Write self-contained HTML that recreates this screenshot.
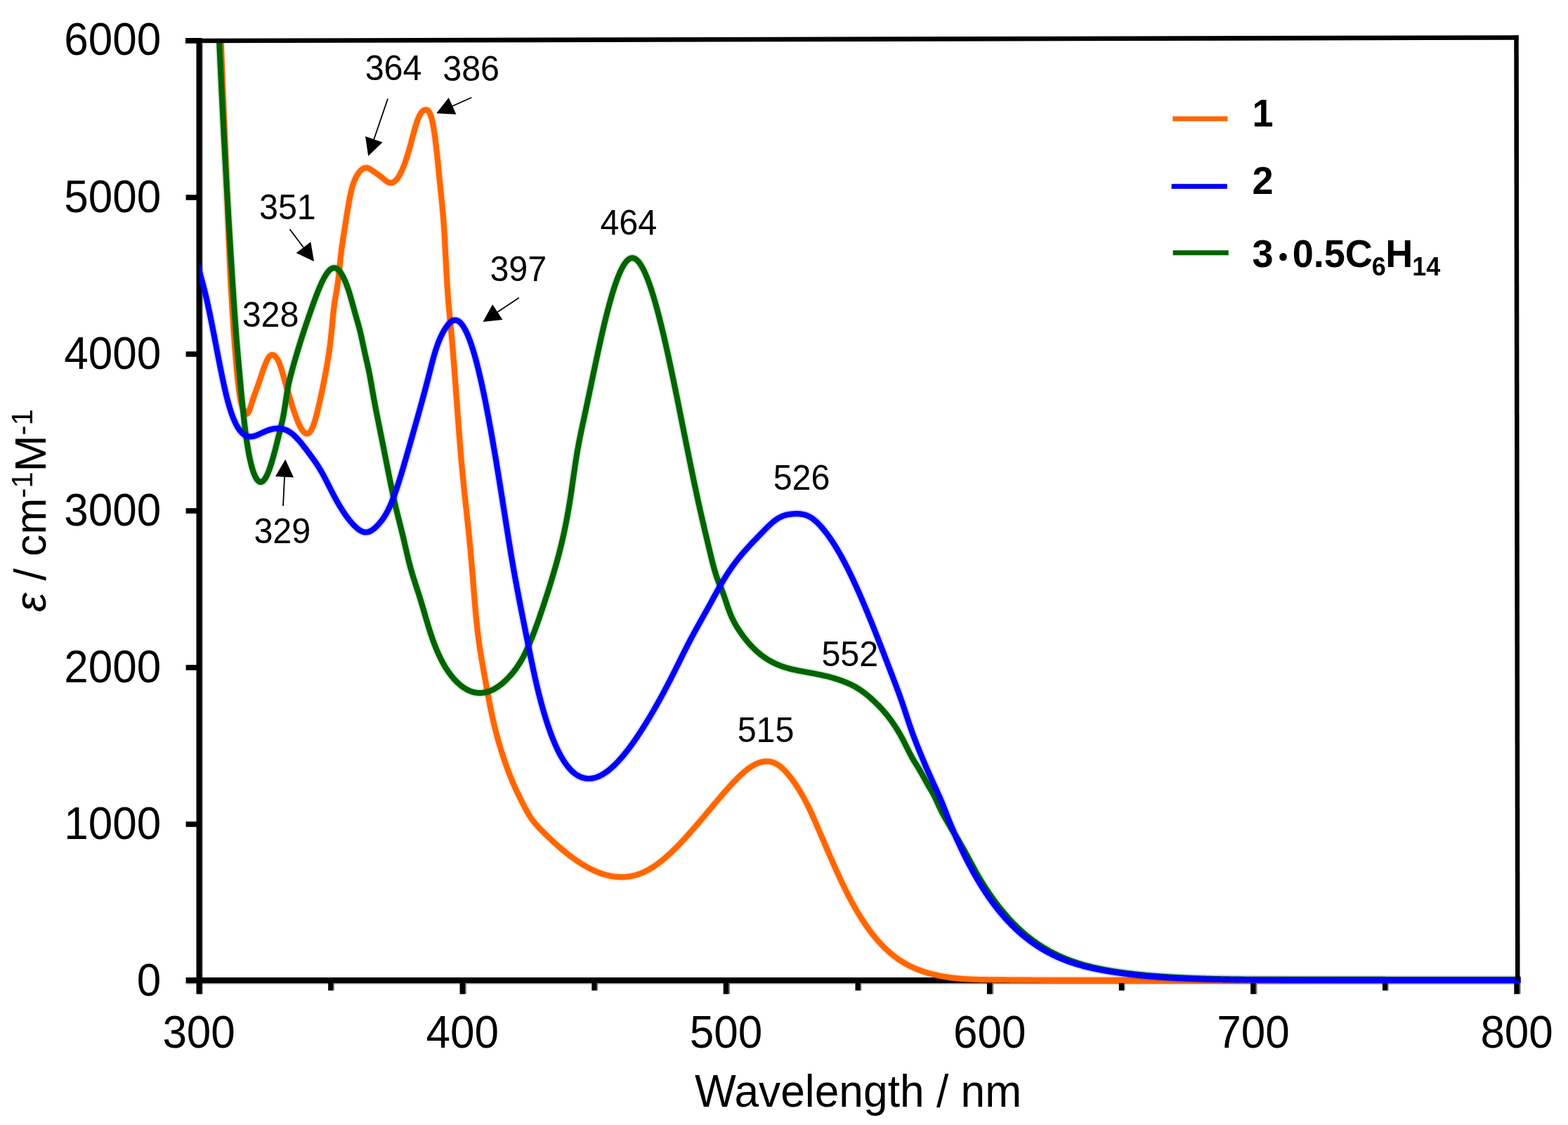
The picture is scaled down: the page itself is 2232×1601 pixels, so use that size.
<!DOCTYPE html>
<html lang="en"><head><meta charset="utf-8"><title>UV-vis absorption spectra</title>
<style>
html,body{margin:0;padding:0;background:#fff;}
body{width:2232px;height:1601px;overflow:hidden;}
svg{display:block;font-family:"Liberation Sans",Arial,Helvetica,sans-serif;fill:#000;}
.tk{font-size:62px;}
.an{font-size:48.4px;}
.lg{font-size:54px;font-weight:bold;}
.ax{font-size:62.3px;}
</style></head><body>
<svg xmlns="http://www.w3.org/2000/svg" width="2232" height="1601" viewBox="0 0 2232 1601">
<rect width="2232" height="1601" fill="#fff"/>
<defs><clipPath id="plot"><rect x="283.8" y="56" width="1880.8" height="1360"/></clipPath></defs>

<g fill="#000" stroke="none">
<rect x="279.5" y="54" width="8.1" height="1360.7"/>
<rect x="287.6" y="62" width="1.2" height="1352.7" fill-opacity="0.45"/>
<rect x="264.6" y="1391.0" width="1899.6" height="8.1"/>
<rect x="264.6" y="1399.1" width="1899.6" height="1.4" fill-opacity="0.4"/>
<rect x="264.6" y="1169.2" width="16" height="7.6"/>
<rect x="264.6" y="946.2" width="16" height="7.6"/>
<rect x="264.6" y="723.2" width="16" height="7.6"/>
<rect x="264.6" y="500.2" width="16" height="7.6"/>
<rect x="264.6" y="277.2" width="16" height="7.6"/>
<rect x="264" y="54" width="20" height="7.8"/>
<rect x="467.1" y="1395" width="7.4" height="14.6"/>
<rect x="474.5" y="1400" width="1.6" height="9.6" fill-opacity="0.4"/>
<rect x="654.5" y="1395" width="7.6" height="19.7"/>
<rect x="662.1" y="1400" width="1.8" height="14.7" fill-opacity="0.5"/>
<rect x="842.3" y="1395" width="7.4" height="14.6"/>
<rect x="849.7" y="1400" width="1.6" height="9.6" fill-opacity="0.4"/>
<rect x="1029.7" y="1395" width="7.6" height="19.7"/>
<rect x="1037.3" y="1400" width="1.8" height="14.7" fill-opacity="0.5"/>
<rect x="1217.5" y="1395" width="7.4" height="14.6"/>
<rect x="1224.9" y="1400" width="1.6" height="9.6" fill-opacity="0.4"/>
<rect x="1404.9" y="1395" width="7.6" height="19.7"/>
<rect x="1412.5" y="1400" width="1.8" height="14.7" fill-opacity="0.5"/>
<rect x="1592.7" y="1395" width="7.4" height="14.6"/>
<rect x="1600.1" y="1400" width="1.6" height="9.6" fill-opacity="0.4"/>
<rect x="1780.1" y="1395" width="7.6" height="19.7"/>
<rect x="1787.7" y="1400" width="1.8" height="14.7" fill-opacity="0.5"/>
<rect x="1967.9" y="1395" width="7.4" height="14.6"/>
<rect x="1975.3" y="1400" width="1.6" height="9.6" fill-opacity="0.4"/>
<rect x="2155.3" y="1395" width="7.6" height="19.7"/>
<rect x="2162.9" y="1400" width="1.8" height="14.7" fill-opacity="0.5"/>
</g>
<g fill="none" stroke-linejoin="round" stroke-linecap="butt" clip-path="url(#plot)">
<defs><path id="c1" d="M312.40,-0.37 L312.48,1.91 L312.56,4.18 L312.64,6.45 L312.72,8.71 L312.80,10.97 L312.88,13.22 L312.96,15.46 L313.04,17.70 L313.12,19.93 L313.20,22.15 L313.28,24.37 L313.36,26.58 L313.44,28.79 L313.52,30.99 L313.60,33.19 L313.68,35.38 L313.76,37.56 L313.84,39.74 L313.92,41.92 L314.00,44.09 L314.08,46.25 L314.16,48.41 L314.24,50.56 L314.32,52.71 L314.40,54.86 L314.48,56.99 L314.56,59.13 L314.64,61.26 L314.72,63.38 L314.80,65.50 L314.88,67.62 L314.96,69.73 L315.04,71.84 L315.12,73.94 L315.20,76.04 L315.28,78.13 L315.36,80.22 L315.44,82.31 L315.52,84.39 L315.60,86.47 L315.68,88.54 L315.76,90.61 L315.84,92.68 L315.92,94.74 L316.00,96.80 L316.08,98.86 L316.16,100.91 L316.24,102.96 L316.32,105.00 L316.40,107.04 L316.48,109.08 L316.56,111.12 L316.64,113.15 L316.72,115.18 L316.80,117.21 L316.88,119.23 L316.96,121.26 L317.04,123.28 L317.12,125.29 L317.20,127.31 L317.28,129.32 L317.36,131.33 L317.44,133.33 L317.52,135.34 L317.60,137.34 L317.68,139.34 L317.76,141.33 L317.84,143.33 L317.92,145.32 L318.00,147.32 L318.08,149.31 L318.16,151.29 L318.24,153.28 L318.32,155.26 L318.40,157.25 L318.48,159.23 L318.56,161.21 L318.64,163.19 L318.72,165.17 L318.80,167.14 L318.88,169.12 L318.96,171.09 L319.04,173.07 L319.12,175.04 L319.20,177.01 L319.28,178.98 L319.36,180.95 L319.44,182.92 L319.52,184.89 L319.60,186.86 L319.68,188.82 L319.76,190.79 L319.84,192.76 L319.92,194.72 L320.00,196.69 L320.08,198.66 L320.16,200.62 L320.24,202.59 L320.32,204.55 L320.40,206.52 L320.48,208.49 L320.56,210.45 L320.64,212.42 L320.72,214.39 L320.80,216.36 L320.88,218.32 L320.96,220.29 L321.04,222.26 L321.12,224.23 L321.20,226.20 L321.28,228.18 L321.36,230.15 L321.44,232.12 L321.52,234.10 L321.60,236.07 L321.68,238.05 L321.76,240.03 L321.84,242.01 L321.92,243.99 L322.00,245.97 L322.08,247.96 L322.16,249.94 L322.24,251.93 L322.32,253.92 L322.40,255.91 L322.48,257.91 L322.56,259.90 L322.64,261.90 L322.72,263.90 L322.80,265.90 L322.88,267.90 L322.96,269.91 L323.04,271.92 L323.12,273.93 L323.20,275.94 L323.28,277.96 L323.36,279.98 L323.44,282.00 L323.52,284.02 L323.60,286.05 L323.68,288.08 L323.76,290.11 L323.84,292.14 L323.92,294.18 L324.00,296.22 L324.08,298.27 L324.16,300.32 L324.24,302.37 L324.32,304.42 L324.40,306.48 L324.48,308.53 L324.56,310.59 L324.64,312.65 L324.72,314.71 L324.80,316.77 L324.88,318.83 L324.96,320.88 L325.04,322.93 L325.12,324.99 L325.20,327.03 L325.28,329.08 L325.36,331.12 L325.44,333.16 L325.52,335.19 L325.60,337.21 L325.68,339.23 L325.76,341.25 L325.84,343.26 L325.92,345.26 L326.00,347.25 L326.08,349.23 L326.16,351.21 L326.24,353.17 L326.32,355.13 L326.40,357.07 L326.48,359.01 L326.56,360.93 L326.64,362.84 L326.72,364.74 L326.80,366.63 L326.88,368.50 L326.96,370.36 L327.04,372.21 L327.12,374.04 L327.20,375.85 L327.28,377.65 L327.36,379.43 L327.44,381.20 L327.52,382.95 L327.60,384.68 L327.68,386.40 L327.76,388.09 L327.84,389.77 L327.92,391.43 L328.00,393.08 L328.08,394.71 L328.16,396.32 L328.24,397.92 L328.32,399.50 L328.40,401.07 L328.48,402.62 L328.56,404.16 L328.64,405.68 L328.72,407.19 L328.80,408.69 L328.88,410.17 L328.96,411.65 L329.04,413.11 L329.12,414.55 L329.20,415.99 L329.28,417.42 L329.36,418.83 L329.44,420.24 L329.52,421.63 L329.60,423.02 L329.68,424.39 L329.76,425.76 L329.84,427.12 L329.92,428.47 L330.00,429.81 L330.08,431.15 L330.16,432.47 L330.24,433.79 L330.32,435.11 L330.40,436.42 L330.48,437.72 L330.56,439.02 L330.64,440.31 L330.72,441.60 L330.80,442.88 L330.88,444.16 L330.96,445.43 L331.04,446.70 L331.12,447.96 L331.20,449.22 L331.28,450.47 L331.36,451.72 L331.44,452.96 L331.52,454.20 L331.60,455.43 L331.68,456.66 L331.76,457.89 L331.84,459.10 L331.92,460.32 L332.00,461.52 L332.08,462.73 L332.16,463.92 L332.24,465.12 L332.32,466.30 L332.40,467.49 L332.48,468.66 L332.56,469.83 L332.64,471.00 L332.72,472.16 L332.80,473.32 L332.88,474.47 L332.96,475.61 L333.04,476.75 L333.12,477.89 L333.20,479.02 L333.28,480.14 L333.36,481.26 L333.44,482.37 L333.52,483.48 L333.60,484.58 L333.68,485.68 L333.76,486.77 L333.84,487.86 L333.92,488.94 L334.00,490.01 L334.08,491.08 L334.16,492.14 L334.24,493.20 L334.32,494.25 L334.40,495.30 L334.48,496.34 L334.56,497.38 L334.64,498.41 L334.72,499.43 L334.80,500.45 L334.88,501.46 L334.96,502.47 L335.04,503.47 L335.12,504.47 L335.20,505.46 L335.28,506.46 L335.36,507.45 L335.44,508.44 L335.53,509.44 L335.61,510.43 L335.69,511.42 L335.78,512.42 L335.86,513.41 L335.95,514.40 L336.03,515.40 L336.12,516.39 L336.20,517.38 L336.29,518.38 L336.38,519.37 L336.47,520.36 L336.56,521.35 L336.65,522.34 L336.74,523.34 L336.83,524.33 L336.92,525.32 L337.01,526.31 L337.11,527.30 L337.20,528.29 L337.30,529.29 L337.39,530.28 L337.49,531.27 L337.59,532.26 L337.68,533.25 L337.78,534.24 L337.88,535.23 L337.99,536.22 L338.09,537.21 L338.19,538.20 L338.30,539.19 L338.40,540.18 L338.51,541.16 L338.62,542.15 L338.73,543.14 L338.84,544.13 L338.95,545.12 L339.06,546.10 L339.18,547.09 L339.29,548.08 L339.41,549.06 L339.53,550.05 L339.65,551.03 L339.78,552.02 L339.90,553.00 L340.03,553.98 L340.16,554.97 L340.29,555.95 L340.43,556.93 L340.56,557.91 L340.70,558.89 L340.84,559.87 L340.99,560.85 L341.14,561.83 L341.29,562.80 L341.45,563.78 L341.61,564.75 L341.77,565.72 L341.94,566.69 L342.11,567.66 L342.30,568.63 L342.48,569.59 L342.68,570.55 L342.88,571.51 L343.09,572.46 L343.31,573.41 L343.55,574.35 L343.80,575.29 L344.06,576.23 L344.34,577.15 L344.63,578.08 L344.95,578.99 L345.29,579.90 L345.65,580.80 L346.03,581.69 L346.44,582.58 L346.86,583.46 L347.31,584.34 L347.76,585.23 L348.22,586.09 L348.70,586.93 L349.22,587.72 L349.80,588.43 L350.50,588.96 L351.40,589.04 L352.36,588.41 L353.07,587.54 L353.64,586.62 L354.12,585.68 L354.56,584.73 L354.97,583.78 L355.35,582.83 L355.71,581.87 L356.06,580.92 L356.39,579.96 L356.72,579.00 L357.03,578.04 L357.35,577.08 L357.65,576.12 L357.95,575.17 L358.25,574.21 L358.55,573.25 L358.85,572.30 L359.15,571.34 L359.44,570.39 L359.74,569.44 L360.04,568.49 L360.34,567.54 L360.65,566.60 L360.96,565.66 L361.28,564.72 L361.60,563.78 L361.93,562.84 L362.26,561.90 L362.59,560.96 L362.93,560.03 L363.27,559.09 L363.62,558.16 L363.96,557.22 L364.31,556.28 L364.66,555.35 L365.01,554.41 L365.36,553.47 L365.70,552.53 L366.05,551.59 L366.39,550.65 L366.74,549.70 L367.07,548.76 L367.41,547.81 L367.74,546.86 L368.07,545.91 L368.40,544.97 L368.72,544.02 L369.05,543.07 L369.37,542.12 L369.69,541.17 L370.00,540.22 L370.32,539.27 L370.64,538.32 L370.96,537.37 L371.27,536.42 L371.59,535.47 L371.90,534.53 L372.22,533.58 L372.54,532.63 L372.86,531.69 L373.18,530.74 L373.50,529.80 L373.82,528.85 L374.14,527.91 L374.47,526.97 L374.80,526.03 L375.13,525.09 L375.47,524.15 L375.81,523.22 L376.15,522.29 L376.50,521.36 L376.85,520.43 L377.21,519.50 L377.57,518.58 L377.94,517.66 L378.32,516.75 L378.71,515.84 L379.10,514.94 L379.51,514.04 L379.93,513.15 L380.37,512.27 L380.82,511.40 L381.29,510.55 L381.78,509.71 L382.30,508.89 L382.86,508.10 L383.45,507.35 L384.10,506.65 L384.81,506.02 L385.61,505.51 L386.49,505.15 L387.45,505.00 L388.45,505.10 L389.43,505.44 L390.33,505.96 L391.16,506.59 L391.92,507.30 L392.62,508.06 L393.28,508.86 L393.90,509.69 L394.48,510.54 L395.02,511.42 L395.53,512.31 L396.01,513.22 L396.47,514.14 L396.90,515.07 L397.31,516.01 L397.70,516.96 L398.07,517.91 L398.43,518.87 L398.77,519.82 L399.10,520.78 L399.43,521.74 L399.75,522.70 L400.06,523.66 L400.36,524.62 L400.66,525.58 L400.96,526.54 L401.25,527.51 L401.54,528.47 L401.82,529.43 L402.10,530.40 L402.38,531.36 L402.66,532.32 L402.94,533.29 L403.22,534.25 L403.49,535.21 L403.77,536.17 L404.04,537.13 L404.32,538.10 L404.59,539.06 L404.87,540.02 L405.14,540.98 L405.42,541.94 L405.69,542.90 L405.97,543.86 L406.24,544.82 L406.52,545.78 L406.79,546.75 L407.07,547.71 L407.35,548.67 L407.62,549.63 L407.90,550.59 L408.18,551.55 L408.46,552.51 L408.73,553.47 L409.01,554.42 L409.29,555.38 L409.57,556.34 L409.85,557.30 L410.14,558.26 L410.42,559.22 L410.70,560.18 L410.98,561.13 L411.27,562.09 L411.55,563.05 L411.84,564.00 L412.13,564.96 L412.41,565.92 L412.70,566.87 L412.99,567.83 L413.28,568.78 L413.57,569.74 L413.87,570.69 L414.16,571.64 L414.46,572.60 L414.75,573.55 L415.05,574.50 L415.35,575.45 L415.65,576.41 L415.95,577.36 L416.26,578.31 L416.56,579.25 L416.87,580.20 L417.18,581.15 L417.49,582.10 L417.80,583.04 L418.12,583.99 L418.44,584.93 L418.75,585.88 L419.08,586.82 L419.40,587.76 L419.73,588.70 L420.06,589.64 L420.40,590.58 L420.73,591.51 L421.07,592.45 L421.42,593.38 L421.77,594.31 L422.12,595.24 L422.48,596.17 L422.84,597.09 L423.21,598.01 L423.58,598.93 L423.96,599.85 L424.35,600.76 L424.74,601.67 L425.14,602.58 L425.55,603.48 L425.96,604.38 L426.39,605.27 L426.82,606.15 L427.27,607.03 L427.73,607.91 L428.20,608.77 L428.69,609.62 L429.19,610.47 L429.72,611.29 L430.26,612.11 L430.84,612.90 L431.43,613.66 L432.07,614.40 L432.74,615.09 L433.46,615.73 L434.24,616.30 L435.08,616.76 L435.99,617.07 L436.96,617.19 L437.96,617.05 L438.93,616.67 L439.81,616.10 L440.61,615.39 L441.31,614.61 L441.95,613.78 L442.53,612.91 L443.06,612.02 L443.55,611.11 L444.02,610.19 L444.45,609.26 L444.86,608.32 L445.26,607.38 L445.63,606.43 L446.00,605.48 L446.35,604.53 L446.69,603.57 L447.01,602.61 L447.34,601.65 L447.65,600.69 L447.95,599.72 L448.25,598.76 L448.54,597.79 L448.83,596.82 L449.11,595.85 L449.39,594.88 L449.66,593.91 L449.93,592.94 L450.19,591.97 L450.45,591.00 L450.71,590.03 L450.96,589.05 L451.21,588.08 L451.46,587.10 L451.71,586.13 L451.95,585.15 L452.19,584.18 L452.43,583.20 L452.66,582.23 L452.90,581.25 L453.13,580.27 L453.36,579.30 L453.59,578.32 L453.82,577.34 L454.04,576.36 L454.26,575.38 L454.49,574.41 L454.71,573.43 L454.93,572.45 L455.15,571.47 L455.36,570.49 L455.58,569.51 L455.80,568.53 L456.01,567.56 L456.22,566.58 L456.44,565.60 L456.65,564.62 L456.86,563.64 L457.07,562.66 L457.28,561.68 L457.48,560.70 L457.69,559.72 L457.90,558.74 L458.10,557.76 L458.31,556.78 L458.51,555.79 L458.72,554.81 L458.92,553.83 L459.12,552.85 L459.32,551.87 L459.52,550.89 L459.72,549.90 L459.92,548.92 L460.11,547.94 L460.31,546.96 L460.51,545.97 L460.70,544.99 L460.89,544.01 L461.09,543.02 L461.28,542.04 L461.47,541.06 L461.66,540.07 L461.85,539.09 L462.04,538.10 L462.23,537.12 L462.41,536.13 L462.60,535.15 L462.78,534.17 L462.97,533.18 L463.15,532.19 L463.34,531.21 L463.52,530.22 L463.70,529.24 L463.88,528.25 L464.06,527.27 L464.24,526.28 L464.42,525.29 L464.59,524.31 L464.77,523.32 L464.95,522.33 L465.12,521.35 L465.30,520.36 L465.47,519.37 L465.64,518.39 L465.81,517.40 L465.98,516.41 L466.15,515.42 L466.32,514.43 L466.49,513.44 L466.66,512.45 L466.82,511.46 L466.99,510.47 L467.15,509.48 L467.31,508.48 L467.47,507.49 L467.62,506.50 L467.78,505.50 L467.93,504.51 L468.08,503.51 L468.23,502.52 L468.37,501.52 L468.52,500.52 L468.66,499.53 L468.80,498.53 L468.94,497.53 L469.08,496.53 L469.21,495.54 L469.34,494.54 L469.47,493.54 L469.60,492.54 L469.73,491.54 L469.85,490.54 L469.98,489.54 L470.10,488.54 L470.22,487.54 L470.34,486.54 L470.45,485.54 L470.57,484.54 L470.68,483.54 L470.79,482.54 L470.90,481.54 L471.01,480.54 L471.12,479.54 L471.23,478.54 L471.33,477.54 L471.44,476.54 L471.54,475.53 L471.64,474.54 L471.74,473.54 L471.84,472.54 L471.94,471.54 L472.03,470.54 L472.13,469.54 L472.23,468.54 L472.32,467.55 L472.42,466.55 L472.52,465.55 L472.61,464.56 L472.71,463.56 L472.80,462.57 L472.90,461.57 L472.99,460.57 L473.09,459.58 L473.18,458.59 L473.28,457.59 L473.37,456.60 L473.47,455.61 L473.57,454.61 L473.66,453.62 L473.76,452.63 L473.86,451.64 L473.96,450.65 L474.06,449.65 L474.16,448.67 L474.26,447.68 L474.36,446.69 L474.47,445.70 L474.58,444.71 L474.68,443.73 L474.79,442.74 L474.90,441.76 L475.02,440.77 L475.13,439.79 L475.25,438.81 L475.37,437.83 L475.49,436.85 L475.62,435.87 L475.75,434.89 L475.88,433.91 L476.02,432.93 L476.16,431.95 L476.30,430.97 L476.44,429.99 L476.59,429.01 L476.74,428.03 L476.89,427.05 L477.05,426.07 L477.21,425.09 L477.37,424.11 L477.53,423.13 L477.70,422.15 L477.87,421.17 L478.03,420.19 L478.20,419.21 L478.37,418.22 L478.54,417.23 L478.71,416.25 L478.88,415.26 L479.05,414.27 L479.22,413.28 L479.38,412.28 L479.55,411.29 L479.71,410.30 L479.87,409.30 L480.02,408.30 L480.17,407.30 L480.32,406.30 L480.47,405.30 L480.61,404.30 L480.75,403.30 L480.89,402.30 L481.02,401.30 L481.15,400.29 L481.28,399.29 L481.41,398.29 L481.53,397.29 L481.65,396.28 L481.77,395.28 L481.88,394.28 L482.00,393.28 L482.11,392.28 L482.22,391.28 L482.33,390.28 L482.44,389.28 L482.55,388.29 L482.66,387.29 L482.76,386.29 L482.87,385.29 L482.97,384.30 L483.08,383.30 L483.18,382.30 L483.29,381.31 L483.39,380.31 L483.49,379.32 L483.60,378.32 L483.70,377.33 L483.80,376.33 L483.91,375.34 L484.01,374.34 L484.11,373.35 L484.22,372.36 L484.32,371.37 L484.43,370.37 L484.53,369.38 L484.64,368.39 L484.74,367.40 L484.85,366.41 L484.96,365.42 L485.07,364.43 L485.18,363.44 L485.29,362.46 L485.40,361.47 L485.52,360.48 L485.64,359.50 L485.75,358.51 L485.87,357.53 L486.00,356.54 L486.12,355.56 L486.24,354.57 L486.37,353.59 L486.50,352.60 L486.63,351.62 L486.76,350.64 L486.90,349.65 L487.04,348.67 L487.18,347.68 L487.32,346.70 L487.46,345.72 L487.60,344.73 L487.75,343.75 L487.89,342.77 L488.04,341.78 L488.19,340.80 L488.34,339.81 L488.50,338.83 L488.65,337.84 L488.81,336.86 L488.96,335.87 L489.12,334.89 L489.27,333.90 L489.43,332.91 L489.59,331.93 L489.75,330.94 L489.90,329.95 L490.06,328.96 L490.22,327.97 L490.37,326.98 L490.53,325.99 L490.68,325.00 L490.84,324.01 L490.99,323.02 L491.14,322.04 L491.30,321.05 L491.45,320.06 L491.60,319.07 L491.76,318.08 L491.91,317.09 L492.06,316.10 L492.22,315.12 L492.37,314.13 L492.52,313.14 L492.68,312.15 L492.83,311.17 L492.98,310.18 L493.14,309.19 L493.29,308.21 L493.45,307.22 L493.60,306.23 L493.76,305.25 L493.92,304.26 L494.07,303.28 L494.23,302.29 L494.39,301.31 L494.55,300.32 L494.71,299.34 L494.87,298.35 L495.03,297.37 L495.19,296.39 L495.36,295.40 L495.52,294.42 L495.69,293.44 L495.86,292.46 L496.03,291.48 L496.20,290.49 L496.37,289.51 L496.54,288.54 L496.72,287.56 L496.90,286.58 L497.08,285.60 L497.26,284.63 L497.44,283.65 L497.63,282.68 L497.82,281.70 L498.02,280.73 L498.21,279.76 L498.41,278.79 L498.62,277.82 L498.83,276.85 L499.04,275.89 L499.26,274.92 L499.48,273.96 L499.71,272.99 L499.94,272.03 L500.18,271.07 L500.42,270.12 L500.67,269.16 L500.92,268.21 L501.18,267.25 L501.45,266.30 L501.73,265.36 L502.01,264.41 L502.30,263.47 L502.60,262.53 L502.91,261.60 L503.23,260.67 L503.56,259.74 L503.90,258.82 L504.25,257.90 L504.62,256.99 L505.00,256.08 L505.39,255.18 L505.79,254.28 L506.21,253.40 L506.65,252.52 L507.10,251.64 L507.57,250.78 L508.05,249.93 L508.55,249.08 L509.07,248.25 L509.61,247.42 L510.17,246.61 L510.74,245.81 L511.34,245.03 L511.95,244.27 L512.60,243.54 L513.27,242.83 L513.97,242.15 L514.71,241.51 L515.48,240.91 L516.29,240.37 L517.14,239.89 L518.03,239.48 L518.96,239.17 L519.93,238.96 L520.92,238.87 L521.92,238.90 L522.91,239.05 L523.89,239.32 L524.84,239.67 L525.76,240.09 L526.66,240.57 L527.53,241.08 L528.39,241.62 L529.22,242.17 L530.05,242.75 L530.87,243.33 L531.68,243.91 L532.50,244.48 L533.32,245.05 L534.14,245.62 L534.96,246.18 L535.79,246.75 L536.62,247.31 L537.44,247.88 L538.27,248.45 L539.08,249.03 L539.90,249.62 L540.70,250.22 L541.50,250.83 L542.29,251.45 L543.07,252.09 L543.84,252.74 L544.60,253.39 L545.36,254.04 L546.12,254.70 L546.88,255.34 L547.64,255.98 L548.41,256.60 L549.20,257.20 L550.00,257.79 L550.82,258.33 L551.66,258.84 L552.53,259.30 L553.43,259.69 L554.36,260.00 L555.33,260.20 L556.32,260.27 L557.32,260.19 L558.31,259.97 L559.27,259.62 L560.19,259.17 L561.06,258.62 L561.88,258.01 L562.66,257.34 L563.40,256.63 L564.10,255.88 L564.77,255.11 L565.41,254.31 L566.02,253.49 L566.61,252.66 L567.17,251.81 L567.72,250.95 L568.24,250.08 L568.75,249.21 L569.25,248.32 L569.73,247.43 L570.20,246.53 L570.66,245.63 L571.10,244.72 L571.54,243.81 L571.96,242.89 L572.38,241.97 L572.79,241.04 L573.19,240.12 L573.58,239.19 L573.97,238.25 L574.34,237.32 L574.72,236.38 L575.08,235.44 L575.44,234.50 L575.80,233.56 L576.14,232.61 L576.49,231.67 L576.83,230.72 L577.16,229.77 L577.49,228.82 L577.82,227.87 L578.14,226.91 L578.46,225.96 L578.77,225.00 L579.08,224.04 L579.39,223.09 L579.69,222.13 L579.99,221.17 L580.28,220.21 L580.58,219.25 L580.87,218.28 L581.16,217.32 L581.44,216.36 L581.72,215.39 L582.00,214.43 L582.28,213.46 L582.55,212.50 L582.82,211.53 L583.09,210.56 L583.36,209.59 L583.63,208.63 L583.89,207.66 L584.15,206.69 L584.41,205.72 L584.67,204.76 L584.93,203.79 L585.19,202.82 L585.45,201.85 L585.71,200.89 L585.96,199.92 L586.22,198.95 L586.47,197.99 L586.73,197.02 L586.99,196.05 L587.24,195.09 L587.50,194.12 L587.76,193.16 L588.02,192.19 L588.28,191.23 L588.54,190.27 L588.80,189.30 L589.06,188.34 L589.32,187.38 L589.59,186.42 L589.86,185.46 L590.13,184.50 L590.40,183.54 L590.67,182.59 L590.95,181.63 L591.23,180.68 L591.52,179.73 L591.80,178.78 L592.09,177.83 L592.39,176.88 L592.69,175.94 L593.00,174.99 L593.31,174.05 L593.63,173.12 L593.95,172.18 L594.29,171.26 L594.63,170.33 L594.98,169.41 L595.35,168.50 L595.72,167.59 L596.12,166.70 L596.52,165.80 L596.95,164.92 L597.39,164.05 L597.86,163.20 L598.35,162.35 L598.86,161.53 L599.41,160.73 L599.99,159.96 L600.61,159.22 L601.28,158.53 L602.00,157.89 L602.78,157.33 L603.62,156.86 L604.53,156.51 L605.49,156.32 L606.48,156.30 L607.48,156.47 L608.44,156.88 L609.31,157.51 L610.06,158.28 L610.70,159.14 L611.26,160.04 L611.76,160.97 L612.20,161.92 L612.61,162.89 L612.98,163.86 L613.32,164.83 L613.64,165.82 L613.94,166.80 L614.23,167.79 L614.50,168.78 L614.75,169.77 L615.00,170.76 L615.23,171.75 L615.46,172.75 L615.68,173.74 L615.88,174.74 L616.09,175.73 L616.28,176.73 L616.47,177.73 L616.66,178.73 L616.83,179.72 L617.01,180.72 L617.18,181.72 L617.35,182.71 L617.51,183.71 L617.67,184.71 L617.82,185.71 L617.98,186.70 L618.13,187.70 L618.28,188.70 L618.42,189.69 L618.57,190.69 L618.71,191.69 L618.85,192.69 L618.98,193.68 L619.12,194.68 L619.25,195.68 L619.39,196.68 L619.52,197.67 L619.65,198.67 L619.77,199.67 L619.90,200.67 L620.02,201.66 L620.15,202.66 L620.27,203.66 L620.39,204.66 L620.51,205.65 L620.63,206.65 L620.75,207.65 L620.86,208.65 L620.98,209.64 L621.09,210.64 L621.21,211.64 L621.32,212.64 L621.43,213.63 L621.54,214.63 L621.65,215.63 L621.76,216.63 L621.87,217.63 L621.98,218.62 L622.09,219.62 L622.19,220.62 L622.30,221.62 L622.40,222.61 L622.51,223.61 L622.61,224.61 L622.71,225.61 L622.82,226.60 L622.92,227.60 L623.02,228.60 L623.12,229.60 L623.22,230.59 L623.32,231.59 L623.42,232.59 L623.52,233.59 L623.62,234.58 L623.72,235.58 L623.81,236.58 L623.91,237.57 L624.01,238.57 L624.11,239.57 L624.20,240.56 L624.30,241.56 L624.40,242.55 L624.49,243.55 L624.59,244.54 L624.69,245.54 L624.78,246.53 L624.88,247.53 L624.98,248.52 L625.07,249.52 L625.17,250.51 L625.27,251.51 L625.36,252.50 L625.46,253.49 L625.56,254.49 L625.66,255.48 L625.76,256.47 L625.86,257.47 L625.96,258.46 L626.06,259.45 L626.16,260.44 L626.26,261.44 L626.36,262.43 L626.46,263.42 L626.57,264.41 L626.67,265.40 L626.77,266.40 L626.88,267.39 L626.98,268.38 L627.09,269.37 L627.19,270.37 L627.30,271.36 L627.41,272.36 L627.51,273.35 L627.62,274.35 L627.72,275.34 L627.83,276.34 L627.93,277.33 L628.04,278.33 L628.14,279.32 L628.25,280.32 L628.35,281.32 L628.45,282.32 L628.56,283.31 L628.66,284.31 L628.76,285.31 L628.86,286.31 L628.96,287.31 L629.06,288.31 L629.16,289.31 L629.26,290.31 L629.35,291.31 L629.45,292.31 L629.54,293.31 L629.64,294.31 L629.73,295.31 L629.82,296.31 L629.91,297.31 L630.00,298.31 L630.09,299.31 L630.18,300.31 L630.27,301.32 L630.35,302.32 L630.44,303.32 L630.52,304.32 L630.61,305.33 L630.69,306.33 L630.77,307.33 L630.85,308.33 L630.93,309.34 L631.01,310.37 L631.09,311.40 L631.17,312.45 L631.25,313.52 L631.33,314.59 L631.41,315.68 L631.49,316.79 L631.57,317.90 L631.65,319.04 L631.73,320.18 L631.81,321.35 L631.89,322.52 L631.97,323.72 L632.05,324.93 L632.13,326.15 L632.21,327.40 L632.29,328.66 L632.37,329.93 L632.45,331.23 L632.53,332.54 L632.61,333.87 L632.69,335.22 L632.77,336.58 L632.85,337.96 L632.93,339.35 L633.01,340.76 L633.09,342.18 L633.17,343.61 L633.25,345.06 L633.33,346.51 L633.41,347.98 L633.49,349.45 L633.57,350.93 L633.65,352.42 L633.73,353.92 L633.81,355.43 L633.89,356.94 L633.97,358.45 L634.05,359.97 L634.13,361.49 L634.21,363.02 L634.29,364.54 L634.37,366.07 L634.45,367.59 L634.53,369.12 L634.61,370.65 L634.69,372.17 L634.77,373.69 L634.85,375.21 L634.93,376.72 L635.01,378.23 L635.09,379.73 L635.17,381.22 L635.25,382.71 L635.33,384.19 L635.41,385.66 L635.49,387.12 L635.57,388.57 L635.65,390.01 L635.73,391.44 L635.81,392.85 L635.89,394.25 L635.97,395.64 L636.05,397.01 L636.13,398.37 L636.21,399.71 L636.29,401.03 L636.37,402.33 L636.45,403.62 L636.53,404.90 L636.61,406.15 L636.69,407.39 L636.77,408.62 L636.85,409.83 L636.93,411.03 L637.01,412.21 L637.09,413.37 L637.17,414.53 L637.25,415.66 L637.33,416.79 L637.41,417.90 L637.49,419.00 L637.57,420.09 L637.65,421.16 L637.73,422.23 L637.81,423.28 L637.89,424.32 L637.97,425.34 L638.05,426.36 L638.13,427.37 L638.21,428.37 L638.29,429.36 L638.37,430.35 L638.45,431.34 L638.54,432.33 L638.62,433.32 L638.71,434.32 L638.79,435.31 L638.88,436.30 L638.96,437.29 L639.05,438.28 L639.14,439.27 L639.23,440.27 L639.32,441.26 L639.41,442.25 L639.50,443.24 L639.59,444.23 L639.69,445.23 L639.78,446.22 L639.87,447.21 L639.97,448.20 L640.06,449.20 L640.16,450.19 L640.25,451.18 L640.35,452.18 L640.45,453.17 L640.54,454.16 L640.64,455.16 L640.74,456.15 L640.84,457.15 L640.93,458.14 L641.03,459.14 L641.13,460.13 L641.23,461.13 L641.32,462.12 L641.42,463.12 L641.52,464.12 L641.62,465.11 L641.71,466.11 L641.81,467.11 L641.91,468.10 L642.00,469.10 L642.10,470.10 L642.19,471.10 L642.29,472.10 L642.38,473.09 L642.48,474.09 L642.57,475.09 L642.66,476.09 L642.75,477.09 L642.84,478.09 L642.93,479.09 L643.02,480.09 L643.11,481.09 L643.20,482.08 L643.29,483.08 L643.38,484.08 L643.47,485.08 L643.55,486.08 L643.64,487.08 L643.73,488.08 L643.81,489.08 L643.90,490.07 L643.98,491.07 L644.07,492.07 L644.15,493.07 L644.24,494.07 L644.32,495.07 L644.40,496.07 L644.49,497.06 L644.57,498.06 L644.65,499.06 L644.73,500.06 L644.81,501.06 L644.90,502.06 L644.98,503.05 L645.06,504.05 L645.14,505.05 L645.22,506.05 L645.30,507.05 L645.38,508.05 L645.46,509.05 L645.54,510.06 L645.62,511.07 L645.70,512.08 L645.78,513.10 L645.86,514.12 L645.94,515.14 L646.02,516.16 L646.10,517.19 L646.18,518.21 L646.26,519.25 L646.34,520.28 L646.42,521.32 L646.50,522.35 L646.58,523.39 L646.66,524.44 L646.74,525.48 L646.82,526.53 L646.90,527.58 L646.98,528.63 L647.06,529.68 L647.14,530.74 L647.22,531.80 L647.30,532.85 L647.38,533.92 L647.46,534.98 L647.54,536.04 L647.62,537.11 L647.70,538.17 L647.78,539.24 L647.86,540.31 L647.94,541.38 L648.02,542.46 L648.10,543.53 L648.18,544.61 L648.26,545.68 L648.34,546.76 L648.42,547.84 L648.50,548.92 L648.58,550.00 L648.66,551.08 L648.74,552.16 L648.82,553.25 L648.90,554.33 L648.98,555.41 L649.06,556.50 L649.14,557.59 L649.22,558.67 L649.30,559.76 L649.38,560.85 L649.46,561.93 L649.54,563.02 L649.62,564.11 L649.70,565.20 L649.78,566.29 L649.86,567.38 L649.94,568.47 L650.02,569.56 L650.10,570.64 L650.18,571.73 L650.26,572.82 L650.34,573.91 L650.42,575.00 L650.50,576.09 L650.58,577.18 L650.66,578.26 L650.74,579.35 L650.82,580.44 L650.90,581.52 L650.98,582.61 L651.06,583.69 L651.14,584.77 L651.22,585.86 L651.30,586.94 L651.38,588.02 L651.46,589.10 L651.54,590.18 L651.62,591.26 L651.70,592.34 L651.78,593.41 L651.86,594.49 L651.94,595.56 L652.02,596.63 L652.10,597.71 L652.18,598.77 L652.26,599.84 L652.34,600.91 L652.42,601.97 L652.50,603.04 L652.58,604.10 L652.66,605.16 L652.74,606.22 L652.82,607.28 L652.90,608.33 L652.98,609.38 L653.06,610.43 L653.14,611.48 L653.22,612.53 L653.30,613.57 L653.38,614.62 L653.46,615.66 L653.54,616.69 L653.62,617.73 L653.70,618.76 L653.78,619.79 L653.86,620.82 L653.94,621.85 L654.02,622.87 L654.10,623.89 L654.18,624.91 L654.26,625.92 L654.34,626.93 L654.42,627.94 L654.50,628.95 L654.58,629.95 L654.66,630.95 L654.74,631.95 L654.82,632.94 L654.90,633.94 L654.98,634.93 L655.06,635.93 L655.14,636.92 L655.22,637.92 L655.31,638.91 L655.39,639.91 L655.47,640.90 L655.55,641.90 L655.64,642.89 L655.72,643.89 L655.80,644.88 L655.89,645.87 L655.97,646.87 L656.06,647.86 L656.14,648.86 L656.23,649.85 L656.31,650.84 L656.40,651.84 L656.49,652.83 L656.57,653.83 L656.66,654.82 L656.75,655.81 L656.84,656.81 L656.92,657.80 L657.01,658.79 L657.10,659.79 L657.19,660.78 L657.28,661.78 L657.37,662.77 L657.47,663.76 L657.56,664.76 L657.65,665.75 L657.74,666.74 L657.83,667.74 L657.93,668.73 L658.02,669.72 L658.12,670.72 L658.21,671.71 L658.30,672.70 L658.40,673.70 L658.50,674.69 L658.59,675.68 L658.69,676.68 L658.78,677.67 L658.88,678.66 L658.98,679.66 L659.08,680.65 L659.18,681.64 L659.27,682.64 L659.37,683.63 L659.47,684.62 L659.57,685.62 L659.67,686.61 L659.77,687.60 L659.87,688.60 L659.97,689.59 L660.08,690.58 L660.18,691.58 L660.28,692.57 L660.38,693.56 L660.48,694.56 L660.59,695.55 L660.69,696.54 L660.79,697.54 L660.90,698.53 L661.00,699.52 L661.11,700.52 L661.21,701.51 L661.32,702.50 L661.42,703.50 L661.53,704.49 L661.63,705.48 L661.74,706.48 L661.84,707.47 L661.95,708.46 L662.06,709.46 L662.16,710.45 L662.27,711.44 L662.38,712.44 L662.48,713.43 L662.59,714.43 L662.70,715.42 L662.80,716.41 L662.91,717.41 L663.02,718.40 L663.13,719.39 L663.23,720.39 L663.34,721.38 L663.45,722.38 L663.56,723.37 L663.66,724.37 L663.77,725.36 L663.88,726.35 L663.99,727.35 L664.10,728.34 L664.20,729.34 L664.31,730.33 L664.42,731.33 L664.52,732.32 L664.63,733.32 L664.74,734.31 L664.85,735.30 L664.95,736.30 L665.06,737.29 L665.17,738.29 L665.27,739.28 L665.38,740.28 L665.49,741.28 L665.59,742.27 L665.70,743.27 L665.80,744.26 L665.91,745.26 L666.01,746.25 L666.12,747.25 L666.22,748.24 L666.33,749.24 L666.43,750.24 L666.53,751.23 L666.64,752.23 L666.74,753.22 L666.84,754.22 L666.95,755.22 L667.05,756.21 L667.15,757.21 L667.25,758.20 L667.36,759.20 L667.46,760.20 L667.56,761.19 L667.66,762.19 L667.76,763.19 L667.86,764.18 L667.96,765.18 L668.06,766.18 L668.15,767.18 L668.25,768.17 L668.35,769.17 L668.45,770.17 L668.55,771.16 L668.64,772.16 L668.74,773.16 L668.83,774.16 L668.93,775.15 L669.03,776.15 L669.12,777.15 L669.21,778.15 L669.31,779.14 L669.40,780.14 L669.50,781.14 L669.59,782.14 L669.68,783.14 L669.77,784.13 L669.86,785.13 L669.96,786.13 L670.05,787.13 L670.14,788.13 L670.23,789.12 L670.32,790.12 L670.41,791.12 L670.49,792.12 L670.58,793.12 L670.67,794.12 L670.76,795.11 L670.84,796.11 L670.93,797.11 L671.02,798.11 L671.10,799.11 L671.19,800.11 L671.27,801.11 L671.36,802.11 L671.44,803.10 L671.53,804.10 L671.61,805.10 L671.69,806.10 L671.78,807.10 L671.86,808.10 L671.94,809.09 L672.02,810.09 L672.11,811.09 L672.19,812.09 L672.27,813.09 L672.35,814.08 L672.43,815.08 L672.51,816.08 L672.59,817.08 L672.67,818.08 L672.75,819.07 L672.83,820.07 L672.91,821.07 L672.99,822.07 L673.07,823.06 L673.15,824.06 L673.23,825.06 L673.31,826.06 L673.39,827.07 L673.47,828.07 L673.55,829.07 L673.63,830.07 L673.71,831.08 L673.79,832.08 L673.87,833.08 L673.95,834.08 L674.03,835.08 L674.11,836.09 L674.19,837.09 L674.27,838.09 L674.35,839.08 L674.43,840.08 L674.51,841.08 L674.59,842.07 L674.67,843.07 L674.75,844.07 L674.84,845.06 L674.92,846.06 L675.00,847.05 L675.08,848.05 L675.16,849.04 L675.24,850.04 L675.32,851.03 L675.40,852.03 L675.49,853.02 L675.57,854.02 L675.65,855.01 L675.73,856.01 L675.82,857.00 L675.90,858.00 L675.98,858.99 L676.07,859.99 L676.15,860.98 L676.24,861.98 L676.32,862.97 L676.41,863.96 L676.50,864.96 L676.58,865.95 L676.67,866.94 L676.76,867.94 L676.85,868.93 L676.93,869.92 L677.02,870.91 L677.11,871.91 L677.20,872.90 L677.30,873.89 L677.39,874.88 L677.48,875.87 L677.57,876.86 L677.67,877.86 L677.76,878.85 L677.86,879.84 L677.96,880.83 L678.06,881.82 L678.15,882.81 L678.25,883.80 L678.35,884.79 L678.46,885.78 L678.56,886.77 L678.66,887.76 L678.77,888.75 L678.87,889.74 L678.98,890.73 L679.09,891.72 L679.19,892.71 L679.30,893.70 L679.41,894.69 L679.53,895.68 L679.64,896.66 L679.75,897.65 L679.87,898.64 L679.98,899.63 L680.10,900.62 L680.22,901.60 L680.34,902.59 L680.46,903.58 L680.58,904.57 L680.71,905.55 L680.83,906.54 L680.96,907.53 L681.09,908.51 L681.22,909.50 L681.35,910.49 L681.48,911.47 L681.61,912.46 L681.74,913.44 L681.88,914.43 L682.02,915.42 L682.16,916.40 L682.30,917.39 L682.44,918.37 L682.58,919.36 L682.72,920.34 L682.87,921.32 L683.02,922.31 L683.17,923.29 L683.32,924.28 L683.47,925.26 L683.62,926.24 L683.77,927.23 L683.93,928.21 L684.09,929.19 L684.24,930.18 L684.40,931.16 L684.57,932.14 L684.73,933.13 L684.89,934.11 L685.05,935.09 L685.22,936.08 L685.39,937.06 L685.55,938.04 L685.72,939.03 L685.89,940.01 L686.06,940.99 L686.23,941.98 L686.40,942.96 L686.58,943.94 L686.75,944.93 L686.92,945.91 L687.09,946.89 L687.27,947.88 L687.44,948.86 L687.61,949.85 L687.79,950.83 L687.96,951.82 L688.14,952.80 L688.31,953.79 L688.48,954.77 L688.66,955.76 L688.83,956.74 L689.00,957.73 L689.18,958.71 L689.35,959.69 L689.53,960.68 L689.70,961.66 L689.87,962.65 L690.05,963.63 L690.22,964.62 L690.40,965.60 L690.57,966.58 L690.75,967.57 L690.92,968.55 L691.10,969.54 L691.27,970.52 L691.45,971.50 L691.63,972.49 L691.80,973.47 L691.98,974.45 L692.16,975.44 L692.33,976.42 L692.51,977.40 L692.69,978.39 L692.87,979.37 L693.05,980.35 L693.22,981.34 L693.40,982.32 L693.58,983.30 L693.76,984.28 L693.94,985.27 L694.13,986.25 L694.31,987.23 L694.49,988.21 L694.67,989.19 L694.85,990.17 L695.04,991.16 L695.22,992.14 L695.41,993.12 L695.59,994.10 L695.78,995.08 L695.97,996.06 L696.15,997.04 L696.34,998.02 L696.53,999.00 L696.72,999.98 L696.91,1000.96 L697.10,1001.94 L697.29,1002.92 L697.49,1003.90 L697.68,1004.88 L697.88,1005.86 L698.07,1006.83 L698.27,1007.81 L698.47,1008.79 L698.66,1009.77 L698.86,1010.74 L699.07,1011.72 L699.27,1012.70 L699.47,1013.67 L699.68,1014.65 L699.88,1015.62 L700.09,1016.60 L700.30,1017.57 L700.51,1018.55 L700.72,1019.52 L700.93,1020.49 L701.15,1021.47 L701.36,1022.44 L701.58,1023.41 L701.80,1024.39 L702.02,1025.36 L702.24,1026.33 L702.46,1027.30 L702.69,1028.27 L702.91,1029.24 L703.14,1030.21 L703.37,1031.18 L703.60,1032.15 L703.84,1033.12 L704.07,1034.09 L704.31,1035.06 L704.55,1036.02 L704.79,1036.99 L705.03,1037.96 L705.27,1038.92 L705.51,1039.89 L705.76,1040.86 L706.01,1041.82 L706.26,1042.78 L706.51,1043.75 L706.76,1044.71 L707.02,1045.68 L707.28,1046.64 L707.53,1047.60 L707.79,1048.56 L708.06,1049.53 L708.32,1050.49 L708.59,1051.45 L708.85,1052.41 L709.12,1053.37 L709.39,1054.33 L709.67,1055.28 L709.94,1056.24 L710.22,1057.20 L710.50,1058.16 L710.78,1059.12 L711.06,1060.07 L711.34,1061.03 L711.62,1061.98 L711.91,1062.94 L712.20,1063.89 L712.49,1064.85 L712.78,1065.80 L713.07,1066.75 L713.37,1067.71 L713.66,1068.66 L713.96,1069.61 L714.26,1070.56 L714.56,1071.51 L714.87,1072.46 L715.17,1073.41 L715.48,1074.36 L715.78,1075.31 L716.09,1076.26 L716.41,1077.20 L716.72,1078.15 L717.03,1079.10 L717.35,1080.04 L717.67,1080.99 L717.99,1081.93 L718.31,1082.88 L718.64,1083.82 L718.96,1084.76 L719.29,1085.70 L719.62,1086.64 L719.95,1087.58 L720.29,1088.52 L720.62,1089.46 L720.96,1090.40 L721.30,1091.34 L721.64,1092.27 L721.99,1093.21 L722.33,1094.15 L722.68,1095.08 L723.03,1096.01 L723.38,1096.95 L723.73,1097.88 L724.09,1098.81 L724.45,1099.74 L724.81,1100.67 L725.17,1101.60 L725.54,1102.53 L725.90,1103.45 L726.27,1104.38 L726.64,1105.31 L727.01,1106.23 L727.39,1107.15 L727.77,1108.08 L728.15,1109.00 L728.53,1109.92 L728.91,1110.84 L729.30,1111.76 L729.69,1112.68 L730.08,1113.60 L730.47,1114.51 L730.86,1115.43 L731.26,1116.34 L731.66,1117.26 L732.06,1118.17 L732.47,1119.08 L732.87,1119.99 L733.28,1120.90 L733.69,1121.81 L734.10,1122.72 L734.52,1123.63 L734.93,1124.54 L735.35,1125.44 L735.77,1126.34 L736.19,1127.25 L736.62,1128.15 L737.05,1129.05 L737.48,1129.95 L737.91,1130.85 L738.34,1131.75 L738.78,1132.65 L739.21,1133.55 L739.65,1134.44 L740.09,1135.34 L740.53,1136.23 L740.98,1137.13 L741.42,1138.02 L741.87,1138.91 L742.32,1139.80 L742.77,1140.69 L743.23,1141.58 L743.68,1142.47 L744.14,1143.36 L744.60,1144.25 L745.05,1145.13 L745.51,1146.02 L745.98,1146.90 L746.44,1147.79 L746.91,1148.67 L747.37,1149.55 L747.84,1150.43 L748.32,1151.31 L748.79,1152.18 L749.27,1153.06 L749.75,1153.93 L750.24,1154.80 L750.73,1155.67 L751.22,1156.53 L751.72,1157.39 L752.22,1158.25 L752.73,1159.10 L753.25,1159.95 L753.77,1160.80 L754.30,1161.64 L754.84,1162.47 L755.38,1163.30 L755.93,1164.13 L756.49,1164.95 L757.06,1165.76 L757.64,1166.56 L758.23,1167.36 L758.83,1168.16 L759.43,1168.95 L760.05,1169.73 L760.67,1170.50 L761.30,1171.27 L761.94,1172.03 L762.58,1172.79 L763.23,1173.54 L763.89,1174.29 L764.56,1175.02 L765.23,1175.76 L765.91,1176.49 L766.59,1177.22 L767.28,1177.94 L767.97,1178.66 L768.67,1179.37 L769.36,1180.09 L770.06,1180.80 L770.76,1181.51 L771.47,1182.22 L772.17,1182.93 L772.88,1183.64 L773.58,1184.35 L774.29,1185.05 L775.00,1185.76 L775.71,1186.46 L776.42,1187.16 L777.13,1187.86 L777.85,1188.56 L778.56,1189.26 L779.28,1189.95 L780.00,1190.65 L780.72,1191.34 L781.44,1192.03 L782.16,1192.72 L782.88,1193.41 L783.61,1194.09 L784.34,1194.78 L785.06,1195.46 L785.79,1196.15 L786.53,1196.83 L787.26,1197.50 L787.99,1198.18 L788.73,1198.85 L789.47,1199.53 L790.21,1200.20 L790.95,1200.87 L791.69,1201.54 L792.44,1202.20 L793.19,1202.86 L793.93,1203.53 L794.68,1204.19 L795.44,1204.84 L796.19,1205.50 L796.95,1206.15 L797.70,1206.80 L798.46,1207.45 L799.22,1208.10 L799.99,1208.74 L800.75,1209.38 L801.52,1210.02 L802.29,1210.66 L803.06,1211.29 L803.83,1211.93 L804.61,1212.55 L805.39,1213.18 L806.17,1213.81 L806.95,1214.43 L807.73,1215.05 L808.52,1215.66 L809.31,1216.27 L810.10,1216.88 L810.89,1217.49 L811.68,1218.10 L812.48,1218.70 L813.28,1219.29 L814.08,1219.89 L814.89,1220.48 L815.69,1221.07 L816.50,1221.65 L817.32,1222.24 L818.13,1222.81 L818.95,1223.39 L819.77,1223.96 L820.59,1224.52 L821.41,1225.09 L822.24,1225.65 L823.07,1226.20 L823.90,1226.75 L824.74,1227.30 L825.58,1227.84 L826.42,1228.38 L827.26,1228.91 L828.11,1229.44 L828.96,1229.97 L829.81,1230.49 L830.66,1231.00 L831.52,1231.51 L832.38,1232.02 L833.25,1232.52 L834.11,1233.01 L834.98,1233.50 L835.86,1233.99 L836.73,1234.47 L837.61,1234.94 L838.49,1235.41 L839.38,1235.87 L840.27,1236.32 L841.16,1236.77 L842.05,1237.22 L842.95,1237.65 L843.85,1238.08 L844.75,1238.51 L845.66,1238.92 L846.57,1239.33 L847.49,1239.74 L848.40,1240.13 L849.32,1240.52 L850.25,1240.90 L851.17,1241.27 L852.10,1241.64 L853.03,1241.99 L853.97,1242.34 L854.91,1242.68 L855.85,1243.01 L856.79,1243.34 L857.74,1243.65 L858.69,1243.95 L859.65,1244.25 L860.60,1244.54 L861.56,1244.81 L862.52,1245.08 L863.49,1245.34 L864.46,1245.58 L865.43,1245.82 L866.40,1246.05 L867.38,1246.26 L868.35,1246.47 L869.33,1246.66 L870.31,1246.85 L871.30,1247.02 L872.28,1247.18 L873.27,1247.33 L874.26,1247.47 L875.25,1247.59 L876.25,1247.70 L877.24,1247.81 L878.24,1247.89 L879.23,1247.97 L880.23,1248.03 L881.23,1248.09 L882.23,1248.12 L883.23,1248.15 L884.23,1248.16 L885.23,1248.16 L886.23,1248.15 L887.23,1248.12 L888.23,1248.08 L889.22,1248.03 L890.22,1247.96 L891.22,1247.88 L892.22,1247.79 L893.21,1247.68 L894.20,1247.56 L895.20,1247.42 L896.19,1247.28 L897.17,1247.11 L898.16,1246.94 L899.14,1246.75 L900.13,1246.55 L901.10,1246.34 L902.08,1246.11 L903.05,1245.87 L904.02,1245.62 L904.99,1245.35 L905.95,1245.07 L906.91,1244.78 L907.86,1244.48 L908.81,1244.17 L909.76,1243.84 L910.70,1243.50 L911.64,1243.15 L912.58,1242.79 L913.51,1242.41 L914.43,1242.03 L915.35,1241.63 L916.27,1241.22 L917.18,1240.80 L918.09,1240.37 L918.99,1239.93 L919.89,1239.48 L920.78,1239.03 L921.66,1238.56 L922.55,1238.08 L923.42,1237.59 L924.29,1237.10 L925.16,1236.59 L926.02,1236.08 L926.88,1235.56 L927.74,1235.04 L928.58,1234.50 L929.43,1233.96 L930.27,1233.42 L931.10,1232.86 L931.93,1232.30 L932.76,1231.73 L933.58,1231.16 L934.40,1230.58 L935.22,1230.00 L936.03,1229.41 L936.83,1228.81 L937.64,1228.21 L938.44,1227.61 L939.23,1227.00 L940.02,1226.38 L940.81,1225.76 L941.59,1225.14 L942.38,1224.51 L943.15,1223.88 L943.93,1223.24 L944.70,1222.60 L945.47,1221.96 L946.23,1221.31 L946.99,1220.66 L947.75,1220.00 L948.50,1219.34 L949.26,1218.68 L950.01,1218.02 L950.75,1217.35 L951.50,1216.68 L952.24,1216.00 L952.98,1215.33 L953.71,1214.65 L954.44,1213.96 L955.18,1213.28 L955.90,1212.59 L956.63,1211.90 L957.35,1211.21 L958.07,1210.51 L958.79,1209.82 L959.51,1209.12 L960.22,1208.41 L960.94,1207.71 L961.65,1207.00 L962.35,1206.29 L963.06,1205.58 L963.76,1204.87 L964.47,1204.16 L965.17,1203.44 L965.86,1202.72 L966.56,1202.01 L967.25,1201.28 L967.95,1200.56 L968.64,1199.84 L969.33,1199.11 L970.02,1198.38 L970.70,1197.66 L971.39,1196.93 L972.07,1196.19 L972.75,1195.46 L973.43,1194.73 L974.11,1193.99 L974.79,1193.25 L975.47,1192.52 L976.14,1191.78 L976.81,1191.04 L977.49,1190.29 L978.16,1189.55 L978.83,1188.81 L979.50,1188.06 L980.16,1187.32 L980.83,1186.57 L981.50,1185.82 L982.16,1185.08 L982.82,1184.33 L983.49,1183.58 L984.15,1182.83 L984.81,1182.07 L985.47,1181.32 L986.13,1180.57 L986.78,1179.81 L987.44,1179.06 L988.10,1178.30 L988.75,1177.55 L989.41,1176.79 L990.06,1176.03 L990.71,1175.28 L991.37,1174.52 L992.02,1173.76 L992.67,1173.00 L993.32,1172.24 L993.97,1171.48 L994.62,1170.72 L995.27,1169.96 L995.92,1169.19 L996.57,1168.43 L997.21,1167.67 L997.86,1166.91 L998.51,1166.14 L999.15,1165.38 L999.80,1164.62 L1000.45,1163.85 L1001.09,1163.09 L1001.74,1162.33 L1002.38,1161.56 L1003.03,1160.80 L1003.67,1160.03 L1004.31,1159.27 L1004.96,1158.50 L1005.60,1157.74 L1006.25,1156.97 L1006.89,1156.20 L1007.53,1155.44 L1008.18,1154.67 L1008.82,1153.91 L1009.46,1153.14 L1010.11,1152.38 L1010.75,1151.61 L1011.39,1150.85 L1012.04,1150.08 L1012.68,1149.32 L1013.33,1148.55 L1013.97,1147.79 L1014.61,1147.02 L1015.26,1146.26 L1015.90,1145.49 L1016.55,1144.73 L1017.19,1143.96 L1017.84,1143.20 L1018.48,1142.44 L1019.13,1141.67 L1019.78,1140.91 L1020.42,1140.15 L1021.07,1139.39 L1021.72,1138.63 L1022.36,1137.86 L1023.01,1137.10 L1023.66,1136.34 L1024.31,1135.58 L1024.96,1134.82 L1025.61,1134.06 L1026.26,1133.31 L1026.91,1132.55 L1027.57,1131.79 L1028.22,1131.03 L1028.87,1130.28 L1029.53,1129.52 L1030.18,1128.77 L1030.84,1128.01 L1031.50,1127.26 L1032.15,1126.51 L1032.81,1125.76 L1033.47,1125.01 L1034.13,1124.26 L1034.79,1123.51 L1035.45,1122.76 L1036.12,1122.01 L1036.78,1121.26 L1037.45,1120.52 L1038.11,1119.78 L1038.78,1119.03 L1039.45,1118.29 L1040.13,1117.56 L1040.80,1116.82 L1041.47,1116.08 L1042.15,1115.35 L1042.83,1114.62 L1043.51,1113.89 L1044.20,1113.16 L1044.88,1112.44 L1045.57,1111.71 L1046.26,1110.99 L1046.96,1110.27 L1047.65,1109.56 L1048.35,1108.85 L1049.05,1108.14 L1049.76,1107.43 L1050.47,1106.73 L1051.18,1106.03 L1051.89,1105.34 L1052.61,1104.64 L1053.33,1103.96 L1054.06,1103.27 L1054.79,1102.59 L1055.53,1101.92 L1056.26,1101.25 L1057.01,1100.58 L1057.75,1099.93 L1058.51,1099.27 L1059.26,1098.62 L1060.03,1097.98 L1060.79,1097.35 L1061.57,1096.72 L1062.35,1096.09 L1063.13,1095.48 L1063.92,1094.87 L1064.72,1094.28 L1065.52,1093.69 L1066.33,1093.11 L1067.14,1092.53 L1067.97,1091.97 L1068.80,1091.42 L1069.63,1090.88 L1070.48,1090.36 L1071.33,1089.84 L1072.19,1089.34 L1073.06,1088.85 L1073.93,1088.38 L1074.82,1087.92 L1075.71,1087.48 L1076.61,1087.06 L1077.52,1086.66 L1078.44,1086.27 L1079.36,1085.91 L1080.30,1085.56 L1081.24,1085.24 L1082.19,1084.95 L1083.15,1084.67 L1084.12,1084.43 L1085.09,1084.21 L1086.07,1084.02 L1087.05,1083.86 L1088.04,1083.74 L1089.04,1083.64 L1090.03,1083.58 L1091.03,1083.55 L1092.03,1083.56 L1093.03,1083.60 L1094.03,1083.68 L1095.03,1083.79 L1096.02,1083.94 L1097.00,1084.13 L1097.98,1084.35 L1098.95,1084.61 L1099.91,1084.90 L1100.87,1085.22 L1101.81,1085.58 L1102.74,1085.97 L1103.65,1086.39 L1104.55,1086.84 L1105.44,1087.31 L1106.32,1087.82 L1107.18,1088.34 L1108.02,1088.89 L1108.85,1089.47 L1109.67,1090.06 L1110.47,1090.67 L1111.26,1091.30 L1112.04,1091.94 L1112.80,1092.60 L1113.55,1093.27 L1114.29,1093.95 L1115.02,1094.64 L1115.74,1095.35 L1116.46,1096.06 L1117.16,1096.78 L1117.85,1097.51 L1118.53,1098.25 L1119.21,1098.99 L1119.88,1099.74 L1120.54,1100.50 L1121.20,1101.26 L1121.84,1102.03 L1122.49,1102.80 L1123.12,1103.58 L1123.75,1104.36 L1124.38,1105.15 L1125.00,1105.94 L1125.61,1106.73 L1126.22,1107.53 L1126.82,1108.33 L1127.42,1109.14 L1128.02,1109.94 L1128.61,1110.75 L1129.20,1111.57 L1129.78,1112.38 L1130.37,1113.20 L1130.94,1114.02 L1131.51,1114.85 L1132.08,1115.67 L1132.65,1116.50 L1133.21,1117.34 L1133.76,1118.17 L1134.32,1119.01 L1134.87,1119.85 L1135.41,1120.69 L1135.95,1121.54 L1136.49,1122.38 L1137.02,1123.23 L1137.55,1124.09 L1138.08,1124.94 L1138.60,1125.80 L1139.12,1126.66 L1139.64,1127.52 L1140.15,1128.38 L1140.66,1129.25 L1141.16,1130.11 L1141.66,1130.98 L1142.16,1131.85 L1142.65,1132.73 L1143.14,1133.60 L1143.63,1134.48 L1144.11,1135.36 L1144.59,1136.24 L1145.07,1137.12 L1145.54,1138.01 L1146.01,1138.89 L1146.48,1139.78 L1146.95,1140.67 L1147.41,1141.56 L1147.86,1142.46 L1148.32,1143.35 L1148.77,1144.25 L1149.22,1145.14 L1149.67,1146.04 L1150.11,1146.94 L1150.55,1147.84 L1150.99,1148.75 L1151.42,1149.65 L1151.86,1150.55 L1152.29,1151.46 L1152.72,1152.36 L1153.14,1153.27 L1153.57,1154.18 L1153.99,1155.09 L1154.41,1155.99 L1154.83,1156.90 L1155.25,1157.81 L1155.67,1158.73 L1156.08,1159.64 L1156.50,1160.55 L1156.91,1161.46 L1157.32,1162.38 L1157.73,1163.29 L1158.14,1164.20 L1158.55,1165.12 L1158.95,1166.03 L1159.36,1166.95 L1159.76,1167.87 L1160.16,1168.78 L1160.57,1169.70 L1160.97,1170.62 L1161.37,1171.53 L1161.77,1172.45 L1162.17,1173.37 L1162.57,1174.29 L1162.96,1175.21 L1163.36,1176.12 L1163.76,1177.04 L1164.15,1177.96 L1164.55,1178.88 L1164.94,1179.80 L1165.34,1180.72 L1165.73,1181.64 L1166.13,1182.56 L1166.52,1183.48 L1166.92,1184.40 L1167.31,1185.31 L1167.70,1186.23 L1168.10,1187.15 L1168.49,1188.07 L1168.89,1188.99 L1169.28,1189.91 L1169.67,1190.83 L1170.07,1191.75 L1170.46,1192.67 L1170.85,1193.59 L1171.25,1194.51 L1171.64,1195.43 L1172.04,1196.35 L1172.43,1197.26 L1172.82,1198.18 L1173.22,1199.10 L1173.61,1200.02 L1174.01,1200.94 L1174.40,1201.86 L1174.80,1202.78 L1175.19,1203.70 L1175.59,1204.61 L1175.98,1205.53 L1176.38,1206.45 L1176.77,1207.37 L1177.17,1208.29 L1177.57,1209.20 L1177.96,1210.12 L1178.36,1211.04 L1178.76,1211.96 L1179.15,1212.87 L1179.55,1213.79 L1179.95,1214.71 L1180.35,1215.62 L1180.75,1216.54 L1181.15,1217.46 L1181.54,1218.37 L1181.94,1219.29 L1182.34,1220.21 L1182.75,1221.12 L1183.15,1222.04 L1183.55,1222.95 L1183.95,1223.87 L1184.35,1224.78 L1184.75,1225.70 L1185.16,1226.61 L1185.56,1227.52 L1185.97,1228.44 L1186.37,1229.35 L1186.78,1230.27 L1187.18,1231.18 L1187.59,1232.09 L1188.00,1233.00 L1188.40,1233.92 L1188.81,1234.83 L1189.22,1235.74 L1189.63,1236.65 L1190.04,1237.56 L1190.45,1238.47 L1190.87,1239.38 L1191.28,1240.29 L1191.69,1241.20 L1192.11,1242.11 L1192.52,1243.02 L1192.94,1243.93 L1193.35,1244.84 L1193.77,1245.74 L1194.19,1246.65 L1194.61,1247.56 L1195.03,1248.46 L1195.45,1249.37 L1195.87,1250.28 L1196.29,1251.18 L1196.72,1252.09 L1197.14,1252.99 L1197.57,1253.89 L1197.99,1254.80 L1198.42,1255.70 L1198.85,1256.60 L1199.28,1257.50 L1199.71,1258.40 L1200.14,1259.30 L1200.58,1260.20 L1201.01,1261.10 L1201.45,1262.00 L1201.89,1262.90 L1202.32,1263.79 L1202.76,1264.69 L1203.20,1265.59 L1203.65,1266.48 L1204.09,1267.38 L1204.54,1268.27 L1204.98,1269.16 L1205.43,1270.05 L1205.88,1270.94 L1206.33,1271.83 L1206.79,1272.72 L1207.24,1273.61 L1207.70,1274.50 L1208.16,1275.39 L1208.62,1276.27 L1209.08,1277.16 L1209.54,1278.04 L1210.01,1278.92 L1210.47,1279.81 L1210.94,1280.69 L1211.41,1281.57 L1211.89,1282.45 L1212.36,1283.32 L1212.84,1284.20 L1213.32,1285.08 L1213.80,1285.95 L1214.28,1286.83 L1214.76,1287.70 L1215.25,1288.57 L1215.74,1289.44 L1216.23,1290.31 L1216.72,1291.18 L1217.21,1292.04 L1217.71,1292.91 L1218.21,1293.77 L1218.71,1294.64 L1219.21,1295.50 L1219.72,1296.36 L1220.23,1297.22 L1220.74,1298.08 L1221.25,1298.93 L1221.76,1299.79 L1222.28,1300.64 L1222.80,1301.49 L1223.32,1302.35 L1223.84,1303.20 L1224.37,1304.04 L1224.89,1304.89 L1225.42,1305.73 L1225.96,1306.58 L1226.49,1307.42 L1227.03,1308.26 L1227.57,1309.10 L1228.11,1309.94 L1228.66,1310.77 L1229.21,1311.60 L1229.76,1312.44 L1230.31,1313.27 L1230.87,1314.09 L1231.43,1314.92 L1231.99,1315.75 L1232.55,1316.57 L1233.12,1317.39 L1233.69,1318.21 L1234.26,1319.02 L1234.84,1319.84 L1235.42,1320.65 L1236.00,1321.46 L1236.58,1322.27 L1237.17,1323.07 L1237.76,1323.88 L1238.36,1324.68 L1238.95,1325.48 L1239.55,1326.28 L1240.16,1327.07 L1240.76,1327.86 L1241.37,1328.65 L1241.98,1329.44 L1242.60,1330.22 L1243.22,1331.00 L1243.84,1331.78 L1244.47,1332.56 L1245.10,1333.33 L1245.73,1334.10 L1246.37,1334.87 L1247.01,1335.63 L1247.65,1336.39 L1248.30,1337.15 L1248.95,1337.91 L1249.61,1338.66 L1250.27,1339.41 L1250.93,1340.15 L1251.60,1340.89 L1252.27,1341.63 L1252.94,1342.37 L1253.62,1343.10 L1254.30,1343.83 L1254.99,1344.55 L1255.68,1345.27 L1256.37,1345.98 L1257.07,1346.70 L1257.77,1347.40 L1258.48,1348.11 L1259.19,1348.81 L1259.91,1349.50 L1260.62,1350.19 L1261.35,1350.88 L1262.08,1351.56 L1262.81,1352.24 L1263.54,1352.91 L1264.28,1353.58 L1265.03,1354.24 L1265.78,1354.90 L1266.53,1355.55 L1267.29,1356.20 L1268.05,1356.85 L1268.81,1357.49 L1269.58,1358.12 L1270.36,1358.75 L1271.14,1359.37 L1271.92,1359.99 L1272.71,1360.60 L1273.50,1361.21 L1274.29,1361.81 L1275.09,1362.41 L1275.90,1363.00 L1276.70,1363.58 L1277.52,1364.16 L1278.33,1364.73 L1279.15,1365.30 L1279.98,1365.86 L1280.81,1366.42 L1281.64,1366.97 L1282.48,1367.51 L1283.32,1368.04 L1284.16,1368.58 L1285.01,1369.10 L1285.86,1369.62 L1286.72,1370.13 L1287.58,1370.63 L1288.45,1371.13 L1289.31,1371.63 L1290.19,1372.11 L1291.06,1372.59 L1291.94,1373.06 L1292.82,1373.53 L1293.71,1373.99 L1294.60,1374.44 L1295.49,1374.89 L1296.39,1375.33 L1297.29,1375.76 L1298.19,1376.19 L1299.09,1376.61 L1300.00,1377.03 L1300.91,1377.43 L1301.83,1377.83 L1302.74,1378.23 L1303.66,1378.62 L1304.59,1379.00 L1305.51,1379.37 L1306.44,1379.74 L1307.37,1380.11 L1308.30,1380.46 L1309.24,1380.81 L1310.18,1381.16 L1311.12,1381.50 L1312.06,1381.83 L1313.00,1382.15 L1313.95,1382.48 L1314.90,1382.79 L1315.85,1383.10 L1316.80,1383.40 L1317.75,1383.70 L1318.71,1384.00 L1319.66,1384.28 L1320.62,1384.57 L1321.58,1384.84 L1322.54,1385.11 L1323.51,1385.38 L1324.47,1385.64 L1325.44,1385.90 L1326.40,1386.15 L1327.37,1386.40 L1328.34,1386.64 L1329.31,1386.88 L1330.28,1387.11 L1331.26,1387.34 L1332.23,1387.56 L1333.21,1387.78 L1334.18,1387.99 L1335.16,1388.20 L1336.14,1388.41 L1337.12,1388.61 L1338.10,1388.80 L1339.08,1388.99 L1340.06,1389.18 L1341.04,1389.36 L1342.03,1389.54 L1343.01,1389.71 L1344.00,1389.88 L1344.98,1390.04 L1345.97,1390.20 L1346.96,1390.36 L1347.95,1390.51 L1348.94,1390.66 L1349.93,1390.80 L1350.91,1390.94 L1351.91,1391.08 L1352.90,1391.21 L1353.89,1391.33 L1354.88,1391.46 L1355.87,1391.58 L1356.87,1391.70 L1357.86,1391.81 L1358.85,1391.92 L1359.85,1392.03 L1360.84,1392.13 L1361.84,1392.23 L1362.83,1392.32 L1363.83,1392.42 L1364.82,1392.51 L1365.82,1392.59 L1366.82,1392.68 L1367.81,1392.76 L1368.81,1392.84 L1369.81,1392.91 L1370.80,1392.98 L1371.80,1393.05 L1372.80,1393.12 L1373.80,1393.18 L1374.79,1393.24 L1375.79,1393.30 L1376.79,1393.36 L1377.79,1393.41 L1378.79,1393.46 L1379.79,1393.51 L1380.79,1393.56 L1381.78,1393.61 L1382.78,1393.65 L1383.78,1393.69 L1384.78,1393.73 L1385.78,1393.77 L1386.78,1393.80 L1387.78,1393.84 L1388.78,1393.87 L1389.78,1393.90 L1390.78,1393.93 L1391.78,1393.95 L1392.78,1393.98 L1393.78,1394.00 L1394.78,1394.03 L1395.78,1394.05 L1396.78,1394.07 L1397.78,1394.09 L1398.78,1394.11 L1399.78,1394.13 L1400.78,1394.14 L1401.78,1394.16 L1402.78,1394.17 L1403.78,1394.19 L1404.78,1394.20 L1405.77,1394.21 L1406.77,1394.23 L1407.77,1394.24 L1408.77,1394.25 L1409.77,1394.26 L1410.77,1394.27 L1411.77,1394.28 L1412.77,1394.30 L1413.77,1394.31 L1414.77,1394.32 L1415.77,1394.33 L1416.77,1394.34 L1417.77,1394.35 L1418.77,1394.36 L1419.77,1394.37 L1420.77,1394.38 L1421.77,1394.39 L1422.77,1394.40 L1423.77,1394.41 L1424.77,1394.42 L1425.77,1394.42 L1426.77,1394.43 L1427.77,1394.44 L1428.77,1394.45 L1429.77,1394.46 L1430.77,1394.47 L1431.77,1394.48 L1432.77,1394.49 L1433.77,1394.49 L1434.77,1394.50 L1435.77,1394.51 L1436.77,1394.52 L1437.77,1394.53 L1438.77,1394.53 L1439.77,1394.54 L1440.77,1394.55 L1441.77,1394.56 L1442.77,1394.56 L1443.77,1394.57 L1444.77,1394.58 L1445.77,1394.59 L1446.77,1394.59 L1447.77,1394.60 L1448.77,1394.61 L1449.77,1394.61 L1450.77,1394.62 L1451.77,1394.63 L1452.77,1394.63 L1453.77,1394.64 L1454.77,1394.64 L1455.77,1394.65 L1456.77,1394.66 L1457.77,1394.66 L1458.77,1394.67 L1459.77,1394.67 L1460.77,1394.68 L1461.77,1394.68 L1462.77,1394.69 L1463.77,1394.69 L1464.77,1394.70 L1465.77,1394.71 L1466.77,1394.71 L1467.77,1394.72 L1468.77,1394.72 L1469.77,1394.72 L1470.77,1394.73 L1471.77,1394.73 L1472.77,1394.74 L1473.77,1394.74 L1474.77,1394.75 L1475.77,1394.75 L1476.77,1394.76 L1477.77,1394.76 L1478.77,1394.76 L1479.77,1394.77 L1480.77,1394.77 L1481.77,1394.78 L1482.77,1394.78 L1483.77,1394.78 L1484.77,1394.79 L1485.77,1394.79 L1486.77,1394.79 L1487.77,1394.80 L1488.77,1394.80 L1489.77,1394.80 L1490.77,1394.81 L1491.77,1394.81 L1492.77,1394.81 L1493.77,1394.82 L1494.77,1394.82 L1495.77,1394.82 L1496.77,1394.83 L1497.77,1394.83 L1498.77,1394.83 L1499.77,1394.83 L1500.77,1394.84 L1501.77,1394.84 L1502.77,1394.84 L1503.77,1394.84 L1504.77,1394.85 L1505.77,1394.85 L1506.77,1394.85 L1507.77,1394.85 L1508.77,1394.85 L1509.77,1394.86 L1510.77,1394.86 L1511.77,1394.86 L1512.77,1394.86 L1513.77,1394.86 L1514.77,1394.87 L1515.77,1394.87 L1516.77,1394.87 L1517.77,1394.87 L1518.77,1394.87 L1519.77,1394.87 L1520.77,1394.88 L1521.77,1394.88 L1522.77,1394.88 L1523.77,1394.88 L1524.77,1394.88 L1525.77,1394.88 L1526.77,1394.88 L1527.77,1394.88 L1528.77,1394.89 L1529.77,1394.89 L1530.77,1394.89 L1531.77,1394.89 L1532.77,1394.89 L1533.77,1394.89 L1534.77,1394.89 L1535.77,1394.89 L1536.77,1394.89 L1537.77,1394.89 L1538.77,1394.90 L1539.77,1394.90 L1540.77,1394.90 L1541.77,1394.90 L1542.77,1394.90 L1543.77,1394.90 L1544.77,1394.90 L1545.77,1394.90 L1546.77,1394.90 L1547.77,1394.90 L1548.77,1394.90 L1549.77,1394.90 L1550.77,1394.90 L1551.77,1394.90 L1552.77,1394.90 L1553.77,1394.90 L1554.77,1394.90 L1555.77,1394.90 L1556.77,1394.90 L1557.77,1394.90 L1558.77,1394.91 L1559.77,1394.91 L1560.77,1394.91 L1561.77,1394.91 L1562.77,1394.91 L1563.77,1394.91 L1564.77,1394.91 L1565.77,1394.91 L1566.77,1394.91 L1567.77,1394.91 L1568.77,1394.91 L1569.77,1394.91 L1570.77,1394.91 L1571.77,1394.91 L1572.77,1394.91 L1573.77,1394.91 L1574.77,1394.91 L1575.77,1394.91 L1576.77,1394.91 L1577.77,1394.91 L1578.77,1394.91 L1579.77,1394.91 L1580.77,1394.91 L1581.77,1394.91 L1582.77,1394.91 L1583.77,1394.91 L1584.77,1394.91 L1585.77,1394.91 L1586.77,1394.91 L1587.77,1394.91 L1588.77,1394.91 L1589.77,1394.91 L1590.77,1394.91 L1591.77,1394.91 L1592.77,1394.91 L1593.77,1394.91 L1594.77,1394.91 L1595.77,1394.91 L1596.77,1394.91 L1597.77,1394.91 L1598.77,1394.91 L1599.77,1394.91 L1600.77,1394.91 L1601.77,1394.91 L1602.77,1394.91 L1603.77,1394.91 L1604.77,1394.91 L1605.77,1394.91 L1606.77,1394.91 L1607.77,1394.91 L1608.77,1394.91 L1609.77,1394.91 L1610.77,1394.91 L1611.77,1394.91 L1612.77,1394.91 L1613.77,1394.91 L1614.77,1394.91 L1615.77,1394.91 L1616.77,1394.91 L1617.77,1394.91 L1618.77,1394.91 L1619.77,1394.91 L1620.77,1394.91 L1621.77,1394.91 L1622.77,1394.91 L1623.77,1394.91 L1624.77,1394.91 L1625.77,1394.91 L1626.77,1394.91 L1627.77,1394.91 L1628.77,1394.91 L1629.77,1394.91 L1630.77,1394.91 L1631.77,1394.91 L1632.77,1394.91 L1633.77,1394.91 L1634.77,1394.91 L1635.77,1394.91 L1636.77,1394.91 L1637.77,1394.91 L1638.77,1394.91 L1639.77,1394.91 L1640.77,1394.91 L1641.77,1394.91 L1642.77,1394.91 L1643.77,1394.91 L1644.77,1394.91 L1645.77,1394.91 L1646.77,1394.91 L1647.77,1394.91 L1648.77,1394.91 L1649.77,1394.91 L1650.77,1394.91 L1651.77,1394.91 L1652.77,1394.91 L1653.77,1394.91 L1654.77,1394.91 L1655.77,1394.91 L1656.77,1394.91 L1657.77,1394.91 L1658.77,1394.91 L1659.77,1394.91 L1660.77,1394.91 L1661.77,1394.91 L1662.77,1394.91 L1663.77,1394.91 L1664.77,1394.91 L1665.77,1394.91 L1666.77,1394.91 L1667.77,1394.91 L1668.77,1394.91 L1669.77,1394.91 L1670.77,1394.91 L1671.77,1394.91 L1672.77,1394.91 L1673.77,1394.91 L1674.77,1394.91 L1675.77,1394.91 L1676.77,1394.91 L1677.77,1394.91 L1678.77,1394.91 L1679.77,1394.91 L1680.77,1394.91 L1681.77,1394.91 L1682.77,1394.91 L1683.77,1394.91 L1684.77,1394.91 L1685.77,1394.91 L1686.77,1394.91 L1687.77,1394.91 L1688.77,1394.91 L1689.77,1394.91 L1690.77,1394.91 L1691.77,1394.91 L1692.77,1394.91 L1693.77,1394.91 L1694.77,1394.91 L1695.77,1394.91 L1696.77,1394.91 L1697.77,1394.91 L1698.77,1394.91 L1699.77,1394.91 L1700.77,1394.91 L1701.77,1394.91 L1702.77,1394.91 L1703.77,1394.91 L1704.77,1394.91 L1705.77,1394.91 L1706.77,1394.91 L1707.77,1394.91 L1708.77,1394.91 L1709.77,1394.91 L1710.77,1394.91 L1711.77,1394.91 L1712.77,1394.91 L1713.77,1394.91 L1714.77,1394.91 L1715.77,1394.91 L1716.77,1394.91 L1717.77,1394.91 L1718.77,1394.91 L1719.77,1394.91 L1720.77,1394.91 L1721.77,1394.91 L1722.77,1394.91 L1723.77,1394.91 L1724.77,1394.91 L1725.77,1394.91 L1726.77,1394.91 L1727.77,1394.91 L1728.77,1394.91 L1729.77,1394.91 L1730.77,1394.91 L1731.77,1394.91 L1732.77,1394.91 L1733.77,1394.91 L1734.77,1394.91 L1735.77,1394.91 L1736.77,1394.91 L1737.77,1394.91 L1738.77,1394.91 L1739.77,1394.91 L1740.77,1394.91 L1741.77,1394.91 L1742.77,1394.91 L1743.77,1394.91 L1744.77,1394.91 L1745.77,1394.91 L1746.77,1394.91 L1747.77,1394.91 L1748.77,1394.91 L1749.77,1394.91 L1750.77,1394.91 L1751.77,1394.91 L1752.77,1394.91 L1753.77,1394.91 L1754.77,1394.91 L1755.77,1394.91 L1756.77,1394.91 L1757.77,1394.91 L1758.77,1394.91 L1759.77,1394.91 L1760.77,1394.91 L1761.77,1394.91 L1762.77,1394.91 L1763.77,1394.91 L1764.77,1394.91 L1765.77,1394.91 L1766.77,1394.91 L1767.77,1394.91 L1768.77,1394.91 L1769.77,1394.91 L1770.77,1394.91 L1771.77,1394.91 L1772.77,1394.91 L1773.77,1394.91 L1774.77,1394.91 L1775.77,1394.91 L1776.77,1394.91 L1777.77,1394.91 L1778.77,1394.91 L1779.77,1394.91 L1780.77,1394.91 L1781.77,1394.91 L1782.77,1394.91 L1783.77,1394.91 L1784.77,1394.91 L1785.77,1394.91 L1786.77,1394.91 L1787.77,1394.91 L1788.77,1394.91 L1789.77,1394.91 L1790.77,1394.91 L1791.77,1394.91 L1792.77,1394.91 L1793.77,1394.91 L1794.77,1394.91 L1795.77,1394.91 L1796.77,1394.91 L1797.77,1394.91 L1798.77,1394.91 L1799.77,1394.91 L1800.77,1394.91 L1801.77,1394.91 L1802.77,1394.91 L1803.77,1394.91 L1804.77,1394.91 L1805.77,1394.91 L1806.77,1394.91 L1807.77,1394.91 L1808.77,1394.91 L1809.77,1394.90 L1810.77,1394.90 L1811.77,1394.90 L1812.77,1394.90 L1813.77,1394.90 L1814.77,1394.90 L1815.77,1394.90 L1816.77,1394.90 L1817.77,1394.90 L1818.77,1394.90 L1819.77,1394.90 L1820.77,1394.90 L1821.77,1394.90 L1822.77,1394.90 L1823.77,1394.90 L1824.77,1394.90 L1825.77,1394.90 L1826.77,1394.90 L1827.77,1394.90 L1828.77,1394.90 L1829.77,1394.90 L1830.77,1394.90 L1831.77,1394.90 L1832.77,1394.90 L1833.77,1394.90 L1834.77,1394.90 L1835.77,1394.90 L1836.77,1394.90 L1837.77,1394.90 L1838.77,1394.90 L1839.77,1394.90 L1840.77,1394.90 L1841.77,1394.90 L1842.77,1394.90 L1843.77,1394.90 L1844.77,1394.90 L1845.77,1394.90 L1846.77,1394.90 L1847.77,1394.90 L1848.77,1394.90 L1849.77,1394.90 L1850.77,1394.90 L1851.77,1394.90 L1852.77,1394.90 L1853.77,1394.90 L1854.77,1394.90 L1855.77,1394.90 L1856.77,1394.90 L1857.77,1394.90 L1858.77,1394.90 L1859.77,1394.90 L1860.77,1394.90 L1861.77,1394.90 L1862.77,1394.90 L1863.77,1394.90 L1864.77,1394.90 L1865.77,1394.90 L1866.77,1394.90 L1867.77,1394.90 L1868.77,1394.90 L1869.77,1394.90 L1870.77,1394.90 L1871.77,1394.90 L1872.77,1394.90 L1873.77,1394.90 L1874.77,1394.90 L1875.77,1394.90 L1876.77,1394.90 L1877.77,1394.90 L1878.77,1394.90 L1879.77,1394.90 L1880.77,1394.90 L1881.77,1394.90 L1882.77,1394.90 L1883.77,1394.90 L1884.77,1394.90 L1885.77,1394.90 L1886.77,1394.90 L1887.77,1394.90 L1888.77,1394.90 L1889.77,1394.90 L1890.77,1394.90 L1891.77,1394.90 L1892.77,1394.90 L1893.77,1394.90 L1894.77,1394.90 L1895.77,1394.90 L1896.77,1394.90 L1897.77,1394.90 L1898.77,1394.90 L1899.77,1394.90 L1900.77,1394.90 L1901.77,1394.90 L1902.77,1394.90 L1903.77,1394.90 L1904.77,1394.90 L1905.77,1394.90 L1906.77,1394.90 L1907.77,1394.90 L1908.77,1394.90 L1909.77,1394.90 L1910.77,1394.90 L1911.77,1394.90 L1912.77,1394.90 L1913.77,1394.90 L1914.77,1394.90 L1915.77,1394.90 L1916.77,1394.90 L1917.77,1394.90 L1918.77,1394.90 L1919.77,1394.90 L1920.77,1394.90 L1921.77,1394.90 L1922.77,1394.90 L1923.77,1394.90 L1924.77,1394.90 L1925.77,1394.90 L1926.77,1394.90 L1927.77,1394.90 L1928.77,1394.90 L1929.77,1394.90 L1930.77,1394.90 L1931.77,1394.90 L1932.77,1394.90 L1933.77,1394.90 L1934.77,1394.90 L1935.77,1394.90 L1936.77,1394.90 L1937.77,1394.90 L1938.77,1394.90 L1939.77,1394.90 L1940.77,1394.90 L1941.77,1394.90 L1942.77,1394.90 L1943.77,1394.90 L1944.77,1394.90 L1945.77,1394.90 L1946.77,1394.90 L1947.77,1394.90 L1948.77,1394.90 L1949.77,1394.90 L1950.77,1394.90 L1951.77,1394.90 L1952.77,1394.90 L1953.77,1394.90 L1954.77,1394.90 L1955.77,1394.90 L1956.77,1394.90 L1957.77,1394.89 L1958.77,1394.89 L1959.77,1394.89 L1960.77,1394.89 L1961.77,1394.89 L1962.77,1394.89 L1963.77,1394.89 L1964.77,1394.89 L1965.77,1394.89 L1966.77,1394.89 L1967.77,1394.89 L1968.77,1394.89 L1969.77,1394.89 L1970.77,1394.89 L1971.77,1394.89 L1972.77,1394.89 L1973.77,1394.89 L1974.77,1394.89 L1975.77,1394.89 L1976.77,1394.89 L1977.77,1394.89 L1978.77,1394.89 L1979.77,1394.89 L1980.77,1394.89 L1981.77,1394.89 L1982.77,1394.89 L1983.77,1394.89 L1984.77,1394.89 L1985.77,1394.89 L1986.77,1394.89 L1987.77,1394.89 L1988.77,1394.89 L1989.77,1394.89 L1990.77,1394.89 L1991.77,1394.89 L1992.77,1394.89 L1993.77,1394.89 L1994.77,1394.89 L1995.77,1394.89 L1996.77,1394.89 L1997.77,1394.89 L1998.77,1394.89 L1999.77,1394.89 L2000.77,1394.89 L2001.77,1394.89 L2002.77,1394.89 L2003.77,1394.89 L2004.77,1394.89 L2005.77,1394.89 L2006.77,1394.89 L2007.77,1394.89 L2008.77,1394.89 L2009.77,1394.89 L2010.77,1394.89 L2011.77,1394.89 L2012.77,1394.89 L2013.77,1394.89 L2014.77,1394.89 L2015.77,1394.89 L2016.77,1394.89 L2017.77,1394.89 L2018.77,1394.89 L2019.77,1394.89 L2020.77,1394.89 L2021.77,1394.89 L2022.77,1394.89 L2023.77,1394.89 L2024.77,1394.89 L2025.77,1394.89 L2026.77,1394.89 L2027.77,1394.89 L2028.77,1394.89 L2029.77,1394.89 L2030.77,1394.89 L2031.77,1394.89 L2032.77,1394.89 L2033.77,1394.89 L2034.77,1394.89 L2035.77,1394.89 L2036.77,1394.89 L2037.77,1394.89 L2038.77,1394.89 L2039.77,1394.89 L2040.77,1394.89 L2041.77,1394.89 L2042.77,1394.89 L2043.77,1394.89 L2044.77,1394.89 L2045.77,1394.89 L2046.77,1394.89 L2047.77,1394.89 L2048.77,1394.89 L2049.77,1394.89 L2050.77,1394.89 L2051.77,1394.89 L2052.77,1394.89 L2053.77,1394.89 L2054.77,1394.89 L2055.77,1394.89 L2056.77,1394.89 L2057.77,1394.89 L2058.77,1394.89 L2059.77,1394.89 L2060.77,1394.89 L2061.77,1394.89 L2062.77,1394.89 L2063.77,1394.89 L2064.77,1394.89 L2065.77,1394.89 L2066.77,1394.89 L2067.77,1394.89 L2068.77,1394.89 L2069.77,1394.89 L2070.77,1394.89 L2071.77,1394.89 L2072.77,1394.89 L2073.77,1394.90 L2074.77,1394.90 L2075.77,1394.90 L2076.77,1394.90 L2077.77,1394.90 L2078.77,1394.90 L2079.77,1394.90 L2080.77,1394.90 L2081.77,1394.90 L2082.77,1394.90 L2083.77,1394.90 L2084.77,1394.90 L2085.77,1394.90 L2086.77,1394.90 L2087.77,1394.90 L2088.77,1394.90 L2089.77,1394.90 L2090.77,1394.90 L2091.77,1394.90 L2092.77,1394.90 L2093.77,1394.90 L2094.77,1394.90 L2095.77,1394.90 L2096.77,1394.90 L2097.77,1394.90 L2098.77,1394.90 L2099.77,1394.90 L2100.77,1394.90 L2101.77,1394.90 L2102.77,1394.90 L2103.77,1394.90 L2104.77,1394.90 L2105.77,1394.90 L2106.77,1394.90 L2107.77,1394.90 L2108.77,1394.90 L2109.77,1394.90 L2110.77,1394.90 L2111.77,1394.90 L2112.77,1394.90 L2113.77,1394.90 L2114.77,1394.90 L2115.77,1394.90 L2116.77,1394.90 L2117.77,1394.90 L2118.77,1394.90 L2119.77,1394.90 L2120.77,1394.90 L2121.77,1394.90 L2122.77,1394.90 L2123.77,1394.90 L2124.77,1394.90 L2125.77,1394.90 L2126.77,1394.90 L2127.77,1394.90 L2128.77,1394.90 L2129.77,1394.90 L2130.77,1394.90 L2131.77,1394.90 L2132.77,1394.90 L2133.77,1394.90 L2134.77,1394.90 L2135.77,1394.90 L2136.77,1394.90 L2137.77,1394.90 L2138.77,1394.90 L2139.77,1394.90 L2140.77,1394.90 L2141.77,1394.90 L2142.77,1394.90 L2143.77,1394.90 L2144.77,1394.90 L2145.77,1394.90 L2146.77,1394.90 L2147.77,1394.90 L2148.77,1394.90 L2149.77,1394.90 L2150.77,1394.90 L2151.77,1394.90 L2152.77,1394.90 L2153.77,1394.90 L2154.77,1394.90 L2155.77,1394.90 L2156.77,1394.90 L2157.77,1394.90 L2158.77,1394.90 L2159.77,1394.90 L2160.77,1394.90 L2161.77,1394.90 L2162.77,1394.90 L2163.77,1394.91 L2164.77,1394.91 L2165.77,1394.91 L2166.77,1394.91 L2167.77,1394.91 L2168.77,1394.91 L2169.77,1394.91 L2170.77,1394.91 L2171.77,1394.91 L2172.77,1394.91 L2173.77,1394.91 L2174.77,1394.91 L2175.77,1394.91 L2176.77,1394.91 L2177.77,1394.91 L2178.77,1394.91 L2179.77,1394.91 L2180.00,1394.91"/></defs>
<use href="#c1" stroke="#ff6600" stroke-opacity="0.12" stroke-width="12.399999999999999"/>
<use href="#c1" stroke="#ff6600" stroke-width="8.2"/>
<defs><path id="c3" d="M309.50,0.76 L309.58,2.61 L309.66,4.46 L309.74,6.31 L309.82,8.16 L309.90,10.00 L309.98,11.83 L310.06,13.67 L310.14,15.50 L310.22,17.33 L310.30,19.15 L310.38,20.97 L310.46,22.78 L310.54,24.60 L310.62,26.40 L310.70,28.21 L310.78,30.01 L310.86,31.81 L310.94,33.60 L311.02,35.40 L311.10,37.18 L311.18,38.97 L311.26,40.75 L311.34,42.53 L311.42,44.30 L311.50,46.07 L311.58,47.84 L311.66,49.60 L311.74,51.36 L311.82,53.12 L311.90,54.87 L311.98,56.62 L312.06,58.37 L312.14,60.11 L312.22,61.85 L312.30,63.59 L312.38,65.32 L312.46,67.05 L312.54,68.78 L312.62,70.50 L312.70,72.23 L312.78,73.94 L312.86,75.66 L312.94,77.37 L313.02,79.07 L313.10,80.78 L313.18,82.48 L313.26,84.18 L313.34,85.87 L313.42,87.56 L313.50,89.25 L313.58,90.94 L313.66,92.62 L313.74,94.30 L313.82,95.97 L313.90,97.65 L313.98,99.32 L314.06,100.98 L314.14,102.65 L314.22,104.31 L314.30,105.96 L314.38,107.62 L314.46,109.27 L314.54,110.92 L314.62,112.56 L314.70,114.20 L314.78,115.84 L314.86,117.48 L314.94,119.11 L315.02,120.74 L315.10,122.37 L315.18,123.99 L315.26,125.62 L315.34,127.23 L315.42,128.85 L315.50,130.46 L315.58,132.07 L315.66,133.68 L315.74,135.28 L315.82,136.88 L315.90,138.48 L315.98,140.08 L316.06,141.67 L316.14,143.26 L316.22,144.85 L316.30,146.43 L316.38,148.01 L316.46,149.59 L316.54,151.17 L316.62,152.74 L316.70,154.31 L316.78,155.88 L316.86,157.44 L316.94,159.00 L317.02,160.56 L317.10,162.12 L317.18,163.67 L317.26,165.23 L317.34,166.77 L317.42,168.32 L317.50,169.86 L317.58,171.40 L317.66,172.94 L317.74,174.48 L317.82,176.01 L317.90,177.54 L317.98,179.07 L318.06,180.59 L318.14,182.12 L318.22,183.64 L318.30,185.15 L318.38,186.67 L318.46,188.18 L318.54,189.69 L318.62,191.20 L318.70,192.70 L318.78,194.21 L318.86,195.71 L318.94,197.20 L319.02,198.70 L319.10,200.19 L319.18,201.68 L319.26,203.17 L319.34,204.66 L319.42,206.14 L319.50,207.62 L319.58,209.10 L319.66,210.57 L319.74,212.05 L319.82,213.52 L319.90,214.99 L319.98,216.45 L320.06,217.92 L320.14,219.38 L320.22,220.84 L320.30,222.30 L320.38,223.75 L320.46,225.21 L320.54,226.66 L320.62,228.11 L320.70,229.55 L320.78,231.00 L320.86,232.44 L320.94,233.88 L321.02,235.31 L321.10,236.75 L321.18,238.18 L321.26,239.61 L321.34,241.04 L321.42,242.47 L321.50,243.89 L321.58,245.32 L321.66,246.74 L321.74,248.15 L321.82,249.57 L321.90,250.98 L321.98,252.40 L322.06,253.81 L322.14,255.21 L322.22,256.62 L322.30,258.02 L322.38,259.43 L322.46,260.83 L322.54,262.22 L322.62,263.62 L322.70,265.01 L322.78,266.40 L322.86,267.80 L322.94,269.18 L323.02,270.57 L323.10,271.95 L323.18,273.34 L323.26,274.72 L323.34,276.09 L323.42,277.47 L323.50,278.85 L323.58,280.22 L323.66,281.59 L323.74,282.96 L323.82,284.33 L323.90,285.69 L323.98,287.06 L324.06,288.42 L324.14,289.78 L324.22,291.14 L324.30,292.49 L324.38,293.85 L324.46,295.20 L324.54,296.55 L324.62,297.90 L324.70,299.25 L324.78,300.60 L324.86,301.94 L324.94,303.29 L325.02,304.63 L325.10,305.97 L325.18,307.31 L325.26,308.64 L325.34,309.98 L325.42,311.31 L325.50,312.64 L325.58,313.97 L325.66,315.30 L325.74,316.63 L325.82,317.95 L325.90,319.28 L325.98,320.60 L326.06,321.92 L326.14,323.24 L326.22,324.56 L326.30,325.87 L326.38,327.19 L326.46,328.50 L326.54,329.81 L326.62,331.12 L326.70,332.43 L326.78,333.74 L326.86,335.05 L326.94,336.35 L327.02,337.65 L327.10,338.96 L327.18,340.26 L327.26,341.56 L327.34,342.85 L327.42,344.15 L327.50,345.45 L327.58,346.74 L327.66,348.03 L327.74,349.32 L327.82,350.61 L327.90,351.90 L327.98,353.19 L328.06,354.47 L328.14,355.76 L328.22,357.04 L328.30,358.32 L328.38,359.61 L328.46,360.88 L328.54,362.16 L328.62,363.44 L328.70,364.72 L328.78,365.99 L328.86,367.27 L328.94,368.54 L329.02,369.81 L329.10,371.08 L329.18,372.35 L329.26,373.62 L329.34,374.88 L329.42,376.15 L329.50,377.42 L329.58,378.68 L329.66,379.94 L329.74,381.20 L329.82,382.46 L329.90,383.72 L329.98,384.98 L330.06,386.24 L330.14,387.50 L330.22,388.75 L330.30,390.01 L330.38,391.26 L330.46,392.51 L330.54,393.77 L330.62,395.02 L330.70,396.27 L330.78,397.51 L330.86,398.76 L330.94,400.00 L331.02,401.25 L331.10,402.49 L331.18,403.73 L331.26,404.97 L331.34,406.21 L331.42,407.44 L331.50,408.68 L331.58,409.91 L331.66,411.14 L331.74,412.37 L331.82,413.59 L331.90,414.82 L331.98,416.04 L332.06,417.26 L332.14,418.48 L332.22,419.69 L332.30,420.90 L332.38,422.11 L332.46,423.32 L332.54,424.53 L332.62,425.73 L332.70,426.93 L332.78,428.13 L332.86,429.32 L332.94,430.51 L333.02,431.70 L333.10,432.89 L333.18,434.07 L333.26,435.25 L333.34,436.43 L333.42,437.61 L333.50,438.78 L333.58,439.94 L333.66,441.11 L333.74,442.27 L333.82,443.43 L333.90,444.58 L333.98,445.73 L334.06,446.88 L334.14,448.02 L334.22,449.16 L334.30,450.30 L334.38,451.43 L334.46,452.56 L334.54,453.69 L334.62,454.81 L334.70,455.92 L334.78,457.04 L334.86,458.14 L334.94,459.25 L335.02,460.35 L335.10,461.44 L335.18,462.54 L335.26,463.62 L335.34,464.70 L335.42,465.78 L335.50,466.86 L335.58,467.92 L335.66,468.99 L335.74,470.05 L335.82,471.10 L335.90,472.15 L335.98,473.20 L336.06,474.24 L336.14,475.27 L336.22,476.30 L336.30,477.33 L336.38,478.35 L336.46,479.36 L336.54,480.37 L336.62,481.37 L336.70,482.37 L336.78,483.37 L336.86,484.36 L336.94,485.35 L337.02,486.35 L337.10,487.34 L337.19,488.34 L337.27,489.33 L337.35,490.33 L337.44,491.32 L337.52,492.31 L337.60,493.31 L337.69,494.30 L337.77,495.30 L337.86,496.29 L337.94,497.29 L338.03,498.28 L338.12,499.27 L338.20,500.27 L338.29,501.26 L338.38,502.26 L338.46,503.25 L338.55,504.25 L338.64,505.24 L338.73,506.24 L338.82,507.23 L338.90,508.23 L338.99,509.22 L339.08,510.22 L339.17,511.21 L339.26,512.21 L339.35,513.20 L339.44,514.20 L339.53,515.20 L339.62,516.19 L339.71,517.19 L339.80,518.18 L339.89,519.18 L339.97,520.17 L340.06,521.17 L340.15,522.17 L340.24,523.16 L340.33,524.16 L340.42,525.16 L340.51,526.15 L340.60,527.15 L340.69,528.14 L340.78,529.14 L340.87,530.14 L340.96,531.13 L341.05,532.13 L341.14,533.12 L341.23,534.12 L341.31,535.11 L341.40,536.11 L341.49,537.11 L341.58,538.10 L341.67,539.10 L341.76,540.09 L341.85,541.09 L341.94,542.08 L342.03,543.08 L342.12,544.07 L342.21,545.07 L342.30,546.06 L342.39,547.06 L342.48,548.06 L342.57,549.05 L342.67,550.05 L342.76,551.04 L342.85,552.04 L342.94,553.03 L343.03,554.03 L343.12,555.02 L343.21,556.01 L343.31,557.01 L343.40,558.00 L343.49,559.00 L343.58,559.99 L343.68,560.99 L343.77,561.98 L343.86,562.98 L343.96,563.97 L344.05,564.96 L344.14,565.96 L344.24,566.95 L344.33,567.95 L344.43,568.94 L344.53,569.93 L344.62,570.93 L344.72,571.92 L344.81,572.91 L344.91,573.91 L345.01,574.90 L345.11,575.89 L345.20,576.89 L345.30,577.88 L345.40,578.87 L345.50,579.86 L345.60,580.86 L345.70,581.85 L345.80,582.84 L345.90,583.83 L346.01,584.83 L346.11,585.82 L346.21,586.81 L346.32,587.80 L346.42,588.79 L346.53,589.78 L346.63,590.77 L346.74,591.76 L346.85,592.76 L346.95,593.75 L347.06,594.74 L347.17,595.73 L347.28,596.72 L347.39,597.71 L347.51,598.70 L347.62,599.69 L347.73,600.68 L347.85,601.67 L347.96,602.66 L348.08,603.65 L348.20,604.63 L348.31,605.62 L348.43,606.61 L348.55,607.60 L348.67,608.59 L348.80,609.58 L348.92,610.57 L349.04,611.55 L349.17,612.54 L349.30,613.53 L349.42,614.52 L349.55,615.50 L349.68,616.49 L349.81,617.48 L349.94,618.46 L350.08,619.45 L350.21,620.44 L350.35,621.42 L350.48,622.41 L350.62,623.39 L350.76,624.38 L350.90,625.36 L351.05,626.35 L351.19,627.33 L351.34,628.32 L351.49,629.30 L351.63,630.28 L351.79,631.26 L351.94,632.25 L352.09,633.23 L352.25,634.21 L352.41,635.19 L352.57,636.17 L352.73,637.15 L352.89,638.13 L353.06,639.11 L353.23,640.09 L353.40,641.07 L353.57,642.05 L353.74,643.03 L353.92,644.00 L354.10,644.98 L354.29,645.96 L354.47,646.93 L354.66,647.90 L354.85,648.88 L355.04,649.85 L355.24,650.82 L355.44,651.79 L355.65,652.76 L355.86,653.73 L356.07,654.70 L356.28,655.67 L356.50,656.63 L356.73,657.60 L356.95,658.56 L357.19,659.52 L357.43,660.48 L357.67,661.44 L357.92,662.40 L358.17,663.36 L358.43,664.31 L358.70,665.26 L358.97,666.21 L359.25,667.15 L359.54,668.10 L359.83,669.04 L360.14,669.98 L360.45,670.91 L360.78,671.84 L361.11,672.76 L361.46,673.68 L361.81,674.60 L362.18,675.51 L362.57,676.41 L362.97,677.30 L363.38,678.19 L363.82,679.06 L364.28,679.92 L364.76,680.76 L365.28,681.58 L365.82,682.38 L366.41,683.14 L367.05,683.86 L367.74,684.52 L368.49,685.10 L369.33,685.56 L370.24,685.86 L371.22,685.95 L372.22,685.78 L373.18,685.39 L374.06,684.84 L374.87,684.16 L375.60,683.42 L376.27,682.63 L376.89,681.80 L377.48,680.95 L378.02,680.07 L378.54,679.19 L379.03,678.29 L379.50,677.38 L379.95,676.47 L380.38,675.55 L380.80,674.62 L381.20,673.69 L381.59,672.75 L381.97,671.81 L382.34,670.87 L382.71,669.93 L383.06,668.98 L383.41,668.03 L383.75,667.08 L384.08,666.13 L384.41,665.17 L384.73,664.22 L385.04,663.26 L385.36,662.30 L385.66,661.34 L385.97,660.38 L386.27,659.42 L386.56,658.46 L386.85,657.50 L387.14,656.54 L387.43,655.57 L387.71,654.61 L387.99,653.64 L388.27,652.68 L388.54,651.71 L388.82,650.75 L389.09,649.78 L389.36,648.81 L389.62,647.85 L389.89,646.88 L390.15,645.91 L390.41,644.94 L390.67,643.97 L390.93,643.00 L391.19,642.03 L391.45,641.07 L391.70,640.10 L391.95,639.13 L392.20,638.16 L392.46,637.19 L392.71,636.22 L392.96,635.25 L393.20,634.27 L393.45,633.30 L393.70,632.33 L393.94,631.36 L394.19,630.39 L394.43,629.42 L394.68,628.45 L394.92,627.48 L395.16,626.51 L395.41,625.54 L395.65,624.57 L395.89,623.59 L396.13,622.62 L396.37,621.65 L396.61,620.68 L396.85,619.71 L397.09,618.74 L397.33,617.77 L397.57,616.80 L397.81,615.83 L398.05,614.86 L398.29,613.89 L398.53,612.92 L398.78,611.95 L399.02,610.97 L399.26,610.00 L399.50,609.03 L399.73,608.05 L399.97,607.08 L400.21,606.10 L400.44,605.13 L400.67,604.15 L400.90,603.17 L401.12,602.19 L401.35,601.21 L401.57,600.22 L401.78,599.24 L402.00,598.25 L402.21,597.27 L402.41,596.28 L402.62,595.29 L402.82,594.30 L403.01,593.31 L403.21,592.32 L403.40,591.33 L403.58,590.34 L403.76,589.35 L403.94,588.36 L404.12,587.36 L404.29,586.37 L404.46,585.37 L404.63,584.38 L404.79,583.38 L404.95,582.39 L405.11,581.39 L405.27,580.40 L405.42,579.41 L405.58,578.41 L405.73,577.42 L405.88,576.43 L406.03,575.44 L406.18,574.45 L406.33,573.46 L406.48,572.47 L406.62,571.48 L406.77,570.49 L406.92,569.50 L407.07,568.51 L407.22,567.53 L407.37,566.54 L407.52,565.56 L407.67,564.57 L407.82,563.59 L407.97,562.60 L408.13,561.62 L408.28,560.64 L408.44,559.66 L408.60,558.68 L408.77,557.70 L408.93,556.72 L409.10,555.75 L409.27,554.77 L409.45,553.80 L409.63,552.82 L409.81,551.85 L410.00,550.88 L410.19,549.90 L410.38,548.93 L410.58,547.96 L410.78,546.99 L410.98,546.02 L411.19,545.05 L411.40,544.09 L411.62,543.12 L411.84,542.15 L412.06,541.19 L412.29,540.22 L412.53,539.26 L412.76,538.30 L413.00,537.33 L413.25,536.37 L413.49,535.41 L413.74,534.45 L414.00,533.48 L414.25,532.52 L414.51,531.56 L414.77,530.60 L415.03,529.63 L415.29,528.67 L415.55,527.71 L415.82,526.74 L416.08,525.78 L416.35,524.82 L416.61,523.86 L416.88,522.89 L417.15,521.93 L417.42,520.97 L417.69,520.01 L417.96,519.05 L418.23,518.09 L418.50,517.13 L418.77,516.16 L419.04,515.20 L419.32,514.24 L419.59,513.28 L419.87,512.32 L420.15,511.36 L420.42,510.41 L420.70,509.45 L420.98,508.49 L421.26,507.53 L421.54,506.57 L421.82,505.61 L422.11,504.66 L422.39,503.70 L422.67,502.74 L422.96,501.78 L423.24,500.83 L423.53,499.87 L423.82,498.91 L424.11,497.96 L424.39,497.00 L424.68,496.05 L424.98,495.09 L425.27,494.14 L425.56,493.18 L425.85,492.23 L426.15,491.27 L426.44,490.32 L426.74,489.36 L427.03,488.41 L427.33,487.46 L427.63,486.50 L427.93,485.55 L428.23,484.60 L428.53,483.65 L428.83,482.69 L429.13,481.74 L429.44,480.79 L429.74,479.84 L430.04,478.89 L430.35,477.94 L430.66,476.99 L430.96,476.04 L431.27,475.09 L431.58,474.14 L431.89,473.19 L432.20,472.24 L432.51,471.29 L432.82,470.34 L433.13,469.39 L433.45,468.44 L433.76,467.50 L434.08,466.55 L434.39,465.60 L434.71,464.65 L435.02,463.70 L435.34,462.76 L435.66,461.81 L435.98,460.86 L436.30,459.92 L436.62,458.97 L436.94,458.03 L437.26,457.08 L437.59,456.14 L437.91,455.19 L438.23,454.25 L438.56,453.30 L438.88,452.36 L439.21,451.41 L439.54,450.47 L439.86,449.52 L440.19,448.58 L440.52,447.64 L440.85,446.69 L441.18,445.75 L441.51,444.81 L441.84,443.86 L442.17,442.92 L442.50,441.98 L442.84,441.04 L443.17,440.10 L443.50,439.15 L443.84,438.21 L444.17,437.27 L444.51,436.33 L444.84,435.39 L445.18,434.45 L445.52,433.51 L445.86,432.57 L446.20,431.63 L446.54,430.69 L446.88,429.75 L447.22,428.81 L447.56,427.88 L447.91,426.94 L448.25,426.00 L448.60,425.07 L448.95,424.13 L449.30,423.20 L449.65,422.27 L450.01,421.33 L450.36,420.40 L450.72,419.47 L451.08,418.54 L451.44,417.61 L451.80,416.68 L452.17,415.76 L452.54,414.83 L452.91,413.91 L453.28,412.98 L453.66,412.06 L454.04,411.14 L454.42,410.22 L454.81,409.30 L455.20,408.39 L455.59,407.47 L455.99,406.56 L456.39,405.65 L456.80,404.74 L457.21,403.84 L457.62,402.93 L458.04,402.03 L458.47,401.14 L458.90,400.24 L459.34,399.35 L459.78,398.46 L460.23,397.58 L460.69,396.70 L461.15,395.83 L461.63,394.96 L462.11,394.09 L462.61,393.24 L463.11,392.39 L463.63,391.54 L464.16,390.71 L464.70,389.88 L465.26,389.07 L465.83,388.27 L466.42,387.49 L467.04,386.72 L467.67,385.97 L468.33,385.25 L469.02,384.55 L469.74,383.89 L470.49,383.27 L471.28,382.70 L472.12,382.20 L473.00,381.78 L473.92,381.46 L474.89,381.27 L475.88,381.23 L476.88,381.34 L477.86,381.61 L478.80,382.01 L479.70,382.52 L480.54,383.11 L481.34,383.77 L482.08,384.47 L482.79,385.22 L483.46,386.00 L484.09,386.80 L484.70,387.62 L485.28,388.46 L485.84,389.31 L486.38,390.18 L486.89,391.05 L487.40,391.94 L487.88,392.83 L488.35,393.73 L488.81,394.63 L489.26,395.54 L489.69,396.46 L490.12,397.37 L490.53,398.30 L490.94,399.22 L491.33,400.15 L491.72,401.08 L492.10,402.02 L492.48,402.95 L492.85,403.89 L493.21,404.84 L493.56,405.78 L493.91,406.72 L494.26,407.67 L494.59,408.62 L494.93,409.57 L495.26,410.52 L495.58,411.48 L495.90,412.43 L496.22,413.39 L496.53,414.34 L496.84,415.30 L497.14,416.26 L497.44,417.22 L497.74,418.18 L498.03,419.14 L498.32,420.10 L498.61,421.07 L498.90,422.03 L499.18,423.00 L499.46,423.96 L499.73,424.93 L500.01,425.89 L500.28,426.86 L500.55,427.82 L500.82,428.79 L501.09,429.75 L501.35,430.72 L501.62,431.69 L501.89,432.65 L502.15,433.62 L502.41,434.58 L502.68,435.55 L502.94,436.51 L503.20,437.48 L503.46,438.44 L503.73,439.41 L503.99,440.37 L504.25,441.34 L504.51,442.30 L504.78,443.26 L505.04,444.22 L505.31,445.19 L505.58,446.15 L505.85,447.11 L506.12,448.07 L506.39,449.03 L506.66,449.98 L506.94,450.94 L507.22,451.90 L507.49,452.86 L507.77,453.82 L508.05,454.78 L508.33,455.74 L508.61,456.70 L508.88,457.67 L509.16,458.63 L509.43,459.60 L509.71,460.56 L509.98,461.53 L510.25,462.50 L510.52,463.46 L510.78,464.44 L511.04,465.41 L511.30,466.38 L511.55,467.35 L511.80,468.33 L512.05,469.30 L512.30,470.28 L512.54,471.26 L512.77,472.24 L513.01,473.22 L513.24,474.20 L513.47,475.18 L513.69,476.16 L513.91,477.14 L514.14,478.12 L514.35,479.10 L514.57,480.08 L514.79,481.06 L515.00,482.04 L515.21,483.02 L515.43,484.00 L515.64,484.97 L515.85,485.95 L516.06,486.93 L516.27,487.91 L516.47,488.89 L516.68,489.87 L516.89,490.85 L517.10,491.83 L517.30,492.81 L517.51,493.78 L517.72,494.76 L517.93,495.74 L518.14,496.72 L518.34,497.69 L518.55,498.67 L518.76,499.64 L518.97,500.62 L519.19,501.59 L519.40,502.57 L519.61,503.54 L519.83,504.51 L520.05,505.49 L520.27,506.46 L520.49,507.43 L520.71,508.41 L520.93,509.38 L521.15,510.35 L521.37,511.33 L521.60,512.30 L521.82,513.28 L522.05,514.25 L522.27,515.23 L522.49,516.20 L522.71,517.18 L522.94,518.16 L523.16,519.13 L523.38,520.11 L523.59,521.09 L523.81,522.07 L524.03,523.05 L524.24,524.04 L524.45,525.02 L524.66,526.00 L524.87,526.98 L525.07,527.97 L525.27,528.95 L525.47,529.94 L525.67,530.93 L525.87,531.91 L526.06,532.90 L526.25,533.89 L526.44,534.88 L526.62,535.87 L526.81,536.85 L526.99,537.84 L527.17,538.83 L527.35,539.82 L527.53,540.80 L527.70,541.79 L527.88,542.78 L528.05,543.77 L528.23,544.75 L528.40,545.74 L528.57,546.73 L528.74,547.71 L528.92,548.70 L529.09,549.69 L529.26,550.67 L529.43,551.66 L529.60,552.64 L529.77,553.63 L529.94,554.61 L530.11,555.60 L530.28,556.58 L530.45,557.57 L530.62,558.55 L530.80,559.53 L530.97,560.52 L531.14,561.50 L531.32,562.48 L531.49,563.46 L531.67,564.45 L531.84,565.43 L532.02,566.41 L532.20,567.39 L532.38,568.37 L532.56,569.35 L532.74,570.34 L532.92,571.32 L533.10,572.30 L533.28,573.28 L533.47,574.26 L533.65,575.24 L533.84,576.22 L534.02,577.20 L534.21,578.19 L534.39,579.17 L534.58,580.15 L534.77,581.13 L534.96,582.11 L535.15,583.09 L535.34,584.07 L535.53,585.05 L535.72,586.03 L535.91,587.01 L536.10,587.99 L536.29,588.97 L536.49,589.95 L536.68,590.93 L536.87,591.91 L537.07,592.89 L537.26,593.87 L537.46,594.85 L537.65,595.83 L537.85,596.81 L538.04,597.79 L538.24,598.77 L538.44,599.75 L538.63,600.73 L538.83,601.71 L539.03,602.69 L539.23,603.67 L539.42,604.65 L539.62,605.63 L539.82,606.61 L540.02,607.58 L540.22,608.56 L540.42,609.54 L540.62,610.52 L540.81,611.50 L541.01,612.48 L541.21,613.46 L541.41,614.44 L541.61,615.43 L541.81,616.41 L542.01,617.39 L542.20,618.37 L542.40,619.35 L542.60,620.33 L542.80,621.31 L543.00,622.29 L543.19,623.27 L543.39,624.25 L543.59,625.23 L543.78,626.21 L543.98,627.20 L544.18,628.18 L544.37,629.16 L544.57,630.14 L544.76,631.12 L544.96,632.10 L545.15,633.08 L545.35,634.06 L545.54,635.05 L545.74,636.03 L545.93,637.01 L546.12,637.99 L546.32,638.97 L546.51,639.95 L546.70,640.93 L546.90,641.92 L547.09,642.90 L547.28,643.88 L547.48,644.86 L547.67,645.84 L547.86,646.82 L548.05,647.80 L548.25,648.79 L548.44,649.77 L548.63,650.75 L548.83,651.73 L549.02,652.71 L549.21,653.69 L549.40,654.67 L549.60,655.65 L549.79,656.64 L549.98,657.62 L550.18,658.60 L550.37,659.58 L550.56,660.56 L550.76,661.54 L550.95,662.52 L551.14,663.50 L551.34,664.48 L551.53,665.46 L551.72,666.44 L551.92,667.42 L552.11,668.41 L552.31,669.39 L552.50,670.37 L552.69,671.35 L552.89,672.33 L553.09,673.31 L553.28,674.29 L553.48,675.27 L553.67,676.25 L553.87,677.23 L554.07,678.21 L554.26,679.19 L554.46,680.16 L554.66,681.14 L554.85,682.12 L555.05,683.10 L555.25,684.08 L555.45,685.06 L555.65,686.04 L555.85,687.02 L556.05,688.00 L556.25,688.98 L556.45,689.95 L556.65,690.93 L556.86,691.91 L557.06,692.89 L557.26,693.87 L557.46,694.84 L557.67,695.82 L557.87,696.80 L558.08,697.78 L558.29,698.75 L558.49,699.73 L558.70,700.71 L558.91,701.68 L559.12,702.66 L559.33,703.63 L559.54,704.61 L559.75,705.59 L559.96,706.56 L560.17,707.54 L560.38,708.51 L560.60,709.49 L560.81,710.46 L561.03,711.44 L561.25,712.41 L561.46,713.38 L561.68,714.36 L561.90,715.33 L562.12,716.30 L562.35,717.27 L562.57,718.25 L562.79,719.22 L563.02,720.19 L563.24,721.16 L563.47,722.13 L563.70,723.10 L563.93,724.07 L564.17,725.04 L564.40,726.01 L564.63,726.98 L564.87,727.95 L565.11,728.92 L565.34,729.89 L565.58,730.86 L565.82,731.83 L566.06,732.80 L566.30,733.76 L566.55,734.73 L566.79,735.70 L567.03,736.67 L567.28,737.64 L567.52,738.61 L567.77,739.58 L568.01,740.55 L568.26,741.51 L568.50,742.48 L568.75,743.45 L569.00,744.42 L569.24,745.39 L569.49,746.36 L569.73,747.33 L569.98,748.30 L570.22,749.27 L570.47,750.24 L570.71,751.21 L570.95,752.19 L571.20,753.16 L571.44,754.13 L571.68,755.10 L571.92,756.07 L572.16,757.05 L572.40,758.02 L572.63,758.99 L572.87,759.97 L573.10,760.94 L573.34,761.92 L573.57,762.89 L573.80,763.87 L574.03,764.85 L574.26,765.82 L574.49,766.80 L574.72,767.77 L574.94,768.75 L575.17,769.72 L575.39,770.70 L575.62,771.68 L575.84,772.65 L576.06,773.63 L576.28,774.60 L576.51,775.58 L576.73,776.55 L576.95,777.53 L577.17,778.50 L577.40,779.48 L577.62,780.45 L577.84,781.43 L578.06,782.40 L578.29,783.38 L578.51,784.35 L578.74,785.32 L578.96,786.29 L579.19,787.27 L579.41,788.24 L579.64,789.21 L579.87,790.18 L580.10,791.15 L580.33,792.12 L580.56,793.09 L580.79,794.06 L581.02,795.03 L581.26,796.00 L581.50,796.97 L581.74,797.94 L581.98,798.90 L582.22,799.87 L582.46,800.83 L582.71,801.80 L582.96,802.76 L583.21,803.72 L583.47,804.68 L583.73,805.65 L583.99,806.61 L584.25,807.57 L584.51,808.53 L584.78,809.49 L585.05,810.44 L585.32,811.40 L585.60,812.36 L585.87,813.32 L586.15,814.27 L586.43,815.23 L586.71,816.18 L587.00,817.14 L587.29,818.09 L587.58,819.04 L587.87,820.00 L588.16,820.95 L588.46,821.90 L588.75,822.85 L589.05,823.81 L589.35,824.76 L589.66,825.71 L589.96,826.66 L590.26,827.61 L590.57,828.56 L590.88,829.51 L591.19,830.46 L591.49,831.41 L591.80,832.36 L592.11,833.31 L592.43,834.26 L592.74,835.21 L593.05,836.16 L593.36,837.11 L593.67,838.06 L593.98,839.01 L594.29,839.96 L594.60,840.91 L594.91,841.86 L595.22,842.82 L595.53,843.77 L595.84,844.72 L596.14,845.68 L596.45,846.63 L596.75,847.59 L597.05,848.54 L597.35,849.50 L597.65,850.46 L597.95,851.41 L598.24,852.37 L598.54,853.33 L598.83,854.29 L599.12,855.25 L599.41,856.21 L599.70,857.17 L599.99,858.13 L600.28,859.09 L600.56,860.05 L600.85,861.01 L601.13,861.97 L601.41,862.93 L601.70,863.89 L601.98,864.85 L602.26,865.81 L602.54,866.77 L602.82,867.73 L603.10,868.69 L603.38,869.65 L603.66,870.61 L603.94,871.57 L604.22,872.53 L604.50,873.49 L604.78,874.45 L605.06,875.41 L605.34,876.37 L605.62,877.33 L605.90,878.29 L606.18,879.25 L606.46,880.21 L606.75,881.17 L607.03,882.12 L607.31,883.08 L607.59,884.04 L607.88,885.00 L608.16,885.95 L608.45,886.91 L608.73,887.87 L609.02,888.82 L609.31,889.78 L609.60,890.73 L609.89,891.69 L610.18,892.64 L610.48,893.59 L610.77,894.55 L611.07,895.50 L611.37,896.45 L611.67,897.40 L611.97,898.35 L612.28,899.30 L612.58,900.25 L612.89,901.19 L613.20,902.14 L613.52,903.09 L613.83,904.03 L614.15,904.97 L614.47,905.92 L614.80,906.86 L615.12,907.80 L615.45,908.74 L615.78,909.68 L616.12,910.62 L616.45,911.55 L616.79,912.49 L617.14,913.43 L617.48,914.36 L617.83,915.29 L618.18,916.22 L618.54,917.15 L618.90,918.08 L619.26,919.01 L619.62,919.94 L619.99,920.86 L620.36,921.78 L620.74,922.71 L621.11,923.63 L621.50,924.55 L621.88,925.46 L622.27,926.38 L622.66,927.29 L623.06,928.21 L623.46,929.12 L623.87,930.03 L624.28,930.93 L624.69,931.84 L625.11,932.74 L625.53,933.64 L625.95,934.54 L626.38,935.44 L626.82,936.33 L627.26,937.22 L627.70,938.11 L628.15,939.00 L628.61,939.89 L629.07,940.77 L629.53,941.65 L630.00,942.52 L630.48,943.40 L630.96,944.27 L631.44,945.13 L631.94,946.00 L632.43,946.86 L632.94,947.72 L633.44,948.57 L633.96,949.42 L634.48,950.27 L635.01,951.11 L635.54,951.95 L636.08,952.78 L636.63,953.61 L637.18,954.44 L637.74,955.26 L638.31,956.08 L638.88,956.89 L639.46,957.70 L640.05,958.50 L640.64,959.30 L641.24,960.09 L641.85,960.88 L642.46,961.66 L643.08,962.44 L643.71,963.21 L644.35,963.97 L644.99,964.73 L645.64,965.48 L646.30,966.23 L646.97,966.97 L647.64,967.70 L648.32,968.42 L649.01,969.14 L649.70,969.85 L650.41,970.55 L651.12,971.25 L651.84,971.93 L652.57,972.61 L653.31,973.27 L654.05,973.93 L654.81,974.57 L655.58,975.21 L656.35,975.83 L657.13,976.44 L657.93,977.04 L658.73,977.63 L659.54,978.20 L660.37,978.75 L661.20,979.30 L662.04,979.82 L662.90,980.33 L663.76,980.83 L664.63,981.30 L665.51,981.76 L666.41,982.20 L667.31,982.62 L668.22,983.02 L669.14,983.40 L670.07,983.75 L671.01,984.08 L671.96,984.39 L672.91,984.68 L673.87,984.94 L674.84,985.18 L675.82,985.38 L676.80,985.57 L677.78,985.73 L678.77,985.86 L679.76,985.96 L680.76,986.04 L681.76,986.08 L682.76,986.10 L683.76,986.10 L684.76,986.07 L685.76,986.00 L686.75,985.92 L687.75,985.80 L688.74,985.66 L689.73,985.50 L690.71,985.31 L691.69,985.09 L692.67,984.85 L693.63,984.59 L694.60,984.30 L695.55,983.99 L696.50,983.66 L697.44,983.31 L698.37,982.94 L699.30,982.55 L700.21,982.14 L701.12,981.71 L702.03,981.27 L702.92,980.81 L703.80,980.33 L704.68,979.84 L705.55,979.33 L706.41,978.81 L707.26,978.28 L708.10,977.73 L708.93,977.17 L709.76,976.60 L710.58,976.02 L711.39,975.43 L712.19,974.82 L712.99,974.21 L713.78,973.58 L714.56,972.95 L715.33,972.31 L716.09,971.66 L716.85,971.00 L717.60,970.33 L718.35,969.65 L719.08,968.97 L719.82,968.28 L720.54,967.59 L721.26,966.89 L721.97,966.18 L722.68,965.46 L723.38,964.74 L724.07,964.02 L724.76,963.29 L725.44,962.55 L726.12,961.81 L726.79,961.06 L727.45,960.31 L728.11,959.55 L728.77,958.79 L729.41,958.02 L730.05,957.24 L730.69,956.46 L731.31,955.68 L731.94,954.89 L732.55,954.09 L733.16,953.29 L733.76,952.48 L734.35,951.67 L734.94,950.86 L735.52,950.04 L736.10,949.21 L736.67,948.38 L737.23,947.55 L737.79,946.71 L738.34,945.87 L738.88,945.02 L739.42,944.17 L739.95,943.32 L740.47,942.46 L740.99,941.60 L741.50,940.73 L742.01,939.86 L742.51,938.99 L743.01,938.12 L743.50,937.24 L743.98,936.36 L744.46,935.47 L744.94,934.59 L745.40,933.70 L745.87,932.80 L746.33,931.91 L746.78,931.01 L747.23,930.11 L747.67,929.21 L748.11,928.31 L748.55,927.40 L748.98,926.50 L749.41,925.59 L749.83,924.68 L750.26,923.77 L750.67,922.86 L751.09,921.94 L751.50,921.02 L751.91,920.11 L752.31,919.19 L752.71,918.27 L753.11,917.35 L753.51,916.43 L753.90,915.50 L754.29,914.58 L754.68,913.65 L755.07,912.73 L755.45,911.80 L755.83,910.87 L756.21,909.95 L756.59,909.02 L756.96,908.09 L757.33,907.15 L757.70,906.22 L758.07,905.29 L758.44,904.36 L758.80,903.42 L759.16,902.49 L759.52,901.55 L759.88,900.62 L760.24,899.68 L760.60,898.74 L760.95,897.80 L761.30,896.87 L761.65,895.93 L762.00,894.99 L762.35,894.05 L762.70,893.11 L763.04,892.17 L763.38,891.23 L763.73,890.28 L764.07,889.34 L764.41,888.40 L764.74,887.46 L765.08,886.51 L765.42,885.57 L765.75,884.63 L766.09,883.68 L766.42,882.74 L766.75,881.79 L767.08,880.85 L767.41,879.90 L767.74,878.95 L768.07,878.01 L768.39,877.06 L768.72,876.11 L769.04,875.17 L769.37,874.22 L769.69,873.27 L770.01,872.33 L770.34,871.38 L770.66,870.43 L770.98,869.48 L771.30,868.53 L771.62,867.58 L771.94,866.63 L772.25,865.68 L772.57,864.73 L772.89,863.79 L773.20,862.84 L773.52,861.89 L773.83,860.94 L774.15,859.99 L774.46,859.03 L774.77,858.08 L775.09,857.13 L775.40,856.18 L775.71,855.23 L776.02,854.28 L776.33,853.33 L776.64,852.38 L776.95,851.43 L777.26,850.47 L777.57,849.52 L777.88,848.57 L778.18,847.62 L778.49,846.66 L778.80,845.71 L779.10,844.76 L779.41,843.80 L779.71,842.85 L780.01,841.90 L780.32,840.94 L780.62,839.99 L780.92,839.03 L781.22,838.08 L781.52,837.12 L781.82,836.17 L782.12,835.21 L782.42,834.26 L782.72,833.30 L783.01,832.34 L783.31,831.39 L783.60,830.43 L783.90,829.47 L784.19,828.52 L784.48,827.56 L784.78,826.60 L785.07,825.64 L785.36,824.68 L785.65,823.72 L785.93,822.77 L786.22,821.81 L786.51,820.85 L786.79,819.89 L787.08,818.93 L787.36,817.97 L787.65,817.01 L787.93,816.05 L788.21,815.08 L788.49,814.12 L788.77,813.16 L789.05,812.20 L789.33,811.24 L789.61,810.28 L789.89,809.31 L790.16,808.35 L790.44,807.39 L790.71,806.42 L790.98,805.46 L791.26,804.50 L791.53,803.53 L791.80,802.57 L792.07,801.60 L792.34,800.64 L792.60,799.67 L792.87,798.71 L793.14,797.74 L793.40,796.77 L793.66,795.81 L793.93,794.84 L794.19,793.87 L794.45,792.91 L794.71,791.94 L794.97,790.97 L795.23,790.00 L795.48,789.03 L795.74,788.06 L795.99,787.09 L796.24,786.12 L796.49,785.15 L796.74,784.18 L796.99,783.21 L797.24,782.24 L797.48,781.26 L797.73,780.29 L797.97,779.32 L798.21,778.35 L798.45,777.37 L798.69,776.40 L798.93,775.42 L799.16,774.45 L799.40,773.47 L799.63,772.50 L799.86,771.52 L800.09,770.54 L800.32,769.57 L800.55,768.59 L800.77,767.61 L801.00,766.63 L801.22,765.66 L801.44,764.68 L801.66,763.70 L801.88,762.72 L802.09,761.74 L802.31,760.76 L802.52,759.78 L802.74,758.80 L802.95,757.82 L803.16,756.84 L803.37,755.86 L803.57,754.87 L803.78,753.89 L803.98,752.91 L804.19,751.93 L804.39,750.94 L804.59,749.96 L804.79,748.98 L804.98,747.99 L805.18,747.01 L805.38,746.03 L805.57,745.04 L805.76,744.06 L805.95,743.07 L806.14,742.09 L806.33,741.10 L806.52,740.12 L806.71,739.13 L806.89,738.14 L807.08,737.16 L807.26,736.17 L807.44,735.18 L807.62,734.20 L807.80,733.21 L807.98,732.22 L808.15,731.24 L808.33,730.25 L808.51,729.26 L808.68,728.27 L808.85,727.28 L809.02,726.30 L809.19,725.31 L809.36,724.32 L809.53,723.33 L809.70,722.34 L809.87,721.35 L810.03,720.36 L810.20,719.37 L810.36,718.38 L810.52,717.39 L810.68,716.40 L810.84,715.41 L811.00,714.42 L811.16,713.43 L811.32,712.44 L811.48,711.45 L811.63,710.46 L811.79,709.47 L811.94,708.48 L812.09,707.49 L812.25,706.50 L812.40,705.51 L812.55,704.52 L812.70,703.52 L812.85,702.53 L813.00,701.54 L813.14,700.55 L813.29,699.56 L813.44,698.57 L813.58,697.58 L813.73,696.59 L813.87,695.59 L814.02,694.60 L814.16,693.61 L814.30,692.62 L814.45,691.63 L814.59,690.64 L814.73,689.65 L814.87,688.66 L815.02,687.67 L815.16,686.68 L815.30,685.69 L815.44,684.70 L815.58,683.71 L815.72,682.72 L815.87,681.73 L816.01,680.74 L816.15,679.75 L816.29,678.76 L816.43,677.77 L816.57,676.78 L816.71,675.79 L816.86,674.80 L817.00,673.81 L817.14,672.82 L817.28,671.83 L817.42,670.84 L817.57,669.85 L817.71,668.87 L817.85,667.88 L818.00,666.89 L818.14,665.90 L818.29,664.91 L818.43,663.93 L818.58,662.94 L818.73,661.95 L818.87,660.97 L819.02,659.98 L819.17,658.99 L819.32,658.01 L819.47,657.02 L819.62,656.04 L819.77,655.05 L819.93,654.07 L820.08,653.08 L820.24,652.10 L820.39,651.11 L820.55,650.13 L820.71,649.15 L820.87,648.16 L821.03,647.18 L821.19,646.20 L821.36,645.22 L821.52,644.23 L821.69,643.25 L821.86,642.27 L822.03,641.29 L822.20,640.31 L822.37,639.33 L822.55,638.35 L822.72,637.37 L822.90,636.39 L823.08,635.41 L823.25,634.43 L823.44,633.45 L823.62,632.47 L823.80,631.49 L823.99,630.51 L824.17,629.53 L824.36,628.55 L824.55,627.57 L824.74,626.59 L824.93,625.62 L825.12,624.64 L825.32,623.66 L825.51,622.68 L825.71,621.71 L825.91,620.73 L826.11,619.75 L826.31,618.77 L826.51,617.80 L826.71,616.82 L826.91,615.84 L827.12,614.87 L827.32,613.89 L827.53,612.91 L827.73,611.94 L827.94,610.96 L828.15,609.98 L828.36,609.01 L828.57,608.03 L828.77,607.05 L828.98,606.08 L829.19,605.10 L829.40,604.12 L829.61,603.14 L829.83,602.17 L830.04,601.19 L830.25,600.21 L830.46,599.23 L830.67,598.26 L830.88,597.28 L831.09,596.30 L831.30,595.32 L831.51,594.34 L831.72,593.36 L831.93,592.39 L832.13,591.41 L832.34,590.43 L832.55,589.45 L832.76,588.47 L832.97,587.49 L833.18,586.52 L833.39,585.54 L833.59,584.56 L833.80,583.58 L834.01,582.60 L834.22,581.62 L834.42,580.64 L834.63,579.67 L834.84,578.69 L835.05,577.71 L835.25,576.73 L835.46,575.75 L835.67,574.77 L835.87,573.79 L836.08,572.82 L836.29,571.84 L836.49,570.86 L836.70,569.88 L836.90,568.90 L837.11,567.92 L837.32,566.94 L837.52,565.96 L837.73,564.99 L837.93,564.01 L838.14,563.03 L838.34,562.05 L838.55,561.07 L838.75,560.09 L838.96,559.11 L839.17,558.13 L839.37,557.15 L839.58,556.18 L839.78,555.20 L839.99,554.22 L840.19,553.24 L840.40,552.26 L840.60,551.28 L840.81,550.30 L841.01,549.32 L841.22,548.35 L841.42,547.37 L841.63,546.39 L841.83,545.41 L842.04,544.43 L842.24,543.45 L842.45,542.47 L842.65,541.49 L842.86,540.52 L843.06,539.54 L843.27,538.56 L843.47,537.58 L843.68,536.60 L843.88,535.62 L844.09,534.64 L844.29,533.66 L844.50,532.69 L844.70,531.71 L844.91,530.73 L845.11,529.75 L845.32,528.77 L845.53,527.79 L845.73,526.82 L845.94,525.84 L846.14,524.86 L846.35,523.88 L846.56,522.90 L846.76,521.93 L846.97,520.95 L847.18,519.97 L847.38,518.99 L847.59,518.01 L847.80,517.04 L848.01,516.06 L848.21,515.08 L848.42,514.10 L848.63,513.13 L848.84,512.15 L849.05,511.17 L849.26,510.19 L849.46,509.22 L849.67,508.24 L849.88,507.26 L850.09,506.28 L850.30,505.31 L850.51,504.33 L850.72,503.35 L850.93,502.38 L851.15,501.40 L851.36,500.42 L851.57,499.45 L851.78,498.47 L851.99,497.49 L852.21,496.52 L852.42,495.54 L852.63,494.56 L852.85,493.59 L853.06,492.61 L853.27,491.64 L853.49,490.66 L853.70,489.68 L853.92,488.71 L854.13,487.73 L854.35,486.76 L854.57,485.78 L854.78,484.81 L855.00,483.83 L855.22,482.86 L855.44,481.88 L855.66,480.91 L855.88,479.93 L856.10,478.96 L856.32,477.99 L856.54,477.01 L856.76,476.04 L856.98,475.06 L857.20,474.09 L857.43,473.12 L857.65,472.14 L857.88,471.17 L858.10,470.20 L858.33,469.22 L858.55,468.25 L858.78,467.28 L859.01,466.31 L859.23,465.33 L859.46,464.36 L859.69,463.39 L859.92,462.42 L860.15,461.45 L860.38,460.48 L860.62,459.51 L860.85,458.54 L861.08,457.56 L861.32,456.59 L861.55,455.62 L861.79,454.65 L862.03,453.69 L862.27,452.72 L862.51,451.75 L862.75,450.78 L862.99,449.81 L863.23,448.84 L863.47,447.87 L863.71,446.91 L863.96,445.94 L864.21,444.97 L864.45,444.00 L864.70,443.04 L864.95,442.07 L865.20,441.11 L865.45,440.14 L865.70,439.18 L865.96,438.21 L866.21,437.25 L866.47,436.28 L866.73,435.32 L866.99,434.36 L867.25,433.39 L867.51,432.43 L867.77,431.47 L868.04,430.51 L868.30,429.55 L868.57,428.59 L868.84,427.63 L869.11,426.67 L869.38,425.71 L869.66,424.75 L869.93,423.79 L870.21,422.83 L870.49,421.88 L870.77,420.92 L871.05,419.96 L871.33,419.01 L871.62,418.05 L871.91,417.10 L872.20,416.15 L872.49,415.19 L872.79,414.24 L873.08,413.29 L873.38,412.34 L873.69,411.39 L873.99,410.44 L874.30,409.50 L874.61,408.55 L874.92,407.61 L875.23,406.66 L875.55,405.72 L875.87,404.77 L876.19,403.83 L876.52,402.89 L876.85,401.96 L877.18,401.02 L877.52,400.08 L877.86,399.15 L878.21,398.22 L878.55,397.28 L878.91,396.35 L879.26,395.43 L879.62,394.50 L879.99,393.58 L880.36,392.66 L880.74,391.74 L881.12,390.82 L881.50,389.90 L881.90,388.99 L882.29,388.08 L882.70,387.18 L883.11,386.28 L883.53,385.38 L883.95,384.48 L884.39,383.59 L884.83,382.71 L885.28,381.83 L885.75,380.95 L886.22,380.09 L886.70,379.22 L887.20,378.37 L887.70,377.52 L888.23,376.69 L888.76,375.86 L889.31,375.05 L889.89,374.25 L890.48,373.46 L891.09,372.69 L891.72,371.95 L892.38,371.22 L893.07,370.53 L893.80,369.87 L894.55,369.26 L895.35,368.69 L896.18,368.19 L897.06,367.77 L897.99,367.45 L898.95,367.23 L899.94,367.15 L900.94,367.21 L901.93,367.41 L902.89,367.73 L903.82,368.16 L904.71,368.67 L905.55,369.26 L906.35,369.90 L907.11,370.59 L907.83,371.31 L908.52,372.06 L909.19,372.84 L909.82,373.63 L910.44,374.45 L911.03,375.27 L911.60,376.11 L912.16,376.96 L912.69,377.82 L913.22,378.69 L913.73,379.57 L914.23,380.45 L914.71,381.33 L915.19,382.23 L915.65,383.12 L916.11,384.03 L916.55,384.93 L916.99,385.84 L917.42,386.75 L917.84,387.67 L918.26,388.59 L918.67,389.51 L919.07,390.43 L919.46,391.36 L919.86,392.29 L920.24,393.22 L920.62,394.15 L921.00,395.08 L921.37,396.02 L921.73,396.95 L922.09,397.89 L922.45,398.83 L922.81,399.77 L923.16,400.72 L923.50,401.66 L923.84,402.61 L924.18,403.55 L924.52,404.50 L924.85,405.45 L925.18,406.40 L925.51,407.35 L925.83,408.30 L926.15,409.25 L926.47,410.20 L926.79,411.15 L927.10,412.11 L927.41,413.06 L927.72,414.02 L928.02,414.97 L928.33,415.93 L928.63,416.89 L928.93,417.85 L929.22,418.80 L929.52,419.76 L929.81,420.72 L930.10,421.68 L930.39,422.64 L930.68,423.60 L930.97,424.57 L931.25,425.53 L931.53,426.49 L931.81,427.45 L932.09,428.42 L932.37,429.38 L932.65,430.34 L932.92,431.31 L933.19,432.27 L933.46,433.24 L933.73,434.20 L934.00,435.17 L934.27,436.14 L934.54,437.10 L934.80,438.07 L935.06,439.04 L935.33,440.00 L935.59,440.97 L935.85,441.94 L936.11,442.91 L936.36,443.88 L936.62,444.84 L936.88,445.81 L937.13,446.78 L937.38,447.75 L937.64,448.72 L937.89,449.69 L938.14,450.66 L938.39,451.63 L938.63,452.60 L938.88,453.57 L939.13,454.55 L939.37,455.52 L939.62,456.49 L939.86,457.46 L940.10,458.43 L940.35,459.40 L940.59,460.38 L940.83,461.35 L941.07,462.32 L941.31,463.29 L941.54,464.27 L941.78,465.24 L942.02,466.21 L942.25,467.19 L942.49,468.16 L942.72,469.13 L942.96,470.11 L943.19,471.08 L943.42,472.06 L943.65,473.03 L943.88,474.00 L944.11,474.98 L944.34,475.95 L944.57,476.93 L944.80,477.90 L945.03,478.88 L945.26,479.85 L945.48,480.83 L945.71,481.80 L945.93,482.78 L946.16,483.76 L946.38,484.73 L946.61,485.71 L946.83,486.68 L947.05,487.66 L947.27,488.64 L947.50,489.61 L947.72,490.59 L947.94,491.56 L948.16,492.54 L948.38,493.52 L948.60,494.49 L948.82,495.47 L949.03,496.45 L949.25,497.43 L949.47,498.40 L949.69,499.38 L949.90,500.36 L950.12,501.33 L950.34,502.31 L950.55,503.29 L950.77,504.27 L950.98,505.24 L951.19,506.22 L951.41,507.20 L951.62,508.18 L951.83,509.16 L952.05,510.13 L952.26,511.11 L952.47,512.09 L952.68,513.07 L952.89,514.05 L953.11,515.03 L953.32,516.00 L953.53,516.98 L953.74,517.96 L953.95,518.94 L954.15,519.92 L954.36,520.90 L954.57,521.87 L954.78,522.85 L954.99,523.83 L955.20,524.81 L955.40,525.79 L955.61,526.77 L955.82,527.75 L956.02,528.73 L956.23,529.71 L956.44,530.69 L956.64,531.67 L956.85,532.64 L957.05,533.62 L957.26,534.60 L957.46,535.58 L957.67,536.56 L957.87,537.54 L958.08,538.52 L958.28,539.50 L958.48,540.48 L958.69,541.46 L958.89,542.44 L959.09,543.42 L959.30,544.40 L959.50,545.38 L959.70,546.36 L959.90,547.34 L960.11,548.32 L960.31,549.30 L960.51,550.28 L960.71,551.26 L960.91,552.24 L961.11,553.22 L961.31,554.20 L961.52,555.18 L961.72,556.16 L961.92,557.14 L962.12,558.12 L962.32,559.10 L962.52,560.08 L962.72,561.06 L962.92,562.04 L963.12,563.02 L963.32,564.00 L963.51,564.98 L963.71,565.96 L963.91,566.94 L964.11,567.92 L964.31,568.90 L964.51,569.88 L964.71,570.86 L964.91,571.84 L965.10,572.82 L965.30,573.80 L965.50,574.78 L965.70,575.76 L965.90,576.74 L966.09,577.73 L966.29,578.71 L966.49,579.69 L966.69,580.67 L966.88,581.65 L967.08,582.63 L967.28,583.61 L967.48,584.59 L967.67,585.57 L967.87,586.55 L968.07,587.53 L968.26,588.51 L968.46,589.49 L968.66,590.47 L968.85,591.45 L969.05,592.43 L969.25,593.41 L969.44,594.39 L969.64,595.38 L969.84,596.36 L970.03,597.34 L970.23,598.32 L970.43,599.30 L970.62,600.28 L970.82,601.26 L971.02,602.24 L971.21,603.22 L971.41,604.20 L971.60,605.18 L971.80,606.16 L972.00,607.14 L972.19,608.12 L972.39,609.10 L972.58,610.08 L972.78,611.07 L972.98,612.05 L973.17,613.03 L973.37,614.01 L973.57,614.99 L973.76,615.97 L973.96,616.95 L974.15,617.93 L974.35,618.91 L974.55,619.89 L974.74,620.87 L974.94,621.85 L975.14,622.83 L975.33,623.81 L975.53,624.79 L975.72,625.77 L975.92,626.75 L976.12,627.73 L976.31,628.71 L976.51,629.69 L976.71,630.67 L976.90,631.65 L977.10,632.63 L977.30,633.61 L977.50,634.60 L977.69,635.58 L977.89,636.56 L978.09,637.54 L978.28,638.52 L978.48,639.50 L978.68,640.48 L978.88,641.46 L979.07,642.44 L979.27,643.42 L979.47,644.40 L979.67,645.38 L979.86,646.36 L980.06,647.34 L980.26,648.32 L980.46,649.30 L980.66,650.28 L980.86,651.26 L981.05,652.24 L981.25,653.21 L981.45,654.19 L981.65,655.17 L981.85,656.15 L982.05,657.13 L982.25,658.11 L982.45,659.09 L982.65,660.07 L982.85,661.05 L983.05,662.03 L983.25,663.01 L983.45,663.99 L983.65,664.97 L983.85,665.95 L984.05,666.93 L984.25,667.91 L984.45,668.89 L984.65,669.86 L984.86,670.84 L985.06,671.82 L985.26,672.80 L985.46,673.78 L985.66,674.76 L985.87,675.74 L986.07,676.72 L986.27,677.70 L986.48,678.67 L986.68,679.65 L986.88,680.63 L987.09,681.61 L987.29,682.59 L987.50,683.57 L987.70,684.54 L987.90,685.52 L988.11,686.50 L988.31,687.48 L988.52,688.46 L988.73,689.43 L988.93,690.41 L989.14,691.39 L989.34,692.37 L989.55,693.35 L989.76,694.32 L989.97,695.30 L990.17,696.28 L990.38,697.26 L990.59,698.23 L990.80,699.21 L991.01,700.19 L991.22,701.16 L991.43,702.14 L991.64,703.12 L991.85,704.10 L992.06,705.07 L992.27,706.05 L992.48,707.03 L992.69,708.00 L992.90,708.98 L993.11,709.95 L993.33,710.93 L993.54,711.91 L993.75,712.88 L993.97,713.86 L994.18,714.83 L994.40,715.81 L994.61,716.79 L994.83,717.76 L995.04,718.74 L995.26,719.71 L995.48,720.69 L995.69,721.66 L995.91,722.64 L996.13,723.61 L996.35,724.59 L996.56,725.56 L996.78,726.54 L997.00,727.51 L997.22,728.49 L997.44,729.46 L997.66,730.44 L997.89,731.41 L998.11,732.38 L998.33,733.36 L998.55,734.33 L998.77,735.31 L999.00,736.28 L999.22,737.25 L999.44,738.23 L999.67,739.20 L999.89,740.18 L1000.12,741.15 L1000.34,742.12 L1000.57,743.10 L1000.79,744.07 L1001.02,745.04 L1001.25,746.02 L1001.47,746.99 L1001.70,747.96 L1001.93,748.94 L1002.15,749.91 L1002.38,750.88 L1002.61,751.86 L1002.84,752.83 L1003.06,753.80 L1003.29,754.78 L1003.52,755.75 L1003.75,756.72 L1003.98,757.70 L1004.21,758.67 L1004.44,759.64 L1004.67,760.62 L1004.89,761.59 L1005.12,762.56 L1005.35,763.53 L1005.58,764.51 L1005.81,765.48 L1006.04,766.45 L1006.27,767.43 L1006.50,768.40 L1006.73,769.37 L1006.96,770.35 L1007.19,771.32 L1007.43,772.29 L1007.66,773.26 L1007.89,774.24 L1008.12,775.21 L1008.35,776.18 L1008.58,777.16 L1008.81,778.13 L1009.04,779.10 L1009.27,780.07 L1009.50,781.05 L1009.73,782.02 L1009.96,782.99 L1010.20,783.96 L1010.43,784.93 L1010.66,785.91 L1010.90,786.88 L1011.13,787.85 L1011.36,788.82 L1011.60,789.79 L1011.84,790.76 L1012.07,791.73 L1012.31,792.70 L1012.55,793.67 L1012.79,794.63 L1013.03,795.60 L1013.27,796.57 L1013.52,797.54 L1013.76,798.50 L1014.01,799.47 L1014.25,800.44 L1014.50,801.40 L1014.75,802.37 L1015.01,803.33 L1015.26,804.29 L1015.52,805.26 L1015.77,806.22 L1016.03,807.18 L1016.30,808.14 L1016.56,809.10 L1016.83,810.06 L1017.10,811.01 L1017.37,811.97 L1017.65,812.92 L1017.93,813.88 L1018.21,814.83 L1018.50,815.78 L1018.79,816.73 L1019.09,817.68 L1019.39,818.62 L1019.69,819.57 L1020.00,820.51 L1020.32,821.44 L1020.64,822.38 L1020.97,823.31 L1021.31,824.24 L1021.65,825.17 L1022.00,826.10 L1022.36,827.03 L1022.72,827.95 L1023.09,828.87 L1023.46,829.80 L1023.84,830.72 L1024.22,831.64 L1024.60,832.56 L1024.99,833.48 L1025.37,834.40 L1025.76,835.32 L1026.14,836.25 L1026.53,837.17 L1026.91,838.10 L1027.29,839.03 L1027.66,839.97 L1028.03,840.90 L1028.40,841.84 L1028.76,842.79 L1029.11,843.73 L1029.46,844.68 L1029.80,845.63 L1030.13,846.57 L1030.47,847.52 L1030.80,848.47 L1031.12,849.42 L1031.45,850.37 L1031.77,851.32 L1032.09,852.27 L1032.41,853.22 L1032.72,854.17 L1033.04,855.12 L1033.35,856.07 L1033.67,857.02 L1033.99,857.97 L1034.30,858.91 L1034.62,859.86 L1034.94,860.81 L1035.26,861.75 L1035.58,862.70 L1035.90,863.64 L1036.23,864.58 L1036.55,865.52 L1036.89,866.45 L1037.22,867.39 L1037.56,868.32 L1037.91,869.25 L1038.26,870.18 L1038.62,871.11 L1038.98,872.03 L1039.34,872.95 L1039.72,873.87 L1040.10,874.79 L1040.48,875.70 L1040.88,876.61 L1041.27,877.52 L1041.68,878.43 L1042.09,879.33 L1042.51,880.23 L1042.93,881.12 L1043.37,882.02 L1043.81,882.91 L1044.25,883.79 L1044.71,884.67 L1045.17,885.55 L1045.64,886.43 L1046.11,887.30 L1046.59,888.17 L1047.09,889.03 L1047.58,889.89 L1048.09,890.74 L1048.60,891.60 L1049.12,892.44 L1049.64,893.29 L1050.17,894.13 L1050.71,894.97 L1051.25,895.80 L1051.80,896.63 L1052.35,897.46 L1052.91,898.29 L1053.47,899.11 L1054.03,899.93 L1054.60,900.75 L1055.18,901.56 L1055.75,902.38 L1056.33,903.19 L1056.92,903.99 L1057.51,904.80 L1058.10,905.60 L1058.70,906.39 L1059.30,907.19 L1059.91,907.98 L1060.52,908.76 L1061.14,909.54 L1061.76,910.32 L1062.39,911.10 L1063.02,911.87 L1063.65,912.64 L1064.29,913.40 L1064.94,914.16 L1065.59,914.92 L1066.24,915.67 L1066.90,916.41 L1067.56,917.15 L1068.23,917.89 L1068.91,918.62 L1069.59,919.35 L1070.28,920.08 L1070.97,920.79 L1071.66,921.51 L1072.36,922.21 L1073.07,922.92 L1073.78,923.61 L1074.50,924.30 L1075.22,924.99 L1075.95,925.67 L1076.69,926.34 L1077.43,927.01 L1078.17,927.67 L1078.92,928.32 L1079.68,928.97 L1080.44,929.62 L1081.21,930.25 L1081.98,930.88 L1082.76,931.50 L1083.54,932.12 L1084.33,932.72 L1085.13,933.32 L1085.93,933.92 L1086.74,934.50 L1087.55,935.08 L1088.37,935.65 L1089.19,936.21 L1090.02,936.77 L1090.85,937.31 L1091.69,937.85 L1092.53,938.38 L1093.38,938.91 L1094.24,939.42 L1095.10,939.93 L1095.96,940.42 L1096.83,940.91 L1097.70,941.39 L1098.58,941.87 L1099.46,942.33 L1100.35,942.78 L1101.24,943.23 L1102.14,943.67 L1103.04,944.10 L1103.95,944.52 L1104.85,944.93 L1105.77,945.33 L1106.68,945.73 L1107.60,946.12 L1108.53,946.49 L1109.45,946.86 L1110.38,947.23 L1111.32,947.58 L1112.25,947.93 L1113.19,948.26 L1114.14,948.59 L1115.08,948.92 L1116.03,949.23 L1116.98,949.54 L1117.93,949.84 L1118.89,950.13 L1119.85,950.41 L1120.80,950.69 L1121.77,950.97 L1122.73,951.23 L1123.69,951.49 L1124.66,951.74 L1125.63,951.99 L1126.60,952.23 L1127.57,952.47 L1128.54,952.70 L1129.51,952.93 L1130.49,953.15 L1131.46,953.37 L1132.44,953.58 L1133.42,953.79 L1134.40,953.99 L1135.38,954.19 L1136.36,954.39 L1137.34,954.59 L1138.32,954.78 L1139.30,954.97 L1140.28,955.15 L1141.26,955.34 L1142.25,955.52 L1143.23,955.70 L1144.21,955.88 L1145.20,956.06 L1146.18,956.24 L1147.17,956.42 L1148.15,956.60 L1149.13,956.77 L1150.12,956.95 L1151.10,957.13 L1152.09,957.31 L1153.07,957.49 L1154.05,957.67 L1155.04,957.85 L1156.02,958.03 L1157.00,958.22 L1157.99,958.40 L1158.97,958.59 L1159.95,958.78 L1160.93,958.97 L1161.91,959.16 L1162.90,959.36 L1163.88,959.55 L1164.86,959.75 L1165.84,959.95 L1166.82,960.16 L1167.79,960.36 L1168.77,960.57 L1169.75,960.78 L1170.73,961.00 L1171.70,961.21 L1172.68,961.44 L1173.65,961.66 L1174.63,961.89 L1175.60,962.12 L1176.58,962.35 L1177.55,962.59 L1178.52,962.83 L1179.49,963.08 L1180.46,963.33 L1181.42,963.58 L1182.39,963.84 L1183.36,964.10 L1184.32,964.37 L1185.28,964.64 L1186.25,964.91 L1187.21,965.19 L1188.17,965.48 L1189.12,965.77 L1190.08,966.06 L1191.04,966.36 L1191.99,966.67 L1192.94,966.98 L1193.89,967.29 L1194.84,967.61 L1195.79,967.94 L1196.73,968.27 L1197.67,968.60 L1198.62,968.94 L1199.55,969.29 L1200.49,969.64 L1201.43,970.00 L1202.36,970.37 L1203.29,970.74 L1204.22,971.11 L1205.14,971.50 L1206.06,971.89 L1206.98,972.28 L1207.90,972.69 L1208.81,973.10 L1209.72,973.52 L1210.63,973.94 L1211.53,974.38 L1212.43,974.82 L1213.33,975.27 L1214.22,975.72 L1215.11,976.19 L1215.99,976.66 L1216.87,977.14 L1217.75,977.63 L1218.62,978.13 L1219.49,978.63 L1220.35,979.15 L1221.20,979.67 L1222.06,980.20 L1222.90,980.73 L1223.74,981.28 L1224.58,981.83 L1225.41,982.40 L1226.24,982.96 L1227.06,983.54 L1227.87,984.13 L1228.68,984.72 L1229.49,985.31 L1230.29,985.92 L1231.09,986.53 L1231.88,987.15 L1232.66,987.77 L1233.45,988.39 L1234.22,989.03 L1235.00,989.67 L1235.77,990.31 L1236.53,990.96 L1237.29,991.61 L1238.05,992.26 L1238.81,992.92 L1239.56,993.59 L1240.30,994.26 L1241.05,994.93 L1241.79,995.61 L1242.52,996.29 L1243.26,996.97 L1243.99,997.66 L1244.71,998.35 L1245.44,999.04 L1246.16,999.74 L1246.87,1000.44 L1247.59,1001.14 L1248.30,1001.84 L1249.01,1002.55 L1249.72,1003.26 L1250.42,1003.98 L1251.12,1004.70 L1251.81,1005.42 L1252.51,1006.14 L1253.19,1006.87 L1253.88,1007.60 L1254.56,1008.34 L1255.24,1009.08 L1255.91,1009.82 L1256.58,1010.57 L1257.25,1011.32 L1257.91,1012.07 L1258.57,1012.83 L1259.22,1013.59 L1259.87,1014.35 L1260.52,1015.12 L1261.16,1015.89 L1261.80,1016.67 L1262.43,1017.44 L1263.06,1018.23 L1263.69,1019.01 L1264.31,1019.80 L1264.92,1020.59 L1265.54,1021.38 L1266.15,1022.18 L1266.75,1022.98 L1267.35,1023.79 L1267.94,1024.60 L1268.54,1025.41 L1269.12,1026.22 L1269.71,1027.04 L1270.28,1027.86 L1270.86,1028.68 L1271.43,1029.51 L1271.99,1030.34 L1272.56,1031.17 L1273.11,1032.00 L1273.67,1032.84 L1274.22,1033.68 L1274.76,1034.52 L1275.31,1035.37 L1275.84,1036.21 L1276.38,1037.06 L1276.91,1037.92 L1277.43,1038.77 L1277.96,1039.63 L1278.47,1040.49 L1278.99,1041.35 L1279.50,1042.21 L1280.01,1043.08 L1280.51,1043.95 L1281.01,1044.82 L1281.51,1045.69 L1282.00,1046.56 L1282.49,1047.44 L1282.97,1048.32 L1283.45,1049.20 L1283.93,1050.08 L1284.41,1050.97 L1284.88,1051.85 L1285.35,1052.74 L1285.81,1053.63 L1286.28,1054.52 L1286.73,1055.41 L1287.19,1056.31 L1287.64,1057.20 L1288.09,1058.09 L1288.54,1058.99 L1288.99,1059.89 L1289.44,1060.78 L1289.88,1061.68 L1290.33,1062.58 L1290.77,1063.47 L1291.21,1064.37 L1291.66,1065.26 L1292.10,1066.16 L1292.55,1067.05 L1292.99,1067.94 L1293.44,1068.84 L1293.89,1069.73 L1294.34,1070.62 L1294.80,1071.50 L1295.25,1072.39 L1295.71,1073.27 L1296.18,1074.15 L1296.65,1075.03 L1297.12,1075.91 L1297.59,1076.78 L1298.08,1077.65 L1298.56,1078.52 L1299.06,1079.38 L1299.56,1080.24 L1300.06,1081.10 L1300.56,1081.96 L1301.08,1082.82 L1301.59,1083.67 L1302.11,1084.52 L1302.63,1085.37 L1303.15,1086.22 L1303.68,1087.07 L1304.20,1087.92 L1304.73,1088.77 L1305.26,1089.62 L1305.79,1090.47 L1306.31,1091.32 L1306.84,1092.17 L1307.37,1093.03 L1307.89,1093.88 L1308.41,1094.74 L1308.93,1095.60 L1309.44,1096.46 L1309.95,1097.33 L1310.45,1098.19 L1310.96,1099.06 L1311.45,1099.93 L1311.95,1100.81 L1312.44,1101.68 L1312.93,1102.56 L1313.42,1103.43 L1313.90,1104.31 L1314.38,1105.18 L1314.87,1106.06 L1315.35,1106.94 L1315.83,1107.82 L1316.31,1108.69 L1316.79,1109.57 L1317.27,1110.44 L1317.75,1111.32 L1318.24,1112.19 L1318.72,1113.07 L1319.21,1113.94 L1319.70,1114.81 L1320.19,1115.68 L1320.68,1116.54 L1321.18,1117.41 L1321.68,1118.27 L1322.18,1119.13 L1322.69,1119.99 L1323.20,1120.85 L1323.71,1121.71 L1324.22,1122.57 L1324.73,1123.43 L1325.23,1124.29 L1325.74,1125.16 L1326.25,1126.02 L1326.75,1126.90 L1327.24,1127.77 L1327.73,1128.65 L1328.22,1129.53 L1328.70,1130.41 L1329.17,1131.30 L1329.64,1132.20 L1330.10,1133.09 L1330.55,1134.00 L1330.99,1134.90 L1331.43,1135.81 L1331.86,1136.72 L1332.28,1137.63 L1332.71,1138.54 L1333.12,1139.45 L1333.54,1140.36 L1333.95,1141.28 L1334.36,1142.19 L1334.78,1143.10 L1335.19,1144.01 L1335.60,1144.92 L1336.01,1145.83 L1336.42,1146.74 L1336.84,1147.65 L1337.26,1148.55 L1337.68,1149.45 L1338.11,1150.35 L1338.54,1151.25 L1338.97,1152.14 L1339.41,1153.03 L1339.86,1153.92 L1340.31,1154.81 L1340.76,1155.69 L1341.22,1156.57 L1341.69,1157.45 L1342.16,1158.33 L1342.63,1159.21 L1343.11,1160.08 L1343.59,1160.96 L1344.07,1161.83 L1344.56,1162.69 L1345.05,1163.56 L1345.55,1164.43 L1346.05,1165.29 L1346.55,1166.16 L1347.05,1167.02 L1347.55,1167.88 L1348.06,1168.74 L1348.56,1169.60 L1349.07,1170.46 L1349.58,1171.32 L1350.09,1172.18 L1350.60,1173.04 L1351.11,1173.90 L1351.62,1174.76 L1352.13,1175.62 L1352.65,1176.47 L1353.16,1177.33 L1353.68,1178.19 L1354.19,1179.04 L1354.71,1179.90 L1355.23,1180.75 L1355.74,1181.61 L1356.26,1182.47 L1356.78,1183.32 L1357.30,1184.18 L1357.81,1185.03 L1358.33,1185.89 L1358.85,1186.75 L1359.36,1187.60 L1359.88,1188.46 L1360.40,1189.31 L1360.91,1190.17 L1361.43,1191.03 L1361.94,1191.89 L1362.46,1192.75 L1362.97,1193.60 L1363.48,1194.46 L1364.00,1195.32 L1364.51,1196.19 L1365.02,1197.05 L1365.53,1197.91 L1366.03,1198.77 L1366.54,1199.63 L1367.05,1200.50 L1367.55,1201.36 L1368.05,1202.23 L1368.55,1203.10 L1369.05,1203.97 L1369.55,1204.83 L1370.05,1205.70 L1370.54,1206.57 L1371.04,1207.45 L1371.53,1208.32 L1372.02,1209.19 L1372.51,1210.07 L1372.99,1210.94 L1373.48,1211.82 L1373.96,1212.70 L1374.44,1213.58 L1374.92,1214.45 L1375.40,1215.33 L1375.88,1216.21 L1376.36,1217.09 L1376.83,1217.97 L1377.31,1218.86 L1377.78,1219.74 L1378.26,1220.62 L1378.73,1221.50 L1379.20,1222.38 L1379.67,1223.26 L1380.14,1224.15 L1380.62,1225.03 L1381.09,1225.91 L1381.56,1226.79 L1382.03,1227.67 L1382.50,1228.55 L1382.98,1229.43 L1383.45,1230.31 L1383.92,1231.19 L1384.40,1232.07 L1384.87,1232.95 L1385.35,1233.83 L1385.82,1234.71 L1386.30,1235.59 L1386.78,1236.46 L1387.26,1237.34 L1387.74,1238.21 L1388.22,1239.09 L1388.71,1239.96 L1389.19,1240.83 L1389.68,1241.70 L1390.17,1242.57 L1390.66,1243.44 L1391.16,1244.31 L1391.65,1245.17 L1392.15,1246.04 L1392.65,1246.90 L1393.16,1247.76 L1393.66,1248.62 L1394.17,1249.48 L1394.67,1250.34 L1395.18,1251.20 L1395.70,1252.06 L1396.21,1252.91 L1396.73,1253.77 L1397.25,1254.62 L1397.77,1255.47 L1398.29,1256.32 L1398.82,1257.17 L1399.34,1258.02 L1399.87,1258.86 L1400.40,1259.71 L1400.94,1260.55 L1401.47,1261.39 L1402.01,1262.24 L1402.55,1263.07 L1403.09,1263.91 L1403.63,1264.75 L1404.18,1265.59 L1404.73,1266.42 L1405.28,1267.25 L1405.83,1268.08 L1406.39,1268.91 L1406.94,1269.74 L1407.50,1270.57 L1408.06,1271.39 L1408.62,1272.22 L1409.19,1273.04 L1409.76,1273.86 L1410.33,1274.68 L1410.90,1275.50 L1411.47,1276.32 L1412.05,1277.13 L1412.63,1277.95 L1413.21,1278.76 L1413.79,1279.57 L1414.37,1280.38 L1414.96,1281.19 L1415.55,1281.99 L1416.14,1282.79 L1416.73,1283.60 L1417.33,1284.40 L1417.93,1285.20 L1418.53,1285.99 L1419.13,1286.79 L1419.74,1287.58 L1420.35,1288.37 L1420.96,1289.16 L1421.57,1289.95 L1422.19,1290.74 L1422.80,1291.52 L1423.42,1292.30 L1424.05,1293.08 L1424.67,1293.86 L1425.30,1294.64 L1425.93,1295.41 L1426.56,1296.18 L1427.20,1296.95 L1427.83,1297.72 L1428.47,1298.49 L1429.12,1299.25 L1429.76,1300.01 L1430.41,1300.77 L1431.06,1301.53 L1431.71,1302.28 L1432.37,1303.03 L1433.03,1303.78 L1433.69,1304.53 L1434.35,1305.28 L1435.02,1306.02 L1435.69,1306.76 L1436.36,1307.50 L1437.03,1308.23 L1437.71,1308.97 L1438.39,1309.70 L1439.07,1310.43 L1439.76,1311.15 L1440.44,1311.88 L1441.13,1312.60 L1441.83,1313.31 L1442.52,1314.03 L1443.22,1314.74 L1443.93,1315.45 L1444.63,1316.16 L1445.34,1316.86 L1446.05,1317.56 L1446.76,1318.26 L1447.48,1318.96 L1448.20,1319.65 L1448.92,1320.34 L1449.64,1321.02 L1450.37,1321.71 L1451.10,1322.39 L1451.83,1323.07 L1452.57,1323.74 L1453.31,1324.41 L1454.05,1325.08 L1454.79,1325.74 L1455.54,1326.40 L1456.29,1327.06 L1457.04,1327.72 L1457.80,1328.37 L1458.56,1329.02 L1459.32,1329.66 L1460.09,1330.30 L1460.85,1330.94 L1461.62,1331.58 L1462.40,1332.21 L1463.17,1332.84 L1463.95,1333.46 L1464.73,1334.08 L1465.52,1334.70 L1466.31,1335.31 L1467.10,1335.92 L1467.89,1336.53 L1468.69,1337.13 L1469.48,1337.73 L1470.29,1338.32 L1471.09,1338.91 L1471.90,1339.50 L1472.71,1340.08 L1473.52,1340.66 L1474.34,1341.24 L1475.16,1341.81 L1475.98,1342.38 L1476.80,1342.94 L1477.63,1343.50 L1478.46,1344.06 L1479.29,1344.61 L1480.12,1345.16 L1480.96,1345.70 L1481.80,1346.24 L1482.64,1346.78 L1483.49,1347.31 L1484.34,1347.83 L1485.19,1348.36 L1486.04,1348.88 L1486.89,1349.39 L1487.75,1349.90 L1488.61,1350.41 L1489.47,1350.91 L1490.34,1351.41 L1491.21,1351.91 L1492.08,1352.40 L1492.95,1352.88 L1493.82,1353.37 L1494.70,1353.84 L1495.58,1354.32 L1496.46,1354.79 L1497.35,1355.25 L1498.23,1355.72 L1499.12,1356.17 L1500.01,1356.63 L1500.90,1357.08 L1501.80,1357.52 L1502.69,1357.96 L1503.59,1358.40 L1504.49,1358.83 L1505.39,1359.26 L1506.30,1359.68 L1507.20,1360.10 L1508.11,1360.52 L1509.02,1360.93 L1509.93,1361.34 L1510.85,1361.75 L1511.76,1362.15 L1512.68,1362.54 L1513.60,1362.94 L1514.52,1363.32 L1515.44,1363.71 L1516.36,1364.09 L1517.29,1364.47 L1518.22,1364.84 L1519.14,1365.21 L1520.07,1365.57 L1521.01,1365.93 L1521.94,1366.29 L1522.87,1366.64 L1523.81,1366.99 L1524.75,1367.34 L1525.69,1367.68 L1526.63,1368.01 L1527.57,1368.35 L1528.51,1368.68 L1529.46,1369.00 L1530.41,1369.32 L1531.35,1369.64 L1532.30,1369.96 L1533.25,1370.27 L1534.20,1370.57 L1535.15,1370.88 L1536.11,1371.18 L1537.06,1371.47 L1538.02,1371.76 L1538.97,1372.05 L1539.93,1372.34 L1540.89,1372.62 L1541.85,1372.90 L1542.81,1373.17 L1543.77,1373.44 L1544.74,1373.71 L1545.70,1373.98 L1546.67,1374.24 L1547.63,1374.50 L1548.60,1374.75 L1549.57,1375.00 L1550.53,1375.25 L1551.50,1375.49 L1552.47,1375.74 L1553.44,1375.97 L1554.42,1376.21 L1555.39,1376.44 L1556.36,1376.67 L1557.33,1376.90 L1558.31,1377.12 L1559.28,1377.34 L1560.26,1377.56 L1561.24,1377.78 L1562.21,1377.99 L1563.19,1378.20 L1564.17,1378.41 L1565.15,1378.61 L1566.13,1378.81 L1567.11,1379.01 L1568.09,1379.21 L1569.07,1379.40 L1570.05,1379.59 L1571.03,1379.78 L1572.01,1379.97 L1572.99,1380.16 L1573.98,1380.34 L1574.96,1380.52 L1575.94,1380.70 L1576.93,1380.87 L1577.91,1381.05 L1578.90,1381.22 L1579.88,1381.39 L1580.87,1381.56 L1581.85,1381.73 L1582.84,1381.89 L1583.83,1382.05 L1584.81,1382.21 L1585.80,1382.37 L1586.79,1382.53 L1587.78,1382.69 L1588.76,1382.84 L1589.75,1382.99 L1590.74,1383.14 L1591.73,1383.29 L1592.72,1383.44 L1593.71,1383.58 L1594.70,1383.73 L1595.69,1383.87 L1596.68,1384.01 L1597.67,1384.14 L1598.66,1384.28 L1599.65,1384.42 L1600.64,1384.55 L1601.63,1384.68 L1602.62,1384.81 L1603.61,1384.94 L1604.61,1385.07 L1605.60,1385.19 L1606.59,1385.32 L1607.58,1385.44 L1608.57,1385.56 L1609.57,1385.68 L1610.56,1385.80 L1611.55,1385.91 L1612.55,1386.03 L1613.54,1386.14 L1614.53,1386.25 L1615.53,1386.36 L1616.52,1386.47 L1617.52,1386.58 L1618.51,1386.69 L1619.50,1386.79 L1620.50,1386.90 L1621.49,1387.00 L1622.49,1387.10 L1623.48,1387.20 L1624.48,1387.30 L1625.47,1387.40 L1626.47,1387.49 L1627.46,1387.59 L1628.46,1387.68 L1629.46,1387.78 L1630.45,1387.87 L1631.45,1387.96 L1632.44,1388.05 L1633.44,1388.13 L1634.44,1388.22 L1635.43,1388.31 L1636.43,1388.39 L1637.42,1388.48 L1638.42,1388.56 L1639.42,1388.64 L1640.41,1388.72 L1641.41,1388.80 L1642.41,1388.88 L1643.40,1388.96 L1644.40,1389.03 L1645.40,1389.11 L1646.40,1389.18 L1647.39,1389.26 L1648.39,1389.33 L1649.39,1389.40 L1650.39,1389.47 L1651.38,1389.54 L1652.38,1389.61 L1653.38,1389.68 L1654.38,1389.75 L1655.37,1389.82 L1656.37,1389.88 L1657.37,1389.95 L1658.37,1390.01 L1659.36,1390.08 L1660.36,1390.14 L1661.36,1390.20 L1662.36,1390.27 L1663.36,1390.33 L1664.35,1390.39 L1665.35,1390.45 L1666.35,1390.51 L1667.35,1390.57 L1668.35,1390.62 L1669.35,1390.68 L1670.34,1390.74 L1671.34,1390.79 L1672.34,1390.85 L1673.34,1390.90 L1674.34,1390.96 L1675.34,1391.01 L1676.34,1391.07 L1677.33,1391.12 L1678.33,1391.17 L1679.33,1391.22 L1680.33,1391.27 L1681.33,1391.32 L1682.33,1391.37 L1683.33,1391.42 L1684.33,1391.47 L1685.32,1391.51 L1686.32,1391.56 L1687.32,1391.61 L1688.32,1391.65 L1689.32,1391.70 L1690.32,1391.74 L1691.32,1391.78 L1692.32,1391.83 L1693.32,1391.87 L1694.32,1391.91 L1695.31,1391.95 L1696.31,1392.00 L1697.31,1392.04 L1698.31,1392.08 L1699.31,1392.11 L1700.31,1392.15 L1701.31,1392.19 L1702.31,1392.23 L1703.31,1392.27 L1704.31,1392.30 L1705.31,1392.34 L1706.31,1392.37 L1707.31,1392.41 L1708.30,1392.44 L1709.30,1392.48 L1710.30,1392.51 L1711.30,1392.54 L1712.30,1392.58 L1713.30,1392.61 L1714.30,1392.64 L1715.30,1392.67 L1716.30,1392.70 L1717.30,1392.73 L1718.30,1392.76 L1719.30,1392.79 L1720.30,1392.82 L1721.30,1392.85 L1722.30,1392.87 L1723.30,1392.90 L1724.30,1392.93 L1725.30,1392.95 L1726.30,1392.98 L1727.30,1393.01 L1728.30,1393.03 L1729.30,1393.06 L1730.30,1393.08 L1731.30,1393.10 L1732.29,1393.13 L1733.29,1393.15 L1734.29,1393.17 L1735.29,1393.19 L1736.29,1393.21 L1737.29,1393.24 L1738.29,1393.26 L1739.29,1393.28 L1740.29,1393.30 L1741.29,1393.32 L1742.29,1393.34 L1743.29,1393.35 L1744.29,1393.37 L1745.29,1393.39 L1746.29,1393.41 L1747.29,1393.43 L1748.29,1393.44 L1749.29,1393.46 L1750.29,1393.48 L1751.29,1393.49 L1752.29,1393.51 L1753.29,1393.52 L1754.29,1393.54 L1755.29,1393.55 L1756.29,1393.57 L1757.29,1393.58 L1758.29,1393.59 L1759.29,1393.61 L1760.29,1393.62 L1761.29,1393.63 L1762.29,1393.64 L1763.29,1393.65 L1764.29,1393.67 L1765.29,1393.68 L1766.29,1393.69 L1767.29,1393.70 L1768.29,1393.71 L1769.29,1393.72 L1770.29,1393.73 L1771.29,1393.74 L1772.29,1393.75 L1773.29,1393.76 L1774.29,1393.77 L1775.29,1393.77 L1776.29,1393.78 L1777.29,1393.79 L1778.29,1393.80 L1779.29,1393.81 L1780.29,1393.81 L1781.29,1393.82 L1782.29,1393.83 L1783.29,1393.83 L1784.29,1393.84 L1785.29,1393.84 L1786.29,1393.85 L1787.29,1393.86 L1788.29,1393.86 L1789.29,1393.87 L1790.29,1393.87 L1791.29,1393.88 L1792.29,1393.88 L1793.29,1393.89 L1794.29,1393.89 L1795.29,1393.89 L1796.29,1393.90 L1797.29,1393.90 L1798.29,1393.90 L1799.29,1393.91 L1800.29,1393.91 L1801.29,1393.91 L1802.29,1393.92 L1803.29,1393.92 L1804.29,1393.92 L1805.29,1393.92 L1806.29,1393.93 L1807.29,1393.93 L1808.29,1393.93 L1809.29,1393.93 L1810.29,1393.93 L1811.29,1393.93 L1812.29,1393.94 L1813.29,1393.94 L1814.29,1393.94 L1815.29,1393.94 L1816.29,1393.94 L1817.29,1393.94 L1818.29,1393.94 L1819.29,1393.94 L1820.29,1393.94 L1821.29,1393.94 L1822.29,1393.94 L1823.29,1393.94 L1824.29,1393.94 L1825.29,1393.94 L1826.29,1393.94 L1827.29,1393.94 L1828.29,1393.94 L1829.29,1393.94 L1830.29,1393.94 L1831.29,1393.94 L1832.29,1393.94 L1833.29,1393.94 L1834.29,1393.94 L1835.29,1393.94 L1836.29,1393.94 L1837.29,1393.94 L1838.29,1393.94 L1839.29,1393.94 L1840.29,1393.94 L1841.29,1393.94 L1842.29,1393.94 L1843.29,1393.94 L1844.29,1393.93 L1845.29,1393.93 L1846.29,1393.93 L1847.29,1393.93 L1848.29,1393.93 L1849.29,1393.93 L1850.29,1393.93 L1851.29,1393.93 L1852.29,1393.93 L1853.29,1393.93 L1854.29,1393.93 L1855.29,1393.93 L1856.29,1393.93 L1857.29,1393.93 L1858.29,1393.93 L1859.29,1393.93 L1860.29,1393.93 L1861.29,1393.93 L1862.29,1393.93 L1863.29,1393.93 L1864.29,1393.92 L1865.29,1393.92 L1866.29,1393.92 L1867.29,1393.92 L1868.29,1393.92 L1869.29,1393.92 L1870.29,1393.92 L1871.29,1393.92 L1872.29,1393.92 L1873.29,1393.92 L1874.29,1393.92 L1875.29,1393.92 L1876.29,1393.92 L1877.29,1393.92 L1878.29,1393.92 L1879.29,1393.92 L1880.29,1393.92 L1881.29,1393.92 L1882.29,1393.92 L1883.29,1393.92 L1884.29,1393.92 L1885.29,1393.92 L1886.29,1393.92 L1887.29,1393.92 L1888.29,1393.92 L1889.29,1393.92 L1890.29,1393.92 L1891.29,1393.92 L1892.29,1393.92 L1893.29,1393.92 L1894.29,1393.92 L1895.29,1393.92 L1896.29,1393.93 L1897.29,1393.93 L1898.29,1393.93 L1899.29,1393.93 L1900.29,1393.93 L1901.29,1393.93 L1902.29,1393.93 L1903.29,1393.93 L1904.29,1393.93 L1905.29,1393.93 L1906.29,1393.93 L1907.29,1393.93 L1908.29,1393.93 L1909.29,1393.93 L1910.29,1393.93 L1911.29,1393.93 L1912.29,1393.93 L1913.29,1393.93 L1914.29,1393.93 L1915.29,1393.93 L1916.29,1393.93 L1917.29,1393.93 L1918.29,1393.93 L1919.29,1393.93 L1920.29,1393.94 L1921.29,1393.94 L1922.29,1393.94 L1923.29,1393.94 L1924.29,1393.94 L1925.29,1393.94 L1926.29,1393.94 L1927.29,1393.94 L1928.29,1393.94 L1929.29,1393.94 L1930.29,1393.94 L1931.29,1393.94 L1932.29,1393.94 L1933.29,1393.94 L1934.29,1393.94 L1935.29,1393.94 L1936.29,1393.95 L1937.29,1393.95 L1938.29,1393.95 L1939.29,1393.95 L1940.29,1393.95 L1941.29,1393.95 L1942.29,1393.95 L1943.29,1393.95 L1944.29,1393.95 L1945.29,1393.95 L1946.29,1393.95 L1947.29,1393.95 L1948.29,1393.95 L1949.29,1393.96 L1950.29,1393.96 L1951.29,1393.96 L1952.29,1393.96 L1953.29,1393.96 L1954.29,1393.96 L1955.29,1393.96 L1956.29,1393.96 L1957.29,1393.96 L1958.29,1393.96 L1959.29,1393.96 L1960.29,1393.96 L1961.29,1393.97 L1962.29,1393.97 L1963.29,1393.97 L1964.29,1393.97 L1965.29,1393.97 L1966.29,1393.97 L1967.29,1393.97 L1968.29,1393.97 L1969.29,1393.97 L1970.29,1393.97 L1971.29,1393.97 L1972.29,1393.98 L1973.29,1393.98 L1974.29,1393.98 L1975.29,1393.98 L1976.29,1393.98 L1977.29,1393.98 L1978.29,1393.98 L1979.29,1393.98 L1980.29,1393.98 L1981.29,1393.98 L1982.29,1393.98 L1983.29,1393.98 L1984.29,1393.99 L1985.29,1393.99 L1986.29,1393.99 L1987.29,1393.99 L1988.29,1393.99 L1989.29,1393.99 L1990.29,1393.99 L1991.29,1393.99 L1992.29,1393.99 L1993.29,1393.99 L1994.29,1393.99 L1995.29,1394.00 L1996.29,1394.00 L1997.29,1394.00 L1998.29,1394.00 L1999.29,1394.00 L2000.29,1394.00 L2001.29,1394.00 L2002.29,1394.00 L2003.29,1394.00 L2004.29,1394.00 L2005.29,1394.00 L2006.29,1394.00 L2007.29,1394.01 L2008.29,1394.01 L2009.29,1394.01 L2010.29,1394.01 L2011.29,1394.01 L2012.29,1394.01 L2013.29,1394.01 L2014.29,1394.01 L2015.29,1394.01 L2016.29,1394.01 L2017.29,1394.01 L2018.29,1394.01 L2019.29,1394.02 L2020.29,1394.02 L2021.29,1394.02 L2022.29,1394.02 L2023.29,1394.02 L2024.29,1394.02 L2025.29,1394.02 L2026.29,1394.02 L2027.29,1394.02 L2028.29,1394.02 L2029.29,1394.02 L2030.29,1394.02 L2031.29,1394.02 L2032.29,1394.02 L2033.29,1394.03 L2034.29,1394.03 L2035.29,1394.03 L2036.29,1394.03 L2037.29,1394.03 L2038.29,1394.03 L2039.29,1394.03 L2040.29,1394.03 L2041.29,1394.03 L2042.29,1394.03 L2043.29,1394.03 L2044.29,1394.03 L2045.29,1394.03 L2046.29,1394.03 L2047.29,1394.03 L2048.29,1394.03 L2049.29,1394.03 L2050.29,1394.03 L2051.29,1394.04 L2052.29,1394.04 L2053.29,1394.04 L2054.29,1394.04 L2055.29,1394.04 L2056.29,1394.04 L2057.29,1394.04 L2058.29,1394.04 L2059.29,1394.04 L2060.29,1394.04 L2061.29,1394.04 L2062.29,1394.04 L2063.29,1394.04 L2064.29,1394.04 L2065.29,1394.04 L2066.29,1394.04 L2067.29,1394.04 L2068.29,1394.04 L2069.29,1394.04 L2070.29,1394.04 L2071.29,1394.04 L2072.29,1394.04 L2073.29,1394.04 L2074.29,1394.04 L2075.29,1394.04 L2076.29,1394.04 L2077.29,1394.04 L2078.29,1394.04 L2079.29,1394.04 L2080.29,1394.04 L2081.29,1394.04 L2082.29,1394.04 L2083.29,1394.04 L2084.29,1394.04 L2085.29,1394.04 L2086.29,1394.04 L2087.29,1394.04 L2088.29,1394.04 L2089.29,1394.04 L2090.29,1394.04 L2091.29,1394.04 L2092.29,1394.04 L2093.29,1394.04 L2094.29,1394.04 L2095.29,1394.04 L2096.29,1394.04 L2097.29,1394.04 L2098.29,1394.04 L2099.29,1394.04 L2100.29,1394.04 L2101.29,1394.04 L2102.29,1394.04 L2103.29,1394.04 L2104.29,1394.04 L2105.29,1394.04 L2106.29,1394.04 L2107.29,1394.04 L2108.29,1394.04 L2109.29,1394.04 L2110.29,1394.04 L2111.29,1394.04 L2112.29,1394.04 L2113.29,1394.04 L2114.29,1394.03 L2115.29,1394.03 L2116.29,1394.03 L2117.29,1394.03 L2118.29,1394.03 L2119.29,1394.03 L2120.29,1394.03 L2121.29,1394.03 L2122.29,1394.03 L2123.29,1394.03 L2124.29,1394.03 L2125.29,1394.03 L2126.29,1394.03 L2127.29,1394.02 L2128.29,1394.02 L2129.29,1394.02 L2130.29,1394.02 L2131.29,1394.02 L2132.29,1394.02 L2133.29,1394.02 L2134.29,1394.02 L2135.29,1394.02 L2136.29,1394.02 L2137.29,1394.01 L2138.29,1394.01 L2139.29,1394.01 L2140.29,1394.01 L2141.29,1394.01 L2142.29,1394.01 L2143.29,1394.01 L2144.29,1394.01 L2145.29,1394.00 L2146.29,1394.00 L2147.29,1394.00 L2148.29,1394.00 L2149.29,1394.00 L2150.29,1394.00 L2151.29,1393.99 L2152.29,1393.99 L2153.29,1393.99 L2154.29,1393.99 L2155.29,1393.99 L2156.29,1393.99 L2157.29,1393.98 L2158.29,1393.98 L2159.29,1393.98 L2160.29,1393.98 L2161.29,1393.98 L2162.29,1393.98 L2163.29,1393.97 L2164.29,1393.97 L2165.29,1393.97 L2166.29,1393.97 L2167.29,1393.97 L2168.29,1393.96 L2169.29,1393.96 L2170.00,1393.96"/></defs>
<use href="#c3" stroke="#006400" stroke-opacity="0.12" stroke-width="12.399999999999999"/>
<use href="#c3" stroke="#006400" stroke-width="8.2"/>
<defs><path id="c2" d="M276.00,361.19 L276.29,362.14 L276.58,363.10 L276.87,364.05 L277.16,365.01 L277.45,365.97 L277.74,366.92 L278.03,367.88 L278.33,368.83 L278.62,369.79 L278.92,370.74 L279.21,371.70 L279.50,372.65 L279.80,373.61 L280.09,374.56 L280.39,375.52 L280.68,376.48 L280.98,377.43 L281.27,378.39 L281.57,379.34 L281.86,380.30 L282.15,381.26 L282.44,382.22 L282.74,383.17 L283.03,384.13 L283.32,385.09 L283.60,386.05 L283.89,387.01 L284.18,387.97 L284.46,388.93 L284.75,389.89 L285.03,390.85 L285.31,391.82 L285.59,392.78 L285.87,393.74 L286.15,394.70 L286.43,395.67 L286.70,396.63 L286.97,397.60 L287.25,398.56 L287.52,399.53 L287.78,400.50 L288.05,401.46 L288.31,402.43 L288.58,403.40 L288.84,404.37 L289.10,405.34 L289.35,406.31 L289.61,407.28 L289.86,408.25 L290.12,409.22 L290.37,410.19 L290.61,411.17 L290.86,412.14 L291.10,413.11 L291.35,414.09 L291.59,415.06 L291.83,416.04 L292.06,417.01 L292.30,417.99 L292.53,418.96 L292.76,419.94 L293.00,420.92 L293.22,421.89 L293.45,422.87 L293.68,423.85 L293.90,424.82 L294.13,425.80 L294.35,426.78 L294.57,427.76 L294.79,428.74 L295.01,429.71 L295.23,430.69 L295.44,431.67 L295.66,432.65 L295.87,433.63 L296.08,434.61 L296.30,435.59 L296.51,436.57 L296.72,437.55 L296.93,438.53 L297.14,439.51 L297.35,440.49 L297.55,441.47 L297.76,442.45 L297.97,443.43 L298.17,444.41 L298.37,445.39 L298.58,446.37 L298.78,447.35 L298.98,448.33 L299.19,449.31 L299.39,450.30 L299.59,451.28 L299.79,452.26 L299.99,453.24 L300.18,454.22 L300.38,455.20 L300.58,456.18 L300.78,457.16 L300.98,458.15 L301.17,459.13 L301.37,460.11 L301.56,461.09 L301.76,462.07 L301.95,463.06 L302.15,464.04 L302.34,465.02 L302.53,466.00 L302.73,466.98 L302.92,467.97 L303.11,468.95 L303.31,469.93 L303.50,470.91 L303.69,471.89 L303.88,472.88 L304.07,473.86 L304.26,474.84 L304.45,475.82 L304.64,476.80 L304.84,477.79 L305.03,478.77 L305.22,479.75 L305.40,480.73 L305.59,481.72 L305.78,482.70 L305.97,483.68 L306.16,484.66 L306.35,485.64 L306.54,486.63 L306.73,487.61 L306.92,488.59 L307.11,489.57 L307.30,490.56 L307.48,491.54 L307.67,492.52 L307.86,493.50 L308.05,494.48 L308.24,495.47 L308.43,496.45 L308.62,497.43 L308.81,498.41 L308.99,499.39 L309.18,500.38 L309.37,501.36 L309.56,502.34 L309.75,503.32 L309.94,504.30 L310.13,505.28 L310.32,506.26 L310.51,507.25 L310.70,508.23 L310.89,509.21 L311.08,510.19 L311.27,511.17 L311.46,512.15 L311.65,513.13 L311.84,514.11 L312.04,515.09 L312.23,516.07 L312.42,517.05 L312.61,518.03 L312.81,519.01 L313.00,519.99 L313.19,520.97 L313.39,521.95 L313.58,522.93 L313.78,523.91 L313.97,524.89 L314.17,525.87 L314.37,526.85 L314.57,527.83 L314.76,528.81 L314.96,529.79 L315.16,530.77 L315.36,531.74 L315.56,532.72 L315.76,533.70 L315.96,534.68 L316.17,535.66 L316.37,536.63 L316.57,537.61 L316.78,538.59 L316.98,539.56 L317.19,540.54 L317.40,541.52 L317.60,542.49 L317.81,543.47 L318.02,544.44 L318.23,545.42 L318.45,546.39 L318.66,547.37 L318.87,548.34 L319.09,549.31 L319.30,550.29 L319.52,551.26 L319.74,552.23 L319.96,553.21 L320.18,554.18 L320.41,555.15 L320.63,556.12 L320.86,557.09 L321.08,558.06 L321.31,559.03 L321.54,560.00 L321.78,560.97 L322.01,561.94 L322.25,562.90 L322.49,563.87 L322.73,564.84 L322.97,565.80 L323.22,566.76 L323.46,567.73 L323.71,568.69 L323.97,569.65 L324.22,570.61 L324.48,571.58 L324.74,572.53 L325.01,573.49 L325.27,574.45 L325.54,575.41 L325.82,576.36 L326.09,577.32 L326.37,578.27 L326.66,579.22 L326.94,580.17 L327.23,581.12 L327.53,582.07 L327.83,583.02 L328.13,583.97 L328.44,584.91 L328.75,585.85 L329.07,586.79 L329.39,587.73 L329.71,588.67 L330.04,589.61 L330.38,590.54 L330.72,591.47 L331.07,592.40 L331.42,593.33 L331.78,594.25 L332.15,595.17 L332.52,596.09 L332.90,597.00 L333.29,597.91 L333.68,598.82 L334.08,599.73 L334.49,600.63 L334.91,601.52 L335.34,602.41 L335.78,603.30 L336.23,604.18 L336.69,605.05 L337.16,605.92 L337.64,606.78 L338.14,607.64 L338.65,608.48 L339.17,609.32 L339.71,610.14 L340.27,610.95 L340.84,611.76 L341.43,612.54 L342.04,613.32 L342.67,614.07 L343.32,614.81 L343.99,615.52 L344.69,616.21 L345.42,616.87 L346.17,617.51 L346.95,618.11 L347.75,618.67 L348.59,619.18 L349.45,619.66 L350.34,620.08 L351.26,620.44 L352.20,620.74 L353.16,620.99 L354.14,621.16 L355.13,621.28 L356.13,621.33 L357.13,621.32 L358.13,621.25 L359.12,621.13 L360.11,620.96 L361.09,620.75 L362.07,620.50 L363.03,620.21 L363.98,619.90 L364.93,619.56 L365.87,619.20 L366.80,618.83 L367.72,618.43 L368.64,618.03 L369.55,617.61 L370.46,617.19 L371.36,616.77 L372.27,616.34 L373.17,615.91 L374.08,615.48 L374.98,615.06 L375.89,614.65 L376.80,614.25 L377.72,613.85 L378.64,613.47 L379.57,613.10 L380.50,612.75 L381.44,612.41 L382.38,612.08 L383.33,611.77 L384.28,611.48 L385.24,611.20 L386.20,610.95 L387.17,610.71 L388.15,610.50 L389.12,610.31 L390.11,610.14 L391.10,610.00 L392.09,609.89 L393.08,609.80 L394.08,609.74 L395.08,609.71 L396.08,609.71 L397.08,609.75 L398.08,609.81 L399.07,609.91 L400.07,610.04 L401.06,610.21 L402.04,610.41 L403.02,610.64 L403.99,610.91 L404.94,611.21 L405.89,611.54 L406.83,611.91 L407.76,612.30 L408.67,612.72 L409.57,613.18 L410.46,613.66 L411.33,614.16 L412.19,614.69 L413.03,615.24 L413.86,615.82 L414.68,616.42 L415.48,617.03 L416.26,617.66 L417.04,618.31 L417.80,618.97 L418.55,619.64 L419.29,620.33 L420.01,621.02 L420.73,621.72 L421.44,622.44 L422.14,623.16 L422.84,623.89 L423.52,624.62 L424.20,625.36 L424.88,626.11 L425.54,626.86 L426.20,627.62 L426.86,628.38 L427.50,629.15 L428.15,629.91 L428.79,630.69 L429.42,631.46 L430.05,632.24 L430.68,633.03 L431.31,633.81 L431.93,634.60 L432.54,635.39 L433.16,636.18 L433.77,636.97 L434.38,637.77 L434.99,638.56 L435.60,639.36 L436.20,640.16 L436.80,640.96 L437.40,641.76 L438.00,642.56 L438.60,643.36 L439.20,644.16 L439.80,644.97 L440.39,645.77 L440.99,646.57 L441.59,647.37 L442.18,648.18 L442.78,648.99 L443.37,649.79 L443.96,650.60 L444.55,651.41 L445.14,652.22 L445.72,653.03 L446.31,653.85 L446.89,654.67 L447.47,655.49 L448.04,656.31 L448.61,657.13 L449.18,657.96 L449.75,658.79 L450.31,659.62 L450.86,660.45 L451.42,661.29 L451.97,662.13 L452.51,662.97 L453.06,663.82 L453.59,664.67 L454.13,665.52 L454.65,666.37 L455.18,667.23 L455.70,668.09 L456.21,668.95 L456.72,669.81 L457.23,670.68 L457.73,671.55 L458.23,672.43 L458.72,673.30 L459.21,674.18 L459.69,675.06 L460.17,675.94 L460.65,676.82 L461.12,677.70 L461.60,678.59 L462.06,679.48 L462.53,680.36 L463.00,681.25 L463.46,682.14 L463.92,683.03 L464.38,683.92 L464.84,684.81 L465.29,685.70 L465.75,686.59 L466.20,687.49 L466.65,688.38 L467.11,689.27 L467.56,690.16 L468.01,691.06 L468.46,691.95 L468.91,692.84 L469.36,693.73 L469.82,694.62 L470.27,695.52 L470.72,696.41 L471.17,697.30 L471.63,698.19 L472.08,699.08 L472.54,699.97 L472.99,700.85 L473.45,701.74 L473.91,702.63 L474.37,703.51 L474.83,704.40 L475.30,705.28 L475.77,706.16 L476.24,707.04 L476.71,707.92 L477.18,708.80 L477.66,709.67 L478.14,710.55 L478.62,711.42 L479.11,712.29 L479.59,713.16 L480.08,714.03 L480.58,714.90 L481.07,715.76 L481.57,716.63 L482.07,717.49 L482.57,718.35 L483.08,719.21 L483.59,720.06 L484.11,720.92 L484.62,721.77 L485.14,722.62 L485.67,723.47 L486.20,724.31 L486.73,725.16 L487.26,726.00 L487.80,726.83 L488.34,727.67 L488.89,728.50 L489.44,729.33 L490.00,730.16 L490.56,730.98 L491.12,731.80 L491.69,732.62 L492.26,733.44 L492.84,734.25 L493.42,735.05 L494.01,735.86 L494.61,736.66 L495.21,737.45 L495.81,738.24 L496.42,739.03 L497.04,739.81 L497.66,740.58 L498.29,741.35 L498.93,742.12 L499.57,742.88 L500.22,743.63 L500.88,744.37 L501.54,745.11 L502.21,745.85 L502.89,746.57 L503.58,747.29 L504.28,747.99 L504.99,748.69 L505.70,749.38 L506.43,750.06 L507.16,750.73 L507.91,751.38 L508.67,752.02 L509.44,752.64 L510.23,753.24 L511.03,753.82 L511.85,754.37 L512.69,754.90 L513.55,755.39 L514.42,755.85 L515.32,756.26 L516.24,756.63 L517.18,756.94 L518.14,757.19 L519.11,757.37 L520.10,757.47 L521.10,757.49 L522.10,757.43 L523.09,757.28 L524.08,757.05 L525.04,756.76 L525.99,756.40 L526.91,755.98 L527.81,755.52 L528.69,755.02 L529.55,754.48 L530.38,753.91 L531.20,753.31 L532.00,752.69 L532.78,752.06 L533.55,751.40 L534.30,750.72 L535.04,750.04 L535.76,749.34 L536.48,748.63 L537.18,747.91 L537.88,747.18 L538.56,746.45 L539.24,745.70 L539.91,744.95 L540.57,744.18 L541.22,743.41 L541.85,742.63 L542.48,741.84 L543.10,741.05 L543.71,740.24 L544.31,739.43 L544.89,738.61 L545.47,737.78 L546.04,736.95 L546.60,736.11 L547.15,735.26 L547.68,734.41 L548.21,733.55 L548.73,732.69 L549.25,731.82 L549.75,730.94 L550.24,730.06 L550.73,729.18 L551.21,728.29 L551.68,727.40 L552.14,726.51 L552.60,725.61 L553.04,724.70 L553.48,723.80 L553.92,722.89 L554.34,721.97 L554.76,721.06 L555.18,720.14 L555.59,719.22 L555.99,718.30 L556.39,717.37 L556.78,716.44 L557.16,715.52 L557.55,714.59 L557.93,713.65 L558.30,712.72 L558.67,711.79 L559.04,710.85 L559.40,709.91 L559.76,708.97 L560.11,708.03 L560.47,707.09 L560.82,706.15 L561.16,705.21 L561.51,704.27 L561.85,703.32 L562.18,702.38 L562.52,701.43 L562.85,700.49 L563.19,699.54 L563.51,698.59 L563.84,697.64 L564.17,696.69 L564.49,695.74 L564.81,694.79 L565.13,693.84 L565.44,692.89 L565.76,691.94 L566.07,690.99 L566.38,690.03 L566.69,689.08 L567.00,688.13 L567.31,687.17 L567.62,686.22 L567.92,685.26 L568.22,684.31 L568.52,683.35 L568.82,682.40 L569.12,681.44 L569.42,680.48 L569.72,679.53 L570.01,678.57 L570.31,677.61 L570.60,676.65 L570.90,675.69 L571.19,674.74 L571.48,673.78 L571.77,672.82 L572.06,671.86 L572.34,670.90 L572.63,669.94 L572.92,668.98 L573.20,668.02 L573.49,667.06 L573.77,666.10 L574.06,665.14 L574.34,664.18 L574.62,663.22 L574.90,662.26 L575.18,661.30 L575.46,660.34 L575.74,659.38 L576.02,658.42 L576.30,657.46 L576.58,656.50 L576.86,655.53 L577.14,654.57 L577.41,653.61 L577.69,652.65 L577.97,651.69 L578.24,650.73 L578.52,649.76 L578.79,648.80 L579.07,647.84 L579.34,646.88 L579.62,645.92 L579.89,644.95 L580.17,643.99 L580.44,643.03 L580.72,642.07 L580.99,641.11 L581.26,640.14 L581.54,639.18 L581.81,638.22 L582.08,637.26 L582.36,636.30 L582.63,635.33 L582.90,634.37 L583.18,633.41 L583.45,632.45 L583.72,631.49 L583.99,630.52 L584.27,629.56 L584.54,628.60 L584.81,627.64 L585.09,626.68 L585.36,625.72 L585.64,624.75 L585.91,623.79 L586.18,622.83 L586.46,621.87 L586.73,620.91 L587.00,619.94 L587.28,618.98 L587.55,618.02 L587.83,617.06 L588.10,616.10 L588.37,615.14 L588.65,614.17 L588.92,613.21 L589.19,612.25 L589.47,611.29 L589.74,610.33 L590.01,609.36 L590.29,608.40 L590.56,607.44 L590.83,606.48 L591.11,605.51 L591.38,604.55 L591.65,603.59 L591.92,602.63 L592.20,601.67 L592.47,600.70 L592.74,599.74 L593.01,598.78 L593.29,597.81 L593.56,596.85 L593.83,595.89 L594.10,594.93 L594.37,593.96 L594.64,593.00 L594.91,592.04 L595.18,591.07 L595.45,590.11 L595.72,589.15 L595.99,588.18 L596.26,587.22 L596.53,586.26 L596.80,585.29 L597.07,584.33 L597.34,583.37 L597.60,582.40 L597.87,581.44 L598.14,580.47 L598.41,579.51 L598.67,578.54 L598.94,577.58 L599.21,576.62 L599.47,575.65 L599.74,574.69 L600.00,573.72 L600.27,572.76 L600.53,571.79 L600.80,570.83 L601.06,569.86 L601.32,568.89 L601.58,567.93 L601.85,566.96 L602.11,566.00 L602.37,565.03 L602.63,564.07 L602.89,563.10 L603.15,562.13 L603.41,561.17 L603.67,560.20 L603.93,559.23 L604.19,558.27 L604.45,557.30 L604.71,556.33 L604.96,555.36 L605.22,554.40 L605.48,553.43 L605.73,552.46 L605.99,551.49 L606.24,550.53 L606.50,549.56 L606.75,548.59 L607.00,547.62 L607.26,546.65 L607.51,545.68 L607.76,544.72 L608.01,543.75 L608.27,542.78 L608.52,541.81 L608.77,540.84 L609.02,539.87 L609.26,538.90 L609.51,537.93 L609.76,536.96 L610.01,535.99 L610.26,535.02 L610.50,534.05 L610.75,533.08 L611.00,532.11 L611.24,531.14 L611.49,530.18 L611.74,529.21 L611.98,528.24 L612.23,527.27 L612.48,526.30 L612.72,525.33 L612.97,524.37 L613.22,523.40 L613.47,522.43 L613.72,521.46 L613.97,520.50 L614.22,519.53 L614.47,518.56 L614.72,517.60 L614.98,516.63 L615.23,515.67 L615.49,514.71 L615.75,513.74 L616.01,512.78 L616.27,511.82 L616.53,510.85 L616.79,509.89 L617.06,508.93 L617.32,507.97 L617.59,507.02 L617.87,506.06 L618.14,505.10 L618.42,504.14 L618.70,503.19 L618.98,502.24 L619.26,501.28 L619.55,500.33 L619.85,499.38 L620.14,498.44 L620.44,497.49 L620.75,496.55 L621.06,495.60 L621.37,494.66 L621.69,493.72 L622.01,492.78 L622.34,491.85 L622.68,490.91 L623.02,489.98 L623.36,489.05 L623.71,488.12 L624.07,487.20 L624.43,486.27 L624.80,485.35 L625.17,484.43 L625.55,483.52 L625.94,482.61 L626.33,481.70 L626.74,480.79 L627.14,479.89 L627.56,478.99 L627.98,478.09 L628.41,477.20 L628.85,476.31 L629.30,475.43 L629.76,474.55 L630.22,473.67 L630.69,472.80 L631.17,471.93 L631.66,471.07 L632.16,470.22 L632.67,469.37 L633.19,468.52 L633.71,467.68 L634.25,466.85 L634.80,466.02 L635.36,465.21 L635.93,464.40 L636.51,463.61 L637.12,462.83 L637.73,462.06 L638.37,461.31 L639.03,460.58 L639.71,459.87 L640.41,459.18 L641.14,458.53 L641.90,457.91 L642.70,457.34 L643.53,456.83 L644.40,456.38 L645.30,456.01 L646.25,455.74 L647.22,455.58 L648.22,455.55 L649.22,455.67 L650.20,455.91 L651.15,456.27 L652.07,456.73 L652.94,457.28 L653.76,457.89 L654.55,458.55 L655.29,459.25 L656.00,459.99 L656.68,460.76 L657.32,461.55 L657.94,462.36 L658.54,463.18 L659.12,464.02 L659.67,464.87 L660.21,465.74 L660.73,466.61 L661.24,467.48 L661.73,468.37 L662.21,469.26 L662.68,470.16 L663.13,471.06 L663.58,471.97 L664.02,472.88 L664.44,473.80 L664.86,474.72 L665.27,475.64 L665.67,476.57 L666.07,477.49 L666.46,478.42 L666.84,479.36 L667.22,480.29 L667.58,481.23 L667.95,482.17 L668.31,483.11 L668.66,484.05 L669.01,485.00 L669.35,485.95 L669.69,486.89 L670.03,487.84 L670.36,488.79 L670.68,489.74 L671.01,490.70 L671.33,491.65 L671.64,492.61 L671.95,493.56 L672.26,494.52 L672.57,495.48 L672.87,496.43 L673.17,497.39 L673.46,498.35 L673.76,499.32 L674.05,500.28 L674.33,501.24 L674.62,502.20 L674.90,503.17 L675.18,504.13 L675.46,505.10 L675.73,506.06 L676.01,507.03 L676.28,508.00 L676.55,508.96 L676.81,509.93 L677.08,510.90 L677.34,511.87 L677.60,512.84 L677.86,513.81 L678.12,514.78 L678.37,515.75 L678.62,516.72 L678.88,517.69 L679.13,518.66 L679.37,519.63 L679.62,520.61 L679.87,521.58 L680.11,522.55 L680.35,523.52 L680.59,524.50 L680.83,525.47 L681.07,526.45 L681.31,527.42 L681.54,528.39 L681.78,529.37 L682.01,530.34 L682.24,531.32 L682.47,532.30 L682.70,533.27 L682.93,534.25 L683.16,535.22 L683.38,536.20 L683.61,537.18 L683.83,538.15 L684.06,539.13 L684.28,540.11 L684.50,541.09 L684.72,542.06 L684.94,543.04 L685.15,544.02 L685.37,545.00 L685.59,545.98 L685.80,546.96 L686.02,547.94 L686.23,548.91 L686.44,549.89 L686.65,550.87 L686.87,551.85 L687.07,552.83 L687.28,553.81 L687.49,554.79 L687.70,555.77 L687.91,556.75 L688.11,557.73 L688.32,558.71 L688.52,559.69 L688.73,560.68 L688.93,561.66 L689.13,562.64 L689.33,563.62 L689.53,564.60 L689.73,565.58 L689.93,566.56 L690.13,567.54 L690.33,568.53 L690.53,569.51 L690.73,570.49 L690.92,571.47 L691.12,572.45 L691.31,573.44 L691.51,574.42 L691.70,575.40 L691.90,576.38 L692.09,577.37 L692.28,578.35 L692.47,579.33 L692.67,580.32 L692.86,581.30 L693.05,582.28 L693.24,583.26 L693.43,584.25 L693.61,585.23 L693.80,586.21 L693.99,587.20 L694.18,588.18 L694.36,589.17 L694.55,590.15 L694.74,591.13 L694.92,592.12 L695.11,593.10 L695.29,594.09 L695.48,595.07 L695.66,596.05 L695.84,597.04 L696.02,598.02 L696.21,599.01 L696.39,599.99 L696.57,600.98 L696.75,601.96 L696.93,602.94 L697.11,603.93 L697.29,604.91 L697.47,605.90 L697.65,606.88 L697.83,607.87 L698.01,608.85 L698.19,609.84 L698.36,610.82 L698.54,611.81 L698.72,612.79 L698.89,613.78 L699.07,614.77 L699.25,615.75 L699.42,616.74 L699.60,617.72 L699.77,618.71 L699.95,619.69 L700.12,620.68 L700.29,621.66 L700.47,622.65 L700.64,623.64 L700.81,624.62 L700.99,625.61 L701.16,626.59 L701.33,627.58 L701.50,628.57 L701.67,629.55 L701.84,630.54 L702.02,631.52 L702.19,632.51 L702.36,633.50 L702.53,634.48 L702.70,635.47 L702.86,636.46 L703.03,637.44 L703.20,638.43 L703.37,639.41 L703.54,640.40 L703.71,641.39 L703.88,642.37 L704.04,643.36 L704.21,644.35 L704.38,645.33 L704.54,646.32 L704.71,647.31 L704.88,648.29 L705.04,649.28 L705.21,650.27 L705.37,651.26 L705.54,652.24 L705.71,653.23 L705.87,654.22 L706.04,655.20 L706.20,656.19 L706.36,657.18 L706.53,658.16 L706.69,659.15 L706.86,660.14 L707.02,661.13 L707.18,662.11 L707.35,663.10 L707.51,664.09 L707.67,665.07 L707.83,666.06 L708.00,667.05 L708.16,668.04 L708.32,669.02 L708.48,670.01 L708.64,671.00 L708.80,671.99 L708.97,672.97 L709.13,673.96 L709.29,674.95 L709.45,675.94 L709.61,676.92 L709.77,677.91 L709.93,678.90 L710.09,679.89 L710.25,680.87 L710.41,681.86 L710.57,682.85 L710.73,683.84 L710.89,684.82 L711.05,685.81 L711.21,686.80 L711.36,687.79 L711.52,688.78 L711.68,689.76 L711.84,690.75 L712.00,691.74 L712.16,692.73 L712.31,693.71 L712.47,694.70 L712.63,695.69 L712.79,696.68 L712.95,697.67 L713.10,698.65 L713.26,699.64 L713.42,700.63 L713.58,701.62 L713.73,702.61 L713.89,703.59 L714.05,704.58 L714.20,705.57 L714.36,706.56 L714.52,707.55 L714.67,708.53 L714.83,709.52 L714.99,710.51 L715.14,711.50 L715.30,712.49 L715.45,713.47 L715.61,714.46 L715.77,715.45 L715.92,716.44 L716.08,717.43 L716.23,718.41 L716.39,719.40 L716.54,720.39 L716.70,721.38 L716.85,722.37 L717.01,723.35 L717.17,724.34 L717.32,725.33 L717.48,726.32 L717.63,727.31 L717.79,728.29 L717.94,729.28 L718.10,730.27 L718.25,731.26 L718.41,732.25 L718.56,733.23 L718.72,734.22 L718.87,735.21 L719.03,736.20 L719.18,737.19 L719.34,738.17 L719.49,739.16 L719.65,740.15 L719.80,741.14 L719.96,742.12 L720.11,743.11 L720.27,744.10 L720.42,745.09 L720.58,746.07 L720.73,747.06 L720.89,748.05 L721.04,749.04 L721.20,750.03 L721.36,751.01 L721.51,752.00 L721.67,752.99 L721.82,753.97 L721.98,754.96 L722.14,755.95 L722.29,756.94 L722.45,757.92 L722.61,758.91 L722.76,759.90 L722.92,760.89 L723.08,761.87 L723.24,762.86 L723.39,763.85 L723.55,764.83 L723.71,765.82 L723.87,766.81 L724.02,767.79 L724.18,768.78 L724.34,769.77 L724.50,770.75 L724.66,771.74 L724.82,772.73 L724.98,773.71 L725.14,774.70 L725.30,775.69 L725.46,776.67 L725.62,777.66 L725.78,778.64 L725.94,779.63 L726.10,780.62 L726.26,781.60 L726.43,782.59 L726.59,783.57 L726.75,784.56 L726.91,785.55 L727.08,786.53 L727.24,787.52 L727.40,788.50 L727.57,789.49 L727.73,790.47 L727.90,791.46 L728.06,792.44 L728.23,793.43 L728.40,794.41 L728.56,795.40 L728.73,796.38 L728.90,797.37 L729.06,798.35 L729.23,799.33 L729.40,800.32 L729.57,801.30 L729.74,802.29 L729.91,803.27 L730.08,804.26 L730.25,805.24 L730.42,806.22 L730.60,807.21 L730.77,808.19 L730.94,809.17 L731.11,810.16 L731.29,811.14 L731.46,812.13 L731.64,813.11 L731.81,814.09 L731.99,815.08 L732.16,816.06 L732.34,817.04 L732.52,818.02 L732.69,819.01 L732.87,819.99 L733.05,820.97 L733.23,821.96 L733.41,822.94 L733.59,823.92 L733.77,824.90 L733.95,825.89 L734.13,826.87 L734.31,827.85 L734.49,828.83 L734.67,829.82 L734.85,830.80 L735.03,831.78 L735.22,832.76 L735.40,833.75 L735.58,834.73 L735.77,835.71 L735.95,836.69 L736.13,837.67 L736.32,838.65 L736.50,839.64 L736.69,840.62 L736.88,841.60 L737.06,842.58 L737.25,843.56 L737.43,844.55 L737.62,845.53 L737.81,846.51 L738.00,847.49 L738.18,848.47 L738.37,849.45 L738.56,850.43 L738.75,851.42 L738.94,852.40 L739.13,853.38 L739.32,854.36 L739.51,855.34 L739.70,856.32 L739.89,857.30 L740.08,858.28 L740.27,859.27 L740.46,860.25 L740.65,861.23 L740.84,862.21 L741.03,863.19 L741.22,864.17 L741.41,865.15 L741.60,866.13 L741.80,867.11 L741.99,868.09 L742.18,869.08 L742.37,870.06 L742.57,871.04 L742.76,872.02 L742.95,873.00 L743.14,873.98 L743.34,874.96 L743.53,875.94 L743.72,876.92 L743.92,877.90 L744.11,878.88 L744.31,879.86 L744.50,880.84 L744.69,881.83 L744.89,882.81 L745.08,883.79 L745.28,884.77 L745.47,885.75 L745.67,886.73 L745.86,887.71 L746.06,888.69 L746.25,889.67 L746.45,890.65 L746.64,891.63 L746.84,892.61 L747.03,893.59 L747.23,894.57 L747.43,895.55 L747.62,896.53 L747.82,897.51 L748.02,898.49 L748.21,899.47 L748.41,900.45 L748.61,901.43 L748.80,902.41 L749.00,903.39 L749.20,904.37 L749.39,905.35 L749.59,906.33 L749.79,907.31 L749.98,908.29 L750.18,909.27 L750.38,910.25 L750.58,911.23 L750.78,912.21 L750.97,913.19 L751.17,914.17 L751.37,915.15 L751.57,916.13 L751.76,917.11 L751.96,918.09 L752.16,919.07 L752.36,920.05 L752.56,921.03 L752.76,922.01 L752.96,922.99 L753.15,923.97 L753.35,924.95 L753.55,925.93 L753.75,926.91 L753.95,927.89 L754.15,928.87 L754.35,929.85 L754.55,930.83 L754.75,931.81 L754.95,932.79 L755.15,933.77 L755.35,934.75 L755.55,935.72 L755.75,936.70 L755.96,937.68 L756.16,938.66 L756.36,939.64 L756.56,940.62 L756.77,941.60 L756.97,942.57 L757.17,943.55 L757.38,944.53 L757.58,945.51 L757.79,946.49 L757.99,947.46 L758.20,948.44 L758.40,949.42 L758.61,950.40 L758.82,951.37 L759.03,952.35 L759.23,953.33 L759.44,954.30 L759.65,955.28 L759.86,956.25 L760.07,957.23 L760.28,958.21 L760.50,959.18 L760.71,960.16 L760.92,961.13 L761.14,962.11 L761.35,963.08 L761.57,964.06 L761.78,965.03 L762.00,966.01 L762.22,966.98 L762.44,967.95 L762.66,968.93 L762.88,969.90 L763.10,970.87 L763.32,971.85 L763.54,972.82 L763.77,973.79 L763.99,974.76 L764.22,975.73 L764.45,976.71 L764.68,977.68 L764.91,978.65 L765.14,979.62 L765.37,980.59 L765.61,981.56 L765.84,982.52 L766.08,983.49 L766.32,984.46 L766.55,985.43 L766.79,986.40 L767.04,987.37 L767.28,988.33 L767.52,989.30 L767.77,990.27 L768.02,991.23 L768.27,992.20 L768.52,993.16 L768.77,994.13 L769.02,995.09 L769.27,996.06 L769.53,997.02 L769.78,997.99 L770.04,998.95 L770.30,999.91 L770.56,1000.88 L770.82,1001.84 L771.09,1002.80 L771.35,1003.76 L771.62,1004.72 L771.88,1005.69 L772.15,1006.65 L772.42,1007.61 L772.69,1008.57 L772.97,1009.52 L773.24,1010.48 L773.52,1011.44 L773.79,1012.40 L774.07,1013.36 L774.35,1014.31 L774.63,1015.27 L774.92,1016.23 L775.20,1017.18 L775.49,1018.14 L775.78,1019.09 L776.07,1020.04 L776.36,1021.00 L776.66,1021.95 L776.95,1022.90 L777.25,1023.85 L777.55,1024.80 L777.85,1025.75 L778.16,1026.70 L778.46,1027.65 L778.77,1028.60 L779.08,1029.55 L779.39,1030.49 L779.70,1031.44 L780.02,1032.39 L780.34,1033.33 L780.66,1034.27 L780.98,1035.22 L781.30,1036.16 L781.63,1037.10 L781.96,1038.04 L782.29,1038.98 L782.62,1039.92 L782.96,1040.86 L783.30,1041.79 L783.64,1042.73 L783.99,1043.66 L784.33,1044.60 L784.68,1045.53 L785.03,1046.46 L785.39,1047.39 L785.75,1048.32 L786.11,1049.25 L786.47,1050.18 L786.84,1051.10 L787.21,1052.03 L787.58,1052.95 L787.96,1053.87 L788.34,1054.80 L788.72,1055.71 L789.10,1056.63 L789.49,1057.55 L789.89,1058.46 L790.28,1059.38 L790.68,1060.29 L791.09,1061.20 L791.50,1062.10 L791.91,1063.01 L792.32,1063.91 L792.75,1064.81 L793.17,1065.71 L793.60,1066.61 L794.03,1067.51 L794.47,1068.40 L794.91,1069.29 L795.36,1070.18 L795.81,1071.06 L796.27,1071.95 L796.73,1072.83 L797.20,1073.70 L797.68,1074.58 L798.15,1075.45 L798.64,1076.32 L799.13,1077.18 L799.63,1078.04 L800.13,1078.90 L800.64,1079.75 L801.16,1080.60 L801.68,1081.45 L802.21,1082.29 L802.74,1083.12 L803.29,1083.95 L803.84,1084.78 L804.40,1085.60 L804.97,1086.41 L805.54,1087.22 L806.13,1088.02 L806.72,1088.82 L807.32,1089.61 L807.93,1090.39 L808.55,1091.17 L809.19,1091.93 L809.83,1092.69 L810.48,1093.44 L811.14,1094.18 L811.81,1094.90 L812.50,1095.62 L813.19,1096.33 L813.90,1097.02 L814.62,1097.71 L815.35,1098.38 L816.09,1099.03 L816.85,1099.67 L817.62,1100.29 L818.40,1100.90 L819.20,1101.49 L820.01,1102.06 L820.84,1102.61 L821.68,1103.14 L822.53,1103.65 L823.39,1104.14 L824.27,1104.60 L825.16,1105.04 L826.07,1105.45 L826.98,1105.83 L827.91,1106.19 L828.85,1106.51 L829.80,1106.81 L830.76,1107.07 L831.73,1107.31 L832.70,1107.51 L833.69,1107.68 L834.68,1107.81 L835.67,1107.91 L836.67,1107.98 L837.66,1108.02 L838.66,1108.02 L839.66,1107.98 L840.66,1107.92 L841.66,1107.82 L842.65,1107.69 L843.64,1107.53 L844.63,1107.34 L845.61,1107.13 L846.58,1106.88 L847.54,1106.61 L848.50,1106.31 L849.45,1105.99 L850.40,1105.64 L851.33,1105.27 L852.26,1104.89 L853.18,1104.48 L854.09,1104.05 L854.99,1103.60 L855.88,1103.14 L856.76,1102.66 L857.63,1102.16 L858.50,1101.65 L859.36,1101.13 L860.20,1100.59 L861.05,1100.04 L861.88,1099.47 L862.70,1098.90 L863.52,1098.32 L864.33,1097.72 L865.13,1097.12 L865.93,1096.50 L866.71,1095.88 L867.49,1095.25 L868.27,1094.61 L869.04,1093.96 L869.80,1093.31 L870.55,1092.64 L871.30,1091.98 L872.05,1091.30 L872.78,1090.62 L873.52,1089.93 L874.24,1089.24 L874.96,1088.54 L875.68,1087.84 L876.39,1087.13 L877.10,1086.42 L877.80,1085.71 L878.50,1084.98 L879.19,1084.26 L879.88,1083.53 L880.56,1082.80 L881.24,1082.06 L881.92,1081.32 L882.59,1080.57 L883.26,1079.82 L883.92,1079.07 L884.58,1078.32 L885.24,1077.56 L885.89,1076.80 L886.54,1076.03 L887.18,1075.26 L887.83,1074.49 L888.46,1073.72 L889.10,1072.94 L889.73,1072.17 L890.36,1071.39 L890.99,1070.60 L891.61,1069.82 L892.23,1069.03 L892.84,1068.24 L893.46,1067.45 L894.07,1066.65 L894.68,1065.86 L895.28,1065.06 L895.89,1064.26 L896.49,1063.45 L897.09,1062.65 L897.68,1061.84 L898.27,1061.04 L898.86,1060.23 L899.45,1059.42 L900.04,1058.60 L900.62,1057.79 L901.20,1056.97 L901.78,1056.16 L902.36,1055.34 L902.94,1054.52 L903.51,1053.70 L904.08,1052.87 L904.65,1052.05 L905.22,1051.22 L905.78,1050.40 L906.35,1049.57 L906.91,1048.74 L907.47,1047.91 L908.03,1047.08 L908.58,1046.24 L909.14,1045.41 L909.69,1044.58 L910.24,1043.74 L910.79,1042.90 L911.34,1042.06 L911.89,1041.22 L912.43,1040.38 L912.97,1039.54 L913.52,1038.70 L914.06,1037.86 L914.60,1037.02 L915.13,1036.17 L915.67,1035.33 L916.21,1034.48 L916.74,1033.63 L917.27,1032.78 L917.80,1031.93 L918.33,1031.08 L918.86,1030.23 L919.39,1029.38 L919.91,1028.53 L920.44,1027.68 L920.96,1026.82 L921.48,1025.97 L922.00,1025.11 L922.52,1024.26 L923.04,1023.40 L923.56,1022.54 L924.07,1021.69 L924.59,1020.83 L925.10,1019.97 L925.61,1019.11 L926.12,1018.25 L926.63,1017.38 L927.14,1016.52 L927.65,1015.66 L928.15,1014.79 L928.66,1013.93 L929.16,1013.07 L929.67,1012.20 L930.17,1011.33 L930.67,1010.47 L931.17,1009.60 L931.67,1008.73 L932.16,1007.86 L932.66,1006.99 L933.16,1006.12 L933.65,1005.25 L934.15,1004.38 L934.64,1003.51 L935.13,1002.64 L935.62,1001.77 L936.11,1000.89 L936.60,1000.02 L937.09,999.15 L937.57,998.27 L938.06,997.40 L938.54,996.52 L939.03,995.65 L939.51,994.77 L939.99,993.89 L940.47,993.01 L940.96,992.14 L941.43,991.26 L941.91,990.38 L942.39,989.50 L942.87,988.62 L943.34,987.74 L943.82,986.86 L944.29,985.98 L944.77,985.09 L945.24,984.21 L945.71,983.33 L946.18,982.45 L946.65,981.56 L947.12,980.68 L947.59,979.80 L948.06,978.91 L948.53,978.03 L948.99,977.14 L949.46,976.25 L949.92,975.37 L950.39,974.48 L950.85,973.59 L951.31,972.71 L951.78,971.82 L952.24,970.93 L952.70,970.04 L953.16,969.15 L953.62,968.26 L954.07,967.37 L954.53,966.48 L954.99,965.59 L955.44,964.70 L955.90,963.81 L956.35,962.92 L956.81,962.03 L957.26,961.14 L957.71,960.24 L958.17,959.35 L958.62,958.46 L959.07,957.56 L959.52,956.67 L959.97,955.78 L960.42,954.88 L960.87,953.99 L961.31,953.09 L961.76,952.20 L962.21,951.30 L962.66,950.41 L963.10,949.51 L963.55,948.62 L963.99,947.72 L964.44,946.83 L964.88,945.93 L965.33,945.03 L965.77,944.14 L966.22,943.24 L966.66,942.35 L967.11,941.45 L967.55,940.55 L967.99,939.66 L968.44,938.76 L968.88,937.87 L969.33,936.97 L969.77,936.08 L970.22,935.18 L970.66,934.29 L971.11,933.39 L971.55,932.50 L972.00,931.60 L972.45,930.71 L972.89,929.81 L973.34,928.92 L973.79,928.02 L974.23,927.13 L974.68,926.24 L975.13,925.34 L975.58,924.45 L976.03,923.56 L976.48,922.67 L976.93,921.78 L977.38,920.89 L977.84,920.00 L978.29,919.11 L978.75,918.22 L979.20,917.33 L979.66,916.44 L980.11,915.55 L980.57,914.66 L981.03,913.77 L981.49,912.89 L981.95,912.00 L982.42,911.12 L982.88,910.23 L983.35,909.35 L983.81,908.47 L984.28,907.58 L984.75,906.70 L985.22,905.82 L985.69,904.94 L986.16,904.06 L986.64,903.18 L987.11,902.30 L987.59,901.43 L988.07,900.55 L988.54,899.67 L989.02,898.79 L989.50,897.92 L989.98,897.04 L990.46,896.17 L990.95,895.29 L991.43,894.42 L991.91,893.54 L992.40,892.67 L992.88,891.79 L993.37,890.92 L993.86,890.05 L994.34,889.18 L994.83,888.30 L995.32,887.43 L995.81,886.56 L996.30,885.69 L996.78,884.81 L997.27,883.94 L997.76,883.07 L998.25,882.20 L998.74,881.33 L999.23,880.46 L999.72,879.58 L1000.21,878.71 L1000.70,877.84 L1001.19,876.97 L1001.68,876.10 L1002.17,875.22 L1002.66,874.35 L1003.15,873.48 L1003.64,872.61 L1004.13,871.73 L1004.62,870.86 L1005.10,869.99 L1005.59,869.11 L1006.08,868.24 L1006.56,867.36 L1007.05,866.49 L1007.54,865.61 L1008.02,864.74 L1008.50,863.86 L1008.99,862.99 L1009.47,862.11 L1009.95,861.23 L1010.43,860.35 L1010.91,859.48 L1011.39,858.60 L1011.87,857.72 L1012.35,856.84 L1012.83,855.97 L1013.31,855.09 L1013.79,854.21 L1014.27,853.33 L1014.75,852.45 L1015.23,851.58 L1015.70,850.70 L1016.18,849.82 L1016.66,848.95 L1017.14,848.07 L1017.62,847.19 L1018.10,846.32 L1018.59,845.44 L1019.07,844.56 L1019.55,843.69 L1020.03,842.81 L1020.52,841.94 L1021.00,841.07 L1021.49,840.19 L1021.97,839.32 L1022.46,838.45 L1022.95,837.58 L1023.44,836.71 L1023.93,835.84 L1024.42,834.97 L1024.91,834.10 L1025.41,833.23 L1025.90,832.37 L1026.40,831.50 L1026.90,830.64 L1027.40,829.77 L1027.91,828.91 L1028.41,828.05 L1028.92,827.19 L1029.43,826.33 L1029.94,825.47 L1030.45,824.62 L1030.97,823.76 L1031.49,822.91 L1032.01,822.06 L1032.53,821.21 L1033.06,820.37 L1033.59,819.52 L1034.12,818.68 L1034.65,817.84 L1035.19,817.00 L1035.73,816.16 L1036.28,815.33 L1036.83,814.49 L1037.38,813.66 L1037.93,812.83 L1038.49,812.00 L1039.05,811.18 L1039.61,810.36 L1040.18,809.54 L1040.75,808.72 L1041.32,807.90 L1041.90,807.09 L1042.47,806.27 L1043.06,805.46 L1043.64,804.65 L1044.23,803.85 L1044.82,803.05 L1045.41,802.24 L1046.01,801.44 L1046.61,800.65 L1047.21,799.85 L1047.82,799.06 L1048.43,798.27 L1049.04,797.48 L1049.65,796.70 L1050.27,795.91 L1050.89,795.13 L1051.51,794.35 L1052.14,793.58 L1052.77,792.80 L1053.40,792.03 L1054.04,791.26 L1054.67,790.49 L1055.31,789.72 L1055.95,788.96 L1056.60,788.20 L1057.25,787.44 L1057.90,786.68 L1058.55,785.92 L1059.20,785.17 L1059.86,784.42 L1060.52,783.67 L1061.18,782.92 L1061.84,782.18 L1062.51,781.43 L1063.18,780.69 L1063.85,779.95 L1064.52,779.21 L1065.19,778.47 L1065.87,777.74 L1066.54,777.00 L1067.22,776.27 L1067.90,775.54 L1068.58,774.81 L1069.27,774.08 L1069.95,773.35 L1070.64,772.62 L1071.32,771.90 L1072.01,771.17 L1072.70,770.45 L1073.39,769.73 L1074.08,769.00 L1074.77,768.28 L1075.47,767.56 L1076.16,766.84 L1076.85,766.12 L1077.55,765.40 L1078.24,764.68 L1078.94,763.96 L1079.63,763.25 L1080.33,762.53 L1081.02,761.81 L1081.72,761.09 L1082.41,760.37 L1083.11,759.65 L1083.80,758.93 L1084.50,758.21 L1085.19,757.49 L1085.89,756.77 L1086.58,756.06 L1087.28,755.34 L1087.98,754.63 L1088.68,753.91 L1089.38,753.20 L1090.08,752.49 L1090.78,751.78 L1091.49,751.08 L1092.20,750.38 L1092.91,749.68 L1093.63,748.99 L1094.35,748.30 L1095.07,747.61 L1095.80,746.93 L1096.54,746.26 L1097.27,745.59 L1098.02,744.92 L1098.77,744.27 L1099.52,743.62 L1100.28,742.98 L1101.05,742.35 L1101.83,741.72 L1102.62,741.11 L1103.41,740.51 L1104.21,739.92 L1105.02,739.35 L1105.84,738.79 L1106.67,738.25 L1107.51,737.72 L1108.37,737.21 L1109.23,736.72 L1110.11,736.26 L1111.00,735.81 L1111.90,735.38 L1112.81,734.98 L1113.72,734.60 L1114.65,734.24 L1115.59,733.90 L1116.53,733.59 L1117.49,733.29 L1118.45,733.02 L1119.41,732.77 L1120.38,732.55 L1121.36,732.34 L1122.34,732.15 L1123.32,731.98 L1124.31,731.83 L1125.30,731.70 L1126.29,731.58 L1127.29,731.49 L1128.28,731.40 L1129.28,731.33 L1130.28,731.27 L1131.28,731.23 L1132.27,731.20 L1133.27,731.18 L1134.27,731.17 L1135.27,731.19 L1136.27,731.22 L1137.27,731.27 L1138.27,731.34 L1139.27,731.44 L1140.26,731.56 L1141.25,731.70 L1142.24,731.87 L1143.22,732.06 L1144.20,732.29 L1145.18,732.54 L1146.14,732.81 L1147.10,733.12 L1148.04,733.46 L1148.98,733.82 L1149.91,734.21 L1150.82,734.63 L1151.73,735.08 L1152.62,735.55 L1153.49,736.05 L1154.36,736.57 L1155.20,737.11 L1156.04,737.68 L1156.86,738.26 L1157.67,738.86 L1158.47,739.47 L1159.26,740.10 L1160.03,740.75 L1160.79,741.40 L1161.55,742.07 L1162.29,742.75 L1163.03,743.44 L1163.75,744.13 L1164.47,744.84 L1165.18,745.55 L1165.88,746.27 L1166.57,747.00 L1167.26,747.74 L1167.94,748.48 L1168.61,749.22 L1169.27,749.98 L1169.93,750.73 L1170.59,751.49 L1171.24,752.26 L1171.88,753.03 L1172.52,753.81 L1173.15,754.59 L1173.78,755.37 L1174.40,756.15 L1175.02,756.94 L1175.64,757.74 L1176.25,758.53 L1176.86,759.33 L1177.46,760.13 L1178.06,760.94 L1178.65,761.75 L1179.24,762.56 L1179.83,763.37 L1180.41,764.19 L1180.99,765.01 L1181.56,765.83 L1182.13,766.66 L1182.70,767.48 L1183.27,768.31 L1183.83,769.15 L1184.38,769.98 L1184.94,770.82 L1185.49,771.65 L1186.04,772.50 L1186.58,773.34 L1187.12,774.18 L1187.66,775.03 L1188.19,775.88 L1188.73,776.73 L1189.25,777.58 L1189.78,778.43 L1190.30,779.29 L1190.82,780.15 L1191.34,781.01 L1191.85,781.87 L1192.37,782.73 L1192.87,783.59 L1193.38,784.46 L1193.89,785.32 L1194.39,786.19 L1194.89,787.06 L1195.38,787.93 L1195.88,788.80 L1196.37,789.68 L1196.86,790.55 L1197.34,791.43 L1197.83,792.31 L1198.31,793.18 L1198.79,794.06 L1199.27,794.95 L1199.75,795.83 L1200.22,796.71 L1200.69,797.59 L1201.16,798.48 L1201.63,799.36 L1202.10,800.25 L1202.56,801.14 L1203.02,802.03 L1203.48,802.92 L1203.94,803.81 L1204.40,804.70 L1204.86,805.59 L1205.31,806.48 L1205.76,807.38 L1206.21,808.27 L1206.66,809.17 L1207.11,810.06 L1207.56,810.96 L1208.00,811.86 L1208.45,812.76 L1208.89,813.66 L1209.33,814.56 L1209.77,815.46 L1210.20,816.36 L1210.64,817.26 L1211.07,818.16 L1211.51,819.06 L1211.94,819.97 L1212.37,820.87 L1212.80,821.78 L1213.23,822.68 L1213.66,823.59 L1214.08,824.49 L1214.51,825.40 L1214.93,826.31 L1215.35,827.22 L1215.77,828.12 L1216.19,829.03 L1216.61,829.94 L1217.03,830.85 L1217.45,831.76 L1217.86,832.67 L1218.28,833.58 L1218.69,834.50 L1219.10,835.41 L1219.52,836.32 L1219.93,837.23 L1220.34,838.15 L1220.74,839.06 L1221.15,839.98 L1221.56,840.89 L1221.97,841.81 L1222.37,842.72 L1222.77,843.64 L1223.18,844.55 L1223.58,845.47 L1223.98,846.39 L1224.38,847.30 L1224.78,848.22 L1225.18,849.14 L1225.58,850.06 L1225.98,850.98 L1226.38,851.90 L1226.77,852.81 L1227.17,853.73 L1227.56,854.65 L1227.95,855.57 L1228.35,856.49 L1228.74,857.42 L1229.13,858.34 L1229.52,859.26 L1229.91,860.18 L1230.30,861.10 L1230.69,862.02 L1231.08,862.95 L1231.47,863.87 L1231.86,864.79 L1232.24,865.72 L1232.63,866.64 L1233.01,867.56 L1233.40,868.49 L1233.78,869.41 L1234.16,870.33 L1234.55,871.26 L1234.93,872.18 L1235.31,873.11 L1235.69,874.03 L1236.07,874.96 L1236.45,875.89 L1236.83,876.81 L1237.21,877.74 L1237.59,878.66 L1237.97,879.59 L1238.35,880.52 L1238.72,881.44 L1239.10,882.37 L1239.48,883.30 L1239.85,884.23 L1240.23,885.15 L1240.60,886.08 L1240.98,887.01 L1241.35,887.94 L1241.72,888.86 L1242.10,889.79 L1242.47,890.72 L1242.84,891.65 L1243.21,892.58 L1243.59,893.51 L1243.96,894.44 L1244.33,895.37 L1244.70,896.30 L1245.07,897.23 L1245.44,898.16 L1245.81,899.09 L1246.17,900.02 L1246.54,900.95 L1246.91,901.88 L1247.28,902.81 L1247.65,903.74 L1248.01,904.67 L1248.38,905.60 L1248.75,906.53 L1249.11,907.46 L1249.48,908.39 L1249.85,909.32 L1250.21,910.25 L1250.58,911.18 L1250.94,912.12 L1251.31,913.05 L1251.67,913.98 L1252.03,914.91 L1252.40,915.84 L1252.76,916.77 L1253.13,917.71 L1253.49,918.64 L1253.85,919.57 L1254.21,920.50 L1254.58,921.44 L1254.94,922.37 L1255.30,923.30 L1255.66,924.23 L1256.02,925.17 L1256.39,926.10 L1256.75,927.03 L1257.11,927.96 L1257.47,928.90 L1257.83,929.83 L1258.19,930.76 L1258.55,931.70 L1258.91,932.63 L1259.27,933.56 L1259.63,934.49 L1259.99,935.43 L1260.35,936.36 L1260.71,937.29 L1261.07,938.23 L1261.43,939.16 L1261.79,940.09 L1262.15,941.03 L1262.51,941.96 L1262.86,942.90 L1263.22,943.83 L1263.58,944.76 L1263.94,945.70 L1264.30,946.63 L1264.66,947.56 L1265.02,948.50 L1265.37,949.43 L1265.73,950.36 L1266.09,951.30 L1266.45,952.23 L1266.81,953.17 L1267.16,954.10 L1267.52,955.03 L1267.88,955.97 L1268.24,956.90 L1268.60,957.84 L1268.95,958.77 L1269.31,959.70 L1269.67,960.64 L1270.03,961.57 L1270.38,962.50 L1270.74,963.44 L1271.10,964.37 L1271.46,965.31 L1271.81,966.24 L1272.17,967.17 L1272.53,968.11 L1272.89,969.04 L1273.24,969.98 L1273.60,970.91 L1273.96,971.85 L1274.31,972.78 L1274.67,973.72 L1275.02,974.65 L1275.37,975.59 L1275.73,976.53 L1276.08,977.46 L1276.43,978.40 L1276.78,979.34 L1277.13,980.28 L1277.48,981.21 L1277.83,982.15 L1278.18,983.09 L1278.53,984.03 L1278.87,984.97 L1279.22,985.91 L1279.56,986.85 L1279.91,987.79 L1280.25,988.73 L1280.59,989.68 L1280.93,990.62 L1281.27,991.56 L1281.61,992.50 L1281.94,993.45 L1282.28,994.39 L1282.61,995.34 L1282.94,996.28 L1283.27,997.23 L1283.60,998.17 L1283.93,999.12 L1284.26,1000.07 L1284.59,1001.02 L1284.91,1001.96 L1285.23,1002.91 L1285.55,1003.86 L1285.87,1004.81 L1286.19,1005.76 L1286.51,1006.71 L1286.83,1007.66 L1287.15,1008.61 L1287.47,1009.56 L1287.78,1010.51 L1288.10,1011.46 L1288.41,1012.41 L1288.73,1013.36 L1289.04,1014.31 L1289.35,1015.26 L1289.67,1016.20 L1289.98,1017.15 L1290.30,1018.10 L1290.61,1019.05 L1290.92,1020.00 L1291.24,1020.95 L1291.55,1021.90 L1291.86,1022.85 L1292.18,1023.80 L1292.49,1024.75 L1292.81,1025.69 L1293.13,1026.64 L1293.44,1027.59 L1293.76,1028.54 L1294.08,1029.48 L1294.40,1030.43 L1294.72,1031.38 L1295.04,1032.32 L1295.36,1033.27 L1295.68,1034.21 L1296.01,1035.15 L1296.33,1036.10 L1296.66,1037.04 L1296.99,1037.98 L1297.32,1038.92 L1297.65,1039.86 L1297.99,1040.80 L1298.32,1041.74 L1298.66,1042.68 L1299.00,1043.62 L1299.34,1044.55 L1299.69,1045.49 L1300.03,1046.43 L1300.38,1047.36 L1300.73,1048.30 L1301.08,1049.23 L1301.43,1050.16 L1301.78,1051.10 L1302.14,1052.03 L1302.49,1052.96 L1302.85,1053.89 L1303.21,1054.82 L1303.57,1055.75 L1303.94,1056.68 L1304.30,1057.61 L1304.66,1058.54 L1305.03,1059.47 L1305.40,1060.40 L1305.77,1061.33 L1306.14,1062.25 L1306.51,1063.18 L1306.88,1064.11 L1307.25,1065.03 L1307.63,1065.96 L1308.00,1066.89 L1308.38,1067.81 L1308.75,1068.74 L1309.13,1069.66 L1309.51,1070.59 L1309.89,1071.51 L1310.27,1072.44 L1310.65,1073.36 L1311.03,1074.28 L1311.41,1075.21 L1311.79,1076.13 L1312.18,1077.05 L1312.56,1077.97 L1312.94,1078.90 L1313.33,1079.82 L1313.72,1080.74 L1314.10,1081.66 L1314.49,1082.58 L1314.88,1083.50 L1315.27,1084.42 L1315.66,1085.34 L1316.05,1086.26 L1316.45,1087.18 L1316.84,1088.10 L1317.23,1089.01 L1317.63,1089.93 L1318.02,1090.85 L1318.42,1091.77 L1318.81,1092.68 L1319.21,1093.60 L1319.61,1094.52 L1320.01,1095.43 L1320.41,1096.35 L1320.81,1097.26 L1321.21,1098.18 L1321.61,1099.09 L1322.02,1100.01 L1322.42,1100.92 L1322.83,1101.83 L1323.23,1102.75 L1323.64,1103.66 L1324.04,1104.57 L1324.45,1105.48 L1324.86,1106.40 L1325.27,1107.31 L1325.68,1108.22 L1326.09,1109.13 L1326.50,1110.04 L1326.91,1110.95 L1327.33,1111.86 L1327.74,1112.77 L1328.16,1113.68 L1328.57,1114.59 L1328.99,1115.49 L1329.40,1116.40 L1329.82,1117.31 L1330.24,1118.22 L1330.66,1119.13 L1331.07,1120.04 L1331.49,1120.94 L1331.91,1121.85 L1332.33,1122.76 L1332.75,1123.67 L1333.16,1124.58 L1333.58,1125.49 L1333.99,1126.40 L1334.41,1127.32 L1334.82,1128.23 L1335.23,1129.14 L1335.64,1130.06 L1336.05,1130.97 L1336.46,1131.89 L1336.86,1132.80 L1337.26,1133.72 L1337.66,1134.64 L1338.06,1135.56 L1338.46,1136.48 L1338.86,1137.40 L1339.25,1138.33 L1339.64,1139.25 L1340.02,1140.18 L1340.41,1141.10 L1340.79,1142.03 L1341.17,1142.96 L1341.55,1143.89 L1341.92,1144.82 L1342.30,1145.75 L1342.67,1146.68 L1343.04,1147.61 L1343.41,1148.54 L1343.78,1149.47 L1344.15,1150.40 L1344.51,1151.33 L1344.88,1152.26 L1345.24,1153.20 L1345.61,1154.13 L1345.97,1155.06 L1346.34,1155.99 L1346.70,1156.92 L1347.06,1157.86 L1347.43,1158.79 L1347.79,1159.72 L1348.15,1160.65 L1348.52,1161.58 L1348.88,1162.51 L1349.25,1163.44 L1349.61,1164.37 L1349.98,1165.30 L1350.35,1166.23 L1350.72,1167.15 L1351.09,1168.08 L1351.46,1169.01 L1351.83,1169.93 L1352.21,1170.86 L1352.58,1171.79 L1352.96,1172.71 L1353.33,1173.63 L1353.71,1174.56 L1354.09,1175.48 L1354.47,1176.41 L1354.85,1177.33 L1355.24,1178.25 L1355.62,1179.17 L1356.01,1180.09 L1356.39,1181.01 L1356.78,1181.93 L1357.17,1182.85 L1357.56,1183.77 L1357.95,1184.69 L1358.34,1185.61 L1358.74,1186.53 L1359.13,1187.44 L1359.53,1188.36 L1359.93,1189.27 L1360.33,1190.19 L1360.73,1191.10 L1361.13,1192.02 L1361.53,1192.93 L1361.93,1193.85 L1362.34,1194.76 L1362.75,1195.67 L1363.16,1196.58 L1363.56,1197.49 L1363.98,1198.40 L1364.39,1199.31 L1364.80,1200.22 L1365.22,1201.13 L1365.63,1202.03 L1366.05,1202.94 L1366.47,1203.85 L1366.89,1204.75 L1367.31,1205.66 L1367.73,1206.56 L1368.16,1207.47 L1368.58,1208.37 L1369.01,1209.27 L1369.44,1210.17 L1369.87,1211.07 L1370.30,1211.97 L1370.74,1212.87 L1371.17,1213.77 L1371.61,1214.67 L1372.04,1215.57 L1372.48,1216.46 L1372.92,1217.36 L1373.37,1218.25 L1373.81,1219.15 L1374.26,1220.04 L1374.70,1220.93 L1375.15,1221.83 L1375.60,1222.72 L1376.05,1223.61 L1376.51,1224.50 L1376.96,1225.39 L1377.42,1226.27 L1377.87,1227.16 L1378.33,1228.05 L1378.79,1228.93 L1379.26,1229.82 L1379.72,1230.70 L1380.19,1231.58 L1380.65,1232.47 L1381.12,1233.35 L1381.60,1234.23 L1382.07,1235.11 L1382.54,1235.98 L1383.02,1236.86 L1383.50,1237.74 L1383.97,1238.61 L1384.46,1239.49 L1384.94,1240.36 L1385.42,1241.24 L1385.91,1242.11 L1386.40,1242.98 L1386.89,1243.85 L1387.38,1244.72 L1387.87,1245.58 L1388.37,1246.45 L1388.86,1247.32 L1389.36,1248.18 L1389.86,1249.04 L1390.37,1249.91 L1390.87,1250.77 L1391.38,1251.63 L1391.88,1252.49 L1392.39,1253.35 L1392.90,1254.20 L1393.42,1255.06 L1393.93,1255.91 L1394.45,1256.77 L1394.97,1257.62 L1395.49,1258.47 L1396.02,1259.32 L1396.54,1260.17 L1397.07,1261.02 L1397.60,1261.86 L1398.13,1262.71 L1398.66,1263.55 L1399.20,1264.39 L1399.74,1265.23 L1400.28,1266.07 L1400.82,1266.91 L1401.36,1267.75 L1401.91,1268.59 L1402.45,1269.42 L1403.00,1270.25 L1403.56,1271.08 L1404.11,1271.91 L1404.67,1272.74 L1405.23,1273.57 L1405.79,1274.39 L1406.35,1275.22 L1406.92,1276.04 L1407.49,1276.86 L1408.06,1277.68 L1408.63,1278.50 L1409.20,1279.31 L1409.78,1280.13 L1410.36,1280.94 L1410.94,1281.75 L1411.53,1282.56 L1412.11,1283.37 L1412.70,1284.17 L1413.29,1284.98 L1413.89,1285.78 L1414.48,1286.58 L1415.08,1287.38 L1415.68,1288.17 L1416.29,1288.97 L1416.89,1289.76 L1417.50,1290.55 L1418.11,1291.34 L1418.72,1292.13 L1419.34,1292.91 L1419.96,1293.70 L1420.58,1294.48 L1421.20,1295.26 L1421.83,1296.03 L1422.46,1296.81 L1423.09,1297.58 L1423.72,1298.35 L1424.36,1299.12 L1425.00,1299.89 L1425.64,1300.65 L1426.29,1301.41 L1426.94,1302.17 L1427.59,1302.93 L1428.24,1303.68 L1428.89,1304.44 L1429.55,1305.19 L1430.21,1305.93 L1430.88,1306.68 L1431.54,1307.42 L1432.21,1308.16 L1432.89,1308.90 L1433.56,1309.63 L1434.24,1310.37 L1434.92,1311.10 L1435.60,1311.82 L1436.29,1312.55 L1436.98,1313.27 L1437.67,1313.99 L1438.36,1314.70 L1439.06,1315.42 L1439.76,1316.13 L1440.47,1316.84 L1441.17,1317.54 L1441.88,1318.24 L1442.59,1318.94 L1443.31,1319.64 L1444.03,1320.33 L1444.75,1321.02 L1445.47,1321.71 L1446.20,1322.39 L1446.93,1323.08 L1447.66,1323.75 L1448.39,1324.43 L1449.13,1325.10 L1449.87,1325.77 L1450.62,1326.43 L1451.36,1327.10 L1452.11,1327.75 L1452.87,1328.41 L1453.62,1329.06 L1454.38,1329.71 L1455.14,1330.36 L1455.91,1331.00 L1456.67,1331.64 L1457.44,1332.27 L1458.22,1332.90 L1458.99,1333.53 L1459.77,1334.15 L1460.55,1334.78 L1461.34,1335.39 L1462.13,1336.01 L1462.92,1336.62 L1463.71,1337.22 L1464.50,1337.83 L1465.30,1338.42 L1466.10,1339.02 L1466.91,1339.61 L1467.71,1340.20 L1468.52,1340.78 L1469.34,1341.36 L1470.15,1341.94 L1470.97,1342.51 L1471.79,1343.08 L1472.61,1343.65 L1473.44,1344.21 L1474.27,1344.77 L1475.10,1345.32 L1475.93,1345.87 L1476.77,1346.42 L1477.60,1346.96 L1478.44,1347.50 L1479.29,1348.03 L1480.13,1348.56 L1480.98,1349.09 L1481.83,1349.61 L1482.69,1350.13 L1483.54,1350.65 L1484.40,1351.16 L1485.26,1351.66 L1486.13,1352.17 L1486.99,1352.66 L1487.86,1353.16 L1488.73,1353.65 L1489.60,1354.13 L1490.48,1354.61 L1491.35,1355.09 L1492.23,1355.56 L1493.12,1356.03 L1494.00,1356.50 L1494.89,1356.96 L1495.77,1357.41 L1496.66,1357.87 L1497.56,1358.31 L1498.45,1358.76 L1499.35,1359.20 L1500.25,1359.63 L1501.15,1360.06 L1502.05,1360.49 L1502.96,1360.91 L1503.87,1361.33 L1504.78,1361.74 L1505.69,1362.15 L1506.60,1362.56 L1507.51,1362.96 L1508.43,1363.36 L1509.35,1363.75 L1510.27,1364.14 L1511.19,1364.52 L1512.12,1364.90 L1513.04,1365.27 L1513.97,1365.65 L1514.90,1366.01 L1515.83,1366.38 L1516.76,1366.74 L1517.70,1367.09 L1518.63,1367.44 L1519.57,1367.79 L1520.51,1368.13 L1521.45,1368.47 L1522.39,1368.80 L1523.33,1369.13 L1524.28,1369.46 L1525.22,1369.78 L1526.17,1370.10 L1527.12,1370.41 L1528.07,1370.72 L1529.02,1371.03 L1529.97,1371.33 L1530.93,1371.63 L1531.88,1371.93 L1532.84,1372.22 L1533.80,1372.50 L1534.75,1372.79 L1535.71,1373.07 L1536.67,1373.34 L1537.63,1373.62 L1538.60,1373.89 L1539.56,1374.15 L1540.53,1374.41 L1541.49,1374.67 L1542.46,1374.93 L1543.42,1375.18 L1544.39,1375.43 L1545.36,1375.67 L1546.33,1375.92 L1547.30,1376.16 L1548.27,1376.39 L1549.25,1376.62 L1550.22,1376.85 L1551.19,1377.08 L1552.17,1377.30 L1553.14,1377.52 L1554.12,1377.74 L1555.09,1377.96 L1556.07,1378.17 L1557.05,1378.38 L1558.03,1378.58 L1559.01,1378.79 L1559.98,1378.99 L1560.96,1379.19 L1561.94,1379.38 L1562.93,1379.58 L1563.91,1379.77 L1564.89,1379.96 L1565.87,1380.14 L1566.85,1380.33 L1567.84,1380.51 L1568.82,1380.69 L1569.80,1380.87 L1570.79,1381.04 L1571.77,1381.22 L1572.76,1381.39 L1573.74,1381.56 L1574.73,1381.73 L1575.71,1381.89 L1576.70,1382.06 L1577.69,1382.22 L1578.67,1382.38 L1579.66,1382.54 L1580.65,1382.70 L1581.64,1382.86 L1582.62,1383.01 L1583.61,1383.17 L1584.60,1383.32 L1585.59,1383.47 L1586.58,1383.62 L1587.57,1383.77 L1588.55,1383.92 L1589.54,1384.06 L1590.53,1384.21 L1591.52,1384.35 L1592.51,1384.49 L1593.50,1384.63 L1594.49,1384.77 L1595.48,1384.91 L1596.47,1385.04 L1597.46,1385.18 L1598.46,1385.31 L1599.45,1385.44 L1600.44,1385.57 L1601.43,1385.70 L1602.42,1385.83 L1603.41,1385.95 L1604.41,1386.08 L1605.40,1386.20 L1606.39,1386.33 L1607.38,1386.45 L1608.38,1386.57 L1609.37,1386.69 L1610.36,1386.80 L1611.35,1386.92 L1612.35,1387.03 L1613.34,1387.15 L1614.33,1387.26 L1615.33,1387.37 L1616.32,1387.48 L1617.32,1387.59 L1618.31,1387.70 L1619.30,1387.80 L1620.30,1387.91 L1621.29,1388.01 L1622.29,1388.12 L1623.28,1388.22 L1624.28,1388.32 L1625.27,1388.42 L1626.27,1388.51 L1627.26,1388.61 L1628.26,1388.71 L1629.25,1388.80 L1630.25,1388.89 L1631.25,1388.99 L1632.24,1389.08 L1633.24,1389.17 L1634.23,1389.26 L1635.23,1389.35 L1636.23,1389.43 L1637.22,1389.52 L1638.22,1389.60 L1639.21,1389.69 L1640.21,1389.77 L1641.21,1389.85 L1642.20,1389.93 L1643.20,1390.01 L1644.20,1390.09 L1645.20,1390.17 L1646.19,1390.24 L1647.19,1390.32 L1648.19,1390.39 L1649.18,1390.47 L1650.18,1390.54 L1651.18,1390.61 L1652.18,1390.68 L1653.17,1390.75 L1654.17,1390.82 L1655.17,1390.89 L1656.17,1390.95 L1657.16,1391.02 L1658.16,1391.08 L1659.16,1391.15 L1660.16,1391.21 L1661.16,1391.27 L1662.15,1391.33 L1663.15,1391.39 L1664.15,1391.45 L1665.15,1391.51 L1666.15,1391.57 L1667.15,1391.63 L1668.14,1391.68 L1669.14,1391.74 L1670.14,1391.79 L1671.14,1391.85 L1672.14,1391.90 L1673.14,1391.95 L1674.14,1392.00 L1675.13,1392.05 L1676.13,1392.10 L1677.13,1392.15 L1678.13,1392.20 L1679.13,1392.25 L1680.13,1392.29 L1681.13,1392.34 L1682.13,1392.38 L1683.12,1392.43 L1684.12,1392.47 L1685.12,1392.52 L1686.12,1392.56 L1687.12,1392.60 L1688.12,1392.64 L1689.12,1392.68 L1690.12,1392.72 L1691.12,1392.76 L1692.12,1392.80 L1693.12,1392.83 L1694.12,1392.87 L1695.12,1392.91 L1696.11,1392.94 L1697.11,1392.98 L1698.11,1393.01 L1699.11,1393.05 L1700.11,1393.08 L1701.11,1393.11 L1702.11,1393.15 L1703.11,1393.18 L1704.11,1393.21 L1705.11,1393.24 L1706.11,1393.27 L1707.11,1393.30 L1708.11,1393.33 L1709.11,1393.36 L1710.11,1393.38 L1711.11,1393.41 L1712.11,1393.44 L1713.11,1393.46 L1714.11,1393.49 L1715.11,1393.52 L1716.11,1393.54 L1717.10,1393.57 L1718.10,1393.59 L1719.10,1393.61 L1720.10,1393.64 L1721.10,1393.66 L1722.10,1393.68 L1723.10,1393.70 L1724.10,1393.73 L1725.10,1393.75 L1726.10,1393.77 L1727.10,1393.79 L1728.10,1393.81 L1729.10,1393.83 L1730.10,1393.85 L1731.10,1393.87 L1732.10,1393.88 L1733.10,1393.90 L1734.10,1393.92 L1735.10,1393.94 L1736.10,1393.96 L1737.10,1393.97 L1738.10,1393.99 L1739.10,1394.01 L1740.10,1394.02 L1741.10,1394.04 L1742.10,1394.05 L1743.10,1394.07 L1744.10,1394.09 L1745.10,1394.10 L1746.10,1394.12 L1747.10,1394.13 L1748.10,1394.14 L1749.10,1394.16 L1750.10,1394.17 L1751.10,1394.19 L1752.10,1394.20 L1753.10,1394.21 L1754.10,1394.23 L1755.10,1394.24 L1756.10,1394.25 L1757.10,1394.27 L1758.10,1394.28 L1759.10,1394.29 L1760.10,1394.30 L1761.10,1394.32 L1762.10,1394.33 L1763.10,1394.34 L1764.10,1394.35 L1765.10,1394.36 L1766.10,1394.37 L1767.10,1394.39 L1768.10,1394.40 L1769.10,1394.41 L1770.10,1394.42 L1771.10,1394.43 L1772.10,1394.44 L1773.10,1394.45 L1774.10,1394.46 L1775.10,1394.47 L1776.10,1394.48 L1777.10,1394.49 L1778.10,1394.50 L1779.10,1394.51 L1780.10,1394.52 L1781.10,1394.52 L1782.10,1394.53 L1783.10,1394.54 L1784.10,1394.55 L1785.10,1394.56 L1786.10,1394.57 L1787.10,1394.58 L1788.10,1394.58 L1789.10,1394.59 L1790.10,1394.60 L1791.10,1394.61 L1792.10,1394.61 L1793.10,1394.62 L1794.10,1394.63 L1795.10,1394.64 L1796.10,1394.64 L1797.10,1394.65 L1798.10,1394.66 L1799.10,1394.66 L1800.10,1394.67 L1801.10,1394.67 L1802.10,1394.68 L1803.10,1394.69 L1804.10,1394.69 L1805.10,1394.70 L1806.10,1394.70 L1807.10,1394.71 L1808.10,1394.72 L1809.10,1394.72 L1810.10,1394.73 L1811.10,1394.73 L1812.10,1394.74 L1813.10,1394.74 L1814.10,1394.75 L1815.10,1394.75 L1816.10,1394.76 L1817.10,1394.76 L1818.10,1394.76 L1819.10,1394.77 L1820.10,1394.77 L1821.10,1394.78 L1822.10,1394.78 L1823.10,1394.79 L1824.10,1394.79 L1825.10,1394.79 L1826.10,1394.80 L1827.10,1394.80 L1828.10,1394.80 L1829.10,1394.81 L1830.10,1394.81 L1831.10,1394.81 L1832.10,1394.82 L1833.10,1394.82 L1834.10,1394.82 L1835.10,1394.83 L1836.10,1394.83 L1837.10,1394.83 L1838.10,1394.83 L1839.10,1394.84 L1840.10,1394.84 L1841.10,1394.84 L1842.10,1394.84 L1843.10,1394.85 L1844.10,1394.85 L1845.10,1394.85 L1846.10,1394.85 L1847.10,1394.86 L1848.10,1394.86 L1849.10,1394.86 L1850.10,1394.86 L1851.10,1394.86 L1852.10,1394.87 L1853.10,1394.87 L1854.10,1394.87 L1855.10,1394.87 L1856.10,1394.87 L1857.10,1394.87 L1858.10,1394.87 L1859.10,1394.88 L1860.10,1394.88 L1861.10,1394.88 L1862.10,1394.88 L1863.10,1394.88 L1864.10,1394.88 L1865.10,1394.88 L1866.10,1394.88 L1867.10,1394.89 L1868.10,1394.89 L1869.10,1394.89 L1870.10,1394.89 L1871.10,1394.89 L1872.10,1394.89 L1873.10,1394.89 L1874.10,1394.89 L1875.10,1394.89 L1876.10,1394.89 L1877.10,1394.89 L1878.10,1394.89 L1879.10,1394.90 L1880.10,1394.90 L1881.10,1394.90 L1882.10,1394.90 L1883.10,1394.90 L1884.10,1394.90 L1885.10,1394.90 L1886.10,1394.90 L1887.10,1394.90 L1888.10,1394.90 L1889.10,1394.90 L1890.10,1394.90 L1891.10,1394.90 L1892.10,1394.90 L1893.10,1394.90 L1894.10,1394.90 L1895.10,1394.90 L1896.10,1394.90 L1897.10,1394.90 L1898.10,1394.90 L1899.10,1394.91 L1900.10,1394.91 L1901.10,1394.91 L1902.10,1394.91 L1903.10,1394.91 L1904.10,1394.91 L1905.10,1394.91 L1906.10,1394.91 L1907.10,1394.91 L1908.10,1394.91 L1909.10,1394.91 L1910.10,1394.91 L1911.10,1394.91 L1912.10,1394.91 L1913.10,1394.91 L1914.10,1394.91 L1915.10,1394.91 L1916.10,1394.91 L1917.10,1394.91 L1918.10,1394.91 L1919.10,1394.91 L1920.10,1394.91 L1921.10,1394.91 L1922.10,1394.91 L1923.10,1394.91 L1924.10,1394.91 L1925.10,1394.91 L1926.10,1394.91 L1927.10,1394.91 L1928.10,1394.91 L1929.10,1394.91 L1930.10,1394.91 L1931.10,1394.91 L1932.10,1394.91 L1933.10,1394.91 L1934.10,1394.91 L1935.10,1394.91 L1936.10,1394.91 L1937.10,1394.91 L1938.10,1394.91 L1939.10,1394.91 L1940.10,1394.91 L1941.10,1394.91 L1942.10,1394.91 L1943.10,1394.91 L1944.10,1394.91 L1945.10,1394.91 L1946.10,1394.91 L1947.10,1394.91 L1948.10,1394.91 L1949.10,1394.91 L1950.10,1394.91 L1951.10,1394.91 L1952.10,1394.91 L1953.10,1394.91 L1954.10,1394.91 L1955.10,1394.91 L1956.10,1394.91 L1957.10,1394.91 L1958.10,1394.91 L1959.10,1394.91 L1960.10,1394.91 L1961.10,1394.91 L1962.10,1394.91 L1963.10,1394.91 L1964.10,1394.91 L1965.10,1394.91 L1966.10,1394.91 L1967.10,1394.91 L1968.10,1394.91 L1969.10,1394.91 L1970.10,1394.91 L1971.10,1394.91 L1972.10,1394.91 L1973.10,1394.91 L1974.10,1394.91 L1975.10,1394.91 L1976.10,1394.91 L1977.10,1394.91 L1978.10,1394.91 L1979.10,1394.91 L1980.10,1394.91 L1981.10,1394.91 L1982.10,1394.91 L1983.10,1394.91 L1984.10,1394.91 L1985.10,1394.91 L1986.10,1394.91 L1987.10,1394.91 L1988.10,1394.91 L1989.10,1394.91 L1990.10,1394.91 L1991.10,1394.91 L1992.10,1394.91 L1993.10,1394.91 L1994.10,1394.91 L1995.10,1394.91 L1996.10,1394.91 L1997.10,1394.91 L1998.10,1394.91 L1999.10,1394.91 L2000.10,1394.91 L2001.10,1394.91 L2002.10,1394.91 L2003.10,1394.91 L2004.10,1394.91 L2005.10,1394.91 L2006.10,1394.91 L2007.10,1394.91 L2008.10,1394.91 L2009.10,1394.91 L2010.10,1394.91 L2011.10,1394.91 L2012.10,1394.91 L2013.10,1394.90 L2014.10,1394.90 L2015.10,1394.90 L2016.10,1394.90 L2017.10,1394.90 L2018.10,1394.90 L2019.10,1394.90 L2020.10,1394.90 L2021.10,1394.90 L2022.10,1394.90 L2023.10,1394.90 L2024.10,1394.90 L2025.10,1394.90 L2026.10,1394.90 L2027.10,1394.90 L2028.10,1394.90 L2029.10,1394.90 L2030.10,1394.90 L2031.10,1394.90 L2032.10,1394.90 L2033.10,1394.90 L2034.10,1394.90 L2035.10,1394.90 L2036.10,1394.90 L2037.10,1394.90 L2038.10,1394.90 L2039.10,1394.90 L2040.10,1394.90 L2041.10,1394.90 L2042.10,1394.90 L2043.10,1394.90 L2044.10,1394.90 L2045.10,1394.90 L2046.10,1394.90 L2047.10,1394.90 L2048.10,1394.90 L2049.10,1394.90 L2050.10,1394.90 L2051.10,1394.90 L2052.10,1394.90 L2053.10,1394.90 L2054.10,1394.90 L2055.10,1394.90 L2056.10,1394.90 L2057.10,1394.90 L2058.10,1394.90 L2059.10,1394.89 L2060.10,1394.89 L2061.10,1394.89 L2062.10,1394.89 L2063.10,1394.89 L2064.10,1394.89 L2065.10,1394.89 L2066.10,1394.89 L2067.10,1394.89 L2068.10,1394.89 L2069.10,1394.89 L2070.10,1394.89 L2071.10,1394.89 L2072.10,1394.89 L2073.10,1394.89 L2074.10,1394.89 L2075.10,1394.89 L2076.10,1394.89 L2077.10,1394.89 L2078.10,1394.89 L2079.10,1394.89 L2080.10,1394.89 L2081.10,1394.89 L2082.10,1394.89 L2083.10,1394.89 L2084.10,1394.89 L2085.10,1394.89 L2086.10,1394.89 L2087.10,1394.89 L2088.10,1394.89 L2089.10,1394.89 L2090.10,1394.89 L2091.10,1394.89 L2092.10,1394.89 L2093.10,1394.89 L2094.10,1394.89 L2095.10,1394.89 L2096.10,1394.89 L2097.10,1394.89 L2098.10,1394.89 L2099.10,1394.89 L2100.10,1394.89 L2101.10,1394.89 L2102.10,1394.89 L2103.10,1394.89 L2104.10,1394.89 L2105.10,1394.89 L2106.10,1394.89 L2107.10,1394.89 L2108.10,1394.89 L2109.10,1394.89 L2110.10,1394.89 L2111.10,1394.89 L2112.10,1394.89 L2113.10,1394.89 L2114.10,1394.89 L2115.10,1394.89 L2116.10,1394.89 L2117.10,1394.89 L2118.10,1394.89 L2119.10,1394.89 L2120.10,1394.89 L2121.10,1394.89 L2122.10,1394.89 L2123.10,1394.89 L2124.10,1394.89 L2125.10,1394.89 L2126.10,1394.89 L2127.10,1394.89 L2128.10,1394.89 L2129.10,1394.89 L2130.10,1394.89 L2131.10,1394.89 L2132.10,1394.89 L2133.10,1394.89 L2134.10,1394.89 L2135.10,1394.89 L2136.10,1394.89 L2137.10,1394.89 L2138.10,1394.89 L2139.10,1394.89 L2140.10,1394.90 L2141.10,1394.90 L2142.10,1394.90 L2143.10,1394.90 L2144.10,1394.90 L2145.10,1394.90 L2146.10,1394.90 L2147.10,1394.90 L2148.10,1394.90 L2149.10,1394.90 L2150.10,1394.90 L2151.10,1394.90 L2152.10,1394.90 L2153.10,1394.90 L2154.10,1394.90 L2155.10,1394.90 L2156.10,1394.90 L2157.10,1394.90 L2158.10,1394.90 L2159.10,1394.90 L2160.10,1394.90 L2161.10,1394.90 L2162.10,1394.90 L2163.10,1394.90 L2164.10,1394.90 L2165.10,1394.90 L2166.10,1394.91 L2167.10,1394.91 L2168.10,1394.91 L2169.10,1394.91 L2170.00,1394.91"/></defs>
<use href="#c2" stroke="#0000ff" stroke-opacity="0.12" stroke-width="12.399999999999999"/>
<use href="#c2" stroke="#0000ff" stroke-width="8.2"/>
</g>
<g stroke="#000" fill="none">
<line x1="283" y1="58.0" x2="2161.6" y2="53.5" stroke-width="6.6"/>
<line x1="2158.5" y1="50.2" x2="2160.3" y2="1395.2" stroke-width="6.5"/>
</g>
<text class="tk" transform="translate(229.3,1417.3) scale(1,1.04)" text-anchor="end">0</text>
<text class="tk" transform="translate(229.3,1194.3) scale(1,1.04)" text-anchor="end">1000</text>
<text class="tk" transform="translate(229.3,971.3) scale(1,1.04)" text-anchor="end">2000</text>
<text class="tk" transform="translate(229.3,748.3) scale(1,1.04)" text-anchor="end">3000</text>
<text class="tk" transform="translate(229.3,525.3) scale(1,1.04)" text-anchor="end">4000</text>
<text class="tk" transform="translate(229.3,302.3) scale(1,1.04)" text-anchor="end">5000</text>
<text class="tk" transform="translate(229.3,78.1) scale(1,1.04)" text-anchor="end">6000</text>
<text class="tk" transform="translate(283.1,1490.6) scale(1,1.04)" text-anchor="middle">300</text>
<text class="tk" transform="translate(658.3,1490.6) scale(1,1.04)" text-anchor="middle">400</text>
<text class="tk" transform="translate(1033.5,1490.6) scale(1,1.04)" text-anchor="middle">500</text>
<text class="tk" transform="translate(1408.7,1490.6) scale(1,1.04)" text-anchor="middle">600</text>
<text class="tk" transform="translate(1783.9,1490.6) scale(1,1.04)" text-anchor="middle">700</text>
<text class="tk" transform="translate(2159.1,1490.6) scale(1,1.04)" text-anchor="middle">800</text>
<text class="ax" transform="translate(1221.5,1574.6) scale(1,1.025)" text-anchor="middle">Wavelength / nm</text>
<text class="ax" transform="translate(64.8,871) rotate(-90)"><tspan font-style="italic">ε</tspan> / cm<tspan font-size="42" dy="-18.5">-1</tspan><tspan dy="18.5">M</tspan><tspan font-size="42" dy="-18.5">-1</tspan></text>
<text class="an" transform="translate(560.0,113.8) scale(1,1.04)" text-anchor="middle">364</text>
<text class="an" transform="translate(670.6,114.5) scale(1,1.04)" text-anchor="middle">386</text>
<text class="an" transform="translate(409.4,312.0) scale(1,1.04)" text-anchor="middle">351</text>
<text class="an" transform="translate(737.8,400.0) scale(1,1.04)" text-anchor="middle">397</text>
<text class="an" transform="translate(385.0,465.0) scale(1,1.04)" text-anchor="middle">328</text>
<text class="an" transform="translate(401.8,772.5) scale(1,1.04)" text-anchor="middle">329</text>
<text class="an" transform="translate(894.8,334.0) scale(1,1.04)" text-anchor="middle">464</text>
<text class="an" transform="translate(1141.0,697.0) scale(1,1.04)" text-anchor="middle">526</text>
<text class="an" transform="translate(1209.8,948.0) scale(1,1.04)" text-anchor="middle">552</text>
<text class="an" transform="translate(1090.0,1056.2) scale(1,1.04)" text-anchor="middle">515</text>
<line x1="552.0" y1="140.5" x2="532.3" y2="198.3" stroke="#000" stroke-width="1.8"/><polygon points="524.2,222.0 520.0,194.1 544.6,202.5" fill="#000"/>
<line x1="671.2" y1="138.8" x2="644.0" y2="151.0" stroke="#000" stroke-width="1.8"/><polygon points="621.2,161.2 638.7,139.1 649.4,162.8" fill="#000"/>
<line x1="412.5" y1="326.2" x2="431.9" y2="352.0" stroke="#000" stroke-width="1.8"/><polygon points="447.0,372.0 421.6,359.9 442.3,344.2" fill="#000"/>
<line x1="738.8" y1="423.8" x2="708.3" y2="444.1" stroke="#000" stroke-width="1.8"/><polygon points="687.5,458.0 701.1,433.3 715.5,454.9" fill="#000"/>
<line x1="403.0" y1="720.0" x2="405.0" y2="678.7" stroke="#000" stroke-width="1.8"/><polygon points="406.2,653.8 418.0,679.4 392.0,678.1" fill="#000"/>
<g fill="none" stroke-width="6.9">
<line x1="1669.2" y1="169" x2="1747.4" y2="169" stroke="#ff6600"/>
<line x1="1667.6" y1="265.2" x2="1746.8" y2="265.2" stroke="#0000ff"/>
<line x1="1669.6" y1="359.7" x2="1748.8" y2="359.7" stroke="#006400"/>
</g>
<text class="lg" transform="translate(1782.5,180) scale(1,1.04)">1</text>
<text class="lg" transform="translate(1782.5,276.3) scale(1,1.04)">2</text>
<text class="lg" transform="translate(1782.5,380.3) scale(1,1.04)">3<tspan font-size="25" dx="6.5" dy="-7.5">●</tspan><tspan dx="5.5" dy="7.5">0.5C</tspan><tspan font-size="36" dx="-1" dy="11.3">6</tspan><tspan dx="-0.5" dy="-11.3">H</tspan><tspan font-size="36" dx="-1" dy="11.3">14</tspan></text>
</svg></body></html>
